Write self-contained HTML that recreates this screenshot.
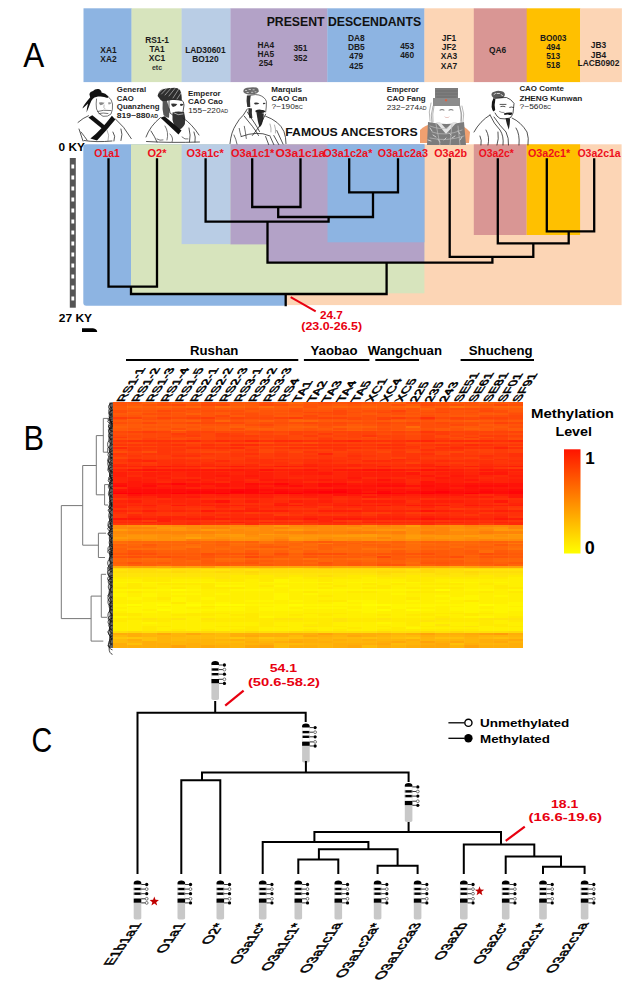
<!DOCTYPE html><html><head><meta charset="utf-8"><style>html,body{margin:0;padding:0;background:#fff;width:630px;height:982px;overflow:hidden}svg{display:block;font-family:"Liberation Sans",Arial,sans-serif}.hm rect{width:14.7px}</style></head><body>
<svg width="630" height="982" viewBox="0 0 630 982">
<text transform="translate(23.2 66.9) scale(0.9 1)" font-size="35">A</text>
<text transform="translate(23.4 449.7) scale(0.88 1)" font-size="35">B</text>
<text transform="translate(31.5 752.1) scale(0.82 1)" font-size="35">C</text>
<rect x="83.5" y="8.3" width="48.3" height="73.8" fill="#8db4e2"/>
<rect x="131.5" y="8.3" width="50.4" height="73.8" fill="#d7e4bd"/>
<rect x="181.6" y="8.3" width="49.2" height="73.8" fill="#b9cde5"/>
<rect x="230.5" y="8.3" width="97.1" height="73.8" fill="#b3a2c7"/>
<rect x="327.3" y="8.3" width="97.4" height="73.8" fill="#8db4e2"/>
<rect x="424.4" y="8.3" width="49.7" height="73.8" fill="#fcd5b5"/>
<rect x="473.8" y="8.3" width="53.2" height="73.8" fill="#d99694"/>
<rect x="526.7" y="8.3" width="53.7" height="73.8" fill="#ffc000"/>
<rect x="580.1" y="8.3" width="41.8" height="73.8" fill="#fcd5b5"/>
<text x="266.7" y="26.2" font-size="12" font-weight="bold" fill="#111" textLength="154.4" lengthAdjust="spacingAndGlyphs">PRESENT DESCENDANTS</text>
<text x="108.5" y="52.9" font-size="8.4" font-weight="bold" fill="#1a1a1a" text-anchor="middle">XA1</text>
<text x="108.5" y="62.1" font-size="8.4" font-weight="bold" fill="#1a1a1a" text-anchor="middle">XA2</text>
<text x="157" y="42.9" font-size="8.4" font-weight="bold" fill="#1a1a1a" text-anchor="middle">RS1-1</text>
<text x="157" y="52.1" font-size="8.4" font-weight="bold" fill="#1a1a1a" text-anchor="middle">TA1</text>
<text x="157" y="61.4" font-size="8.4" font-weight="bold" fill="#1a1a1a" text-anchor="middle">XC1</text>
<text x="205.4" y="52.9" font-size="8.4" font-weight="bold" fill="#1a1a1a" text-anchor="middle">LAD30601</text>
<text x="205.4" y="62.1" font-size="8.4" font-weight="bold" fill="#1a1a1a" text-anchor="middle">BO120</text>
<text x="265.8" y="47.9" font-size="8.4" font-weight="bold" fill="#1a1a1a" text-anchor="middle">HA4</text>
<text x="265.8" y="57.1" font-size="8.4" font-weight="bold" fill="#1a1a1a" text-anchor="middle">HA5</text>
<text x="265.8" y="66.1" font-size="8.4" font-weight="bold" fill="#1a1a1a" text-anchor="middle">254</text>
<text x="300.4" y="51.4" font-size="8.4" font-weight="bold" fill="#1a1a1a" text-anchor="middle">351</text>
<text x="300.4" y="60.7" font-size="8.4" font-weight="bold" fill="#1a1a1a" text-anchor="middle">352</text>
<text x="356.3" y="41.1" font-size="8.4" font-weight="bold" fill="#1a1a1a" text-anchor="middle">DA8</text>
<text x="356.3" y="50.3" font-size="8.4" font-weight="bold" fill="#1a1a1a" text-anchor="middle">DB5</text>
<text x="356.3" y="59.3" font-size="8.4" font-weight="bold" fill="#1a1a1a" text-anchor="middle">479</text>
<text x="356.3" y="68.6" font-size="8.4" font-weight="bold" fill="#1a1a1a" text-anchor="middle">425</text>
<text x="407.2" y="49.3" font-size="8.4" font-weight="bold" fill="#1a1a1a" text-anchor="middle">453</text>
<text x="407.2" y="58.3" font-size="8.4" font-weight="bold" fill="#1a1a1a" text-anchor="middle">460</text>
<text x="449" y="41.4" font-size="8.4" font-weight="bold" fill="#1a1a1a" text-anchor="middle">JF1</text>
<text x="449" y="50" font-size="8.4" font-weight="bold" fill="#1a1a1a" text-anchor="middle">JF2</text>
<text x="449" y="59.3" font-size="8.4" font-weight="bold" fill="#1a1a1a" text-anchor="middle">XA3</text>
<text x="449" y="68.6" font-size="8.4" font-weight="bold" fill="#1a1a1a" text-anchor="middle">XA7</text>
<text x="497.5" y="52.9" font-size="8.4" font-weight="bold" fill="#1a1a1a" text-anchor="middle">QA6</text>
<text x="553.2" y="40.5" font-size="8.4" font-weight="bold" fill="#1a1a1a" text-anchor="middle">BO003</text>
<text x="553.2" y="49.6" font-size="8.4" font-weight="bold" fill="#1a1a1a" text-anchor="middle">494</text>
<text x="553.2" y="58.8" font-size="8.4" font-weight="bold" fill="#1a1a1a" text-anchor="middle">513</text>
<text x="553.2" y="68" font-size="8.4" font-weight="bold" fill="#1a1a1a" text-anchor="middle">518</text>
<text x="598.5" y="48.3" font-size="8.4" font-weight="bold" fill="#1a1a1a" text-anchor="middle">JB3</text>
<text x="598.5" y="57.6" font-size="8.4" font-weight="bold" fill="#1a1a1a" text-anchor="middle">JB4</text>
<text x="598.5" y="66.3" font-size="8.4" font-weight="bold" fill="#1a1a1a" text-anchor="middle">LACB0902</text>
<text x="157" y="70" font-size="7" font-weight="bold" fill="#333" text-anchor="middle">etc</text>
<rect x="83.3" y="144.3" width="203" height="161.5" rx="3" fill="#8db4e2"/>
<rect x="285" y="144.3" width="336.6" height="160.8" fill="#fcd5b5"/>
<rect x="131" y="144.3" width="293.4" height="149" fill="#d7e4bd"/>
<rect x="181.6" y="144.3" width="49" height="99.8" fill="#b9cde5"/>
<rect x="230.5" y="144.3" width="37.5" height="100.1" fill="#b3a2c7"/>
<rect x="267.5" y="144.3" width="156.9" height="118.4" fill="#b3a2c7"/>
<rect x="327.5" y="144.3" width="96.9" height="98" fill="#8db4e2"/>
<rect x="473.8" y="144.3" width="52.9" height="90.7" fill="#d99694"/>
<rect x="526.7" y="144.3" width="53.4" height="90.7" fill="#ffc000"/>
<text x="94.3" y="157" font-size="10" font-weight="bold" fill="#ee0f1c" textLength="25.5" lengthAdjust="spacingAndGlyphs">O1a1</text>
<text x="147.5" y="157" font-size="10" font-weight="bold" fill="#ee0f1c" textLength="19.0" lengthAdjust="spacingAndGlyphs">O2*</text>
<text x="186.5" y="157" font-size="10" font-weight="bold" fill="#ee0f1c" textLength="37.2" lengthAdjust="spacingAndGlyphs">O3a1c*</text>
<text x="231" y="157" font-size="10" font-weight="bold" fill="#ee0f1c" textLength="43.4" lengthAdjust="spacingAndGlyphs">O3a1c1*</text>
<text x="275.4" y="157" font-size="10" font-weight="bold" fill="#ee0f1c" textLength="49.8" lengthAdjust="spacingAndGlyphs">O3a1c1a</text>
<text x="323.2" y="157" font-size="10" font-weight="bold" fill="#ee0f1c" textLength="49.2" lengthAdjust="spacingAndGlyphs">O3a1c2a*</text>
<text x="377.8" y="157" font-size="10" font-weight="bold" fill="#ee0f1c" textLength="50.2" lengthAdjust="spacingAndGlyphs">O3a1c2a3</text>
<text x="434.3" y="157" font-size="10" font-weight="bold" fill="#ee0f1c" textLength="32.7" lengthAdjust="spacingAndGlyphs">O3a2b</text>
<text x="478.7" y="157" font-size="10" font-weight="bold" fill="#ee0f1c" textLength="35.0" lengthAdjust="spacingAndGlyphs">O3a2c*</text>
<text x="527.9" y="157" font-size="10" font-weight="bold" fill="#ee0f1c" textLength="42.3" lengthAdjust="spacingAndGlyphs">O3a2c1*</text>
<text x="577.4" y="157" font-size="10" font-weight="bold" fill="#ee0f1c" textLength="43.3" lengthAdjust="spacingAndGlyphs">O3a2c1a</text>
<path d="M108.5 159.3L108.5 286.7 M157 159.3L157 286.7 M108.5 286.7L157 286.7 M131 286.7L131 294 M131 294L386.6 294 M285.7 294L285.7 305 M205.6 159.3L205.6 221.7 M252.2 159.3L252.2 207 M300.5 159.3L300.5 207 M252.2 207L300.5 207 M278.2 207L278.2 217 M349.2 159.3L349.2 192.4 M398 159.3L398 192.4 M349.2 192.4L398 192.4 M373 192.4L373 217 M278.2 217L373 217 M328.6 217L328.6 221.7 M205.6 221.7L328.6 221.7 M267.5 221.7L267.5 262.7 M267.5 262.7L492.4 262.7 M386.6 262.7L386.6 294 M449.7 159.3L449.7 256.8 M497.8 159.3L497.8 243.3 M546.8 159.3L546.8 231.3 M594.2 159.3L594.2 231.3 M546.8 231.3L594.2 231.3 M568.7 231.3L568.7 243.3 M497.8 243.3L568.7 243.3 M533.3 243.3L533.3 256.8 M449.7 256.8L533.3 256.8 M492.4 256.8L492.4 262.7" stroke="#000" stroke-width="2.3" fill="none" stroke-linecap="square"/>
<rect x="69.8" y="158" width="6" height="149.7" fill="#555"/>
<path d="M71.4 164.4h2.8v4h-2.8z M71.4 175.4h2.8v4h-2.8z M71.4 186.4h2.8v4h-2.8z M71.4 197.4h2.8v4h-2.8z M71.4 208.4h2.8v4h-2.8z M71.4 219.4h2.8v4h-2.8z M71.4 230.4h2.8v4h-2.8z M71.4 241.4h2.8v4h-2.8z M71.4 252.4h2.8v4h-2.8z M71.4 263.4h2.8v4h-2.8z M71.4 274.4h2.8v4h-2.8z M71.4 285.4h2.8v4h-2.8z M71.4 296.4h2.8v4h-2.8z" fill="#fff"/>
<text x="58.6" y="150.7" font-size="10" font-weight="bold" fill="#000" textLength="26.3" lengthAdjust="spacingAndGlyphs">0 KY</text>
<text x="58.8" y="322.3" font-size="11" font-weight="bold" fill="#000" textLength="33.3" lengthAdjust="spacingAndGlyphs">27 KY</text>
<path d="M82 332L82 328.3L93 328.3Q97 329 97.2 332Z" fill="#000"/>
<line x1="290.7" y1="297.1" x2="315.7" y2="311.4" stroke="#e80010" stroke-width="2"/>
<text x="331.4" y="319.3" font-size="10" font-weight="bold" fill="#e80010" text-anchor="middle" textLength="22.9" lengthAdjust="spacingAndGlyphs">24.7</text>
<text x="331.7" y="329.5" font-size="10" font-weight="bold" fill="#e80010" text-anchor="middle" textLength="60.7" lengthAdjust="spacingAndGlyphs">(23.0-26.5)</text>
<text x="285.2" y="135.5" font-size="11" font-weight="bold" fill="#111" textLength="132.4" lengthAdjust="spacingAndGlyphs">FAMOUS ANCESTORS</text>
<text x="214.2" y="355.3" font-size="13.2" font-weight="bold" fill="#000" text-anchor="middle">Rushan</text>
<text x="334" y="355.3" font-size="13.2" font-weight="bold" fill="#000" text-anchor="middle">Yaobao</text>
<text x="404.9" y="355.3" font-size="13.2" font-weight="bold" fill="#000" text-anchor="middle">Wangchuan</text>
<text x="500.7" y="355.3" font-size="13.2" font-weight="bold" fill="#000" text-anchor="middle">Shucheng</text>
<path d="M126 360L298.3 360 M303.9 360L369.4 360 M375.3 360L419 360 M460.6 360L534 360" stroke="#000" stroke-width="2" fill="none" stroke-linecap="butt"/>
<g class="hm" shape-rendering="crispEdges">
<g transform="translate(112.80 0)">
<rect y="402.4" width="14.7" height="3.8" fill="#ff5408"/>
<rect y="406.2" width="14.7" height="3.9" fill="#ff5a08"/>
<rect y="410.0" width="14.7" height="3.2" fill="#ff4e08"/>
<rect y="413.2" width="14.7" height="2.0" fill="#ff5a08"/>
<rect y="415.2" width="14.7" height="1.7" fill="#ff5408"/>
<rect y="416.8" width="14.7" height="1.9" fill="#ff3c08"/>
<rect y="418.6" width="14.7" height="1.7" fill="#ff4e08"/>
<rect y="420.2" width="14.7" height="1.7" fill="#ff5a08"/>
<rect y="421.8" width="14.7" height="2.2" fill="#ff4e08"/>
<rect y="424.0" width="14.7" height="2.2" fill="#ff5a08"/>
<rect y="426.2" width="14.7" height="1.7" fill="#ff6008"/>
<rect y="427.8" width="14.7" height="3.5" fill="#ff5a08"/>
<rect y="431.2" width="14.7" height="2.2" fill="#ff4808"/>
<rect y="433.4" width="14.7" height="1.7" fill="#ff4e08"/>
<rect y="435.0" width="14.7" height="1.7" fill="#ff4808"/>
<rect y="436.6" width="14.7" height="1.9" fill="#ff3c08"/>
<rect y="438.4" width="14.7" height="1.7" fill="#ff4e08"/>
<rect y="440.0" width="14.7" height="2.2" fill="#ff3608"/>
<rect y="442.2" width="14.7" height="1.7" fill="#ff4208"/>
<rect y="443.8" width="14.7" height="1.9" fill="#ff3608"/>
<rect y="445.6" width="14.7" height="1.7" fill="#ff4e08"/>
<rect y="447.2" width="14.7" height="1.9" fill="#ff2a08"/>
<rect y="449.0" width="14.7" height="2.0" fill="#ff4208"/>
<rect y="451.0" width="14.7" height="2.2" fill="#ff4e08"/>
<rect y="453.2" width="14.7" height="1.9" fill="#ff3608"/>
<rect y="455.0" width="14.7" height="1.7" fill="#ff3c08"/>
<rect y="456.6" width="14.7" height="2.0" fill="#ff4808"/>
<rect y="458.6" width="14.7" height="3.5" fill="#ff3608"/>
<rect y="462.0" width="14.7" height="1.9" fill="#ff3c08"/>
<rect y="463.8" width="14.7" height="2.0" fill="#ff2a08"/>
<rect y="465.8" width="14.7" height="1.7" fill="#ff2408"/>
<rect y="467.4" width="14.7" height="1.7" fill="#ff3608"/>
<rect y="469.0" width="14.7" height="1.7" fill="#ff2408"/>
<rect y="470.6" width="14.7" height="1.9" fill="#ff2a08"/>
<rect y="472.4" width="14.7" height="4.5" fill="#ff1e08"/>
<rect y="476.8" width="14.7" height="6.5" fill="#ff2408"/>
<rect y="483.2" width="14.7" height="2.0" fill="#ff1208"/>
<rect y="485.2" width="14.7" height="2.0" fill="#ff0c08"/>
<rect y="487.2" width="14.7" height="1.9" fill="#ff2a08"/>
<rect y="489.0" width="14.7" height="1.9" fill="#ff1208"/>
<rect y="490.8" width="14.7" height="1.9" fill="#ff0c08"/>
<rect y="492.6" width="14.7" height="1.7" fill="#ff0008"/>
<rect y="494.2" width="14.7" height="4.2" fill="#ff2408"/>
<rect y="498.4" width="14.7" height="2.0" fill="#ff3608"/>
<rect y="500.4" width="14.7" height="2.2" fill="#ff2408"/>
<rect y="502.6" width="14.7" height="2.0" fill="#ff2a08"/>
<rect y="504.6" width="14.7" height="3.2" fill="#ff2408"/>
<rect y="507.8" width="14.7" height="2.2" fill="#ff3608"/>
<rect y="510.0" width="14.7" height="1.9" fill="#ff2408"/>
<rect y="511.8" width="14.7" height="2.0" fill="#ff3008"/>
<rect y="513.8" width="14.7" height="4.0" fill="#ff3608"/>
<rect y="517.8" width="14.7" height="2.2" fill="#ff1808"/>
<rect y="520.0" width="14.7" height="1.7" fill="#ff3008"/>
<rect y="521.6" width="14.7" height="1.7" fill="#ff2a08"/>
<rect y="523.2" width="14.7" height="2.0" fill="#ff3608"/>
<rect y="525.2" width="14.7" height="4.0" fill="#ff8a08"/>
<rect y="529.2" width="14.7" height="2.2" fill="#ff9c08"/>
<rect y="531.4" width="14.7" height="2.2" fill="#ff8a08"/>
<rect y="533.6" width="14.7" height="3.2" fill="#ff9008"/>
<rect y="536.8" width="14.7" height="2.0" fill="#ff9c08"/>
<rect y="538.8" width="14.7" height="2.2" fill="#ff9008"/>
<rect y="541.0" width="14.7" height="1.7" fill="#ff6c08"/>
<rect y="542.6" width="14.7" height="1.7" fill="#ff7208"/>
<rect y="544.2" width="14.7" height="2.0" fill="#ff6008"/>
<rect y="546.2" width="14.7" height="2.2" fill="#ff6608"/>
<rect y="548.4" width="14.7" height="4.2" fill="#ff6008"/>
<rect y="552.6" width="14.7" height="2.0" fill="#ff5408"/>
<rect y="554.6" width="14.7" height="1.7" fill="#ff6608"/>
<rect y="556.2" width="14.7" height="2.2" fill="#ff5408"/>
<rect y="558.4" width="14.7" height="3.8" fill="#ff6608"/>
<rect y="562.2" width="14.7" height="1.7" fill="#ff6008"/>
<rect y="563.8" width="14.7" height="2.2" fill="#ff6608"/>
<rect y="566.0" width="14.7" height="1.7" fill="#ffa808"/>
<rect y="567.6" width="14.7" height="1.9" fill="#ffd808"/>
<rect y="569.4" width="14.7" height="2.0" fill="#ffe408"/>
<rect y="571.4" width="14.7" height="1.9" fill="#ffde08"/>
<rect y="573.2" width="14.7" height="4.0" fill="#ffe408"/>
<rect y="577.2" width="14.7" height="2.2" fill="#ffea00"/>
<rect y="579.4" width="14.7" height="2.2" fill="#fff000"/>
<rect y="581.6" width="14.7" height="1.7" fill="#fff600"/>
<rect y="583.2" width="14.7" height="4.0" fill="#fff000"/>
<rect y="587.2" width="14.7" height="2.2" fill="#ffea00"/>
<rect y="589.4" width="14.7" height="2.0" fill="#fff600"/>
<rect y="591.4" width="14.7" height="1.9" fill="#fff000"/>
<rect y="593.2" width="14.7" height="4.2" fill="#fff600"/>
<rect y="597.4" width="14.7" height="6.5" fill="#fff000"/>
<rect y="603.8" width="14.7" height="3.6" fill="#fff600"/>
<rect y="607.4" width="14.7" height="1.7" fill="#fff000"/>
<rect y="609.0" width="14.7" height="1.9" fill="#fff600"/>
<rect y="610.8" width="14.7" height="1.9" fill="#fff000"/>
<rect y="612.6" width="14.7" height="3.6" fill="#ffea00"/>
<rect y="616.2" width="14.7" height="1.7" fill="#fff600"/>
<rect y="617.8" width="14.7" height="4.0" fill="#ffea00"/>
<rect y="621.8" width="14.7" height="9.7" fill="#fff000"/>
<rect y="631.4" width="14.7" height="2.0" fill="#ffde08"/>
<rect y="633.4" width="14.7" height="2.0" fill="#ffae08"/>
<rect y="635.4" width="14.7" height="1.9" fill="#ffba08"/>
<rect y="637.2" width="14.7" height="1.7" fill="#ffc608"/>
<rect y="638.8" width="14.7" height="4.5" fill="#ffba08"/>
<rect y="643.2" width="14.7" height="4.5" fill="#ffae08"/>
<rect y="647.6" width="14.7" height="0.4" fill="#ffba08"/>
</g>
<g transform="translate(127.45 0)">
<rect y="402.4" width="14.7" height="2.0" fill="#ff5408"/>
<rect y="404.4" width="14.7" height="1.9" fill="#ff5a08"/>
<rect y="406.2" width="14.7" height="2.2" fill="#ff6608"/>
<rect y="408.4" width="14.7" height="1.7" fill="#ff5a08"/>
<rect y="410.0" width="14.7" height="1.7" fill="#ff5408"/>
<rect y="411.6" width="14.7" height="1.7" fill="#ff6008"/>
<rect y="413.2" width="14.7" height="2.0" fill="#ff5a08"/>
<rect y="415.2" width="14.7" height="1.7" fill="#ff5408"/>
<rect y="416.8" width="14.7" height="1.9" fill="#ff4208"/>
<rect y="418.6" width="14.7" height="1.7" fill="#ff6008"/>
<rect y="420.2" width="14.7" height="1.7" fill="#ff5a08"/>
<rect y="421.8" width="14.7" height="2.2" fill="#ff5408"/>
<rect y="424.0" width="14.7" height="3.9" fill="#ff5a08"/>
<rect y="427.8" width="14.7" height="1.9" fill="#ff5408"/>
<rect y="429.6" width="14.7" height="1.7" fill="#ff5a08"/>
<rect y="431.2" width="14.7" height="2.2" fill="#ff4208"/>
<rect y="433.4" width="14.7" height="1.7" fill="#ff4e08"/>
<rect y="435.0" width="14.7" height="3.5" fill="#ff4808"/>
<rect y="438.4" width="14.7" height="1.7" fill="#ff4e08"/>
<rect y="440.0" width="14.7" height="2.2" fill="#ff3008"/>
<rect y="442.2" width="14.7" height="1.7" fill="#ff4808"/>
<rect y="443.8" width="14.7" height="1.9" fill="#ff3608"/>
<rect y="445.6" width="14.7" height="1.7" fill="#ff4208"/>
<rect y="447.2" width="14.7" height="3.8" fill="#ff3608"/>
<rect y="451.0" width="14.7" height="2.2" fill="#ff4208"/>
<rect y="453.2" width="14.7" height="1.9" fill="#ff3c08"/>
<rect y="455.0" width="14.7" height="1.7" fill="#ff3608"/>
<rect y="456.6" width="14.7" height="2.0" fill="#ff3c08"/>
<rect y="458.6" width="14.7" height="3.5" fill="#ff2a08"/>
<rect y="462.0" width="14.7" height="1.9" fill="#ff3608"/>
<rect y="463.8" width="14.7" height="2.0" fill="#ff3008"/>
<rect y="465.8" width="14.7" height="1.7" fill="#ff2408"/>
<rect y="467.4" width="14.7" height="1.7" fill="#ff3608"/>
<rect y="469.0" width="14.7" height="1.7" fill="#ff1808"/>
<rect y="470.6" width="14.7" height="1.9" fill="#ff3008"/>
<rect y="472.4" width="14.7" height="2.2" fill="#ff2408"/>
<rect y="474.6" width="14.7" height="2.2" fill="#ff2a08"/>
<rect y="476.8" width="14.7" height="4.2" fill="#ff1e08"/>
<rect y="481.0" width="14.7" height="6.2" fill="#ff1808"/>
<rect y="487.2" width="14.7" height="1.9" fill="#ff1208"/>
<rect y="489.0" width="14.7" height="3.6" fill="#ff0c08"/>
<rect y="492.6" width="14.7" height="1.7" fill="#ff0008"/>
<rect y="494.2" width="14.7" height="2.0" fill="#ff1208"/>
<rect y="496.2" width="14.7" height="2.2" fill="#ff1e08"/>
<rect y="498.4" width="14.7" height="2.0" fill="#ff2a08"/>
<rect y="500.4" width="14.7" height="2.2" fill="#ff1e08"/>
<rect y="502.6" width="14.7" height="2.0" fill="#ff2a08"/>
<rect y="504.6" width="14.7" height="1.7" fill="#ff2408"/>
<rect y="506.2" width="14.7" height="1.7" fill="#ff3008"/>
<rect y="507.8" width="14.7" height="2.2" fill="#ff3608"/>
<rect y="510.0" width="14.7" height="1.9" fill="#ff2a08"/>
<rect y="511.8" width="14.7" height="2.0" fill="#ff3c08"/>
<rect y="513.8" width="14.7" height="1.9" fill="#ff2a08"/>
<rect y="515.6" width="14.7" height="2.2" fill="#ff2408"/>
<rect y="517.8" width="14.7" height="2.2" fill="#ff1808"/>
<rect y="520.0" width="14.7" height="1.7" fill="#ff3008"/>
<rect y="521.6" width="14.7" height="1.7" fill="#ff2a08"/>
<rect y="523.2" width="14.7" height="2.0" fill="#ff3608"/>
<rect y="525.2" width="14.7" height="2.0" fill="#ff9008"/>
<rect y="527.2" width="14.7" height="2.0" fill="#ff8408"/>
<rect y="529.2" width="14.7" height="2.2" fill="#ff9008"/>
<rect y="531.4" width="14.7" height="2.2" fill="#ff8408"/>
<rect y="533.6" width="14.7" height="1.7" fill="#ff9008"/>
<rect y="535.2" width="14.7" height="3.6" fill="#ff9608"/>
<rect y="538.8" width="14.7" height="2.2" fill="#ff8a08"/>
<rect y="541.0" width="14.7" height="1.7" fill="#ff6608"/>
<rect y="542.6" width="14.7" height="1.7" fill="#ff6c08"/>
<rect y="544.2" width="14.7" height="2.0" fill="#ff6608"/>
<rect y="546.2" width="14.7" height="2.2" fill="#ff6008"/>
<rect y="548.4" width="14.7" height="2.0" fill="#ff6c08"/>
<rect y="550.4" width="14.7" height="2.2" fill="#ff5408"/>
<rect y="552.6" width="14.7" height="2.0" fill="#ff4e08"/>
<rect y="554.6" width="14.7" height="1.7" fill="#ff6008"/>
<rect y="556.2" width="14.7" height="2.2" fill="#ff4e08"/>
<rect y="558.4" width="14.7" height="3.8" fill="#ff6608"/>
<rect y="562.2" width="14.7" height="1.7" fill="#ff5408"/>
<rect y="563.8" width="14.7" height="2.2" fill="#ff6008"/>
<rect y="566.0" width="14.7" height="1.7" fill="#ffa208"/>
<rect y="567.6" width="14.7" height="1.9" fill="#ffd808"/>
<rect y="569.4" width="14.7" height="3.8" fill="#ffde08"/>
<rect y="573.2" width="14.7" height="4.0" fill="#ffe408"/>
<rect y="577.2" width="14.7" height="2.2" fill="#ffea00"/>
<rect y="579.4" width="14.7" height="2.2" fill="#fff000"/>
<rect y="581.6" width="14.7" height="1.7" fill="#fff600"/>
<rect y="583.2" width="14.7" height="6.2" fill="#ffea00"/>
<rect y="589.4" width="14.7" height="2.0" fill="#fff600"/>
<rect y="591.4" width="14.7" height="1.9" fill="#ffea00"/>
<rect y="593.2" width="14.7" height="4.2" fill="#fff000"/>
<rect y="597.4" width="14.7" height="2.2" fill="#fff600"/>
<rect y="599.6" width="14.7" height="4.2" fill="#fff000"/>
<rect y="603.8" width="14.7" height="1.9" fill="#fffc00"/>
<rect y="605.6" width="14.7" height="1.9" fill="#fff000"/>
<rect y="607.4" width="14.7" height="5.2" fill="#fff600"/>
<rect y="612.6" width="14.7" height="3.6" fill="#ffea00"/>
<rect y="616.2" width="14.7" height="1.7" fill="#fff000"/>
<rect y="617.8" width="14.7" height="2.2" fill="#ffea00"/>
<rect y="620.0" width="14.7" height="11.5" fill="#fff000"/>
<rect y="631.4" width="14.7" height="2.0" fill="#ffd808"/>
<rect y="633.4" width="14.7" height="3.8" fill="#ffae08"/>
<rect y="637.2" width="14.7" height="1.7" fill="#ffc608"/>
<rect y="638.8" width="14.7" height="2.2" fill="#ffae08"/>
<rect y="641.0" width="14.7" height="2.2" fill="#ffb408"/>
<rect y="643.2" width="14.7" height="2.2" fill="#ffc008"/>
<rect y="645.4" width="14.7" height="2.2" fill="#ffae08"/>
<rect y="647.6" width="14.7" height="0.4" fill="#ffba08"/>
</g>
<g transform="translate(142.10 0)">
<rect y="402.4" width="14.7" height="2.0" fill="#ff6008"/>
<rect y="404.4" width="14.7" height="1.9" fill="#ff5408"/>
<rect y="406.2" width="14.7" height="2.2" fill="#ff6008"/>
<rect y="408.4" width="14.7" height="1.7" fill="#ff5a08"/>
<rect y="410.0" width="14.7" height="1.7" fill="#ff5408"/>
<rect y="411.6" width="14.7" height="1.7" fill="#ff5a08"/>
<rect y="413.2" width="14.7" height="2.0" fill="#ff4e08"/>
<rect y="415.2" width="14.7" height="1.7" fill="#ff5a08"/>
<rect y="416.8" width="14.7" height="3.5" fill="#ff4e08"/>
<rect y="420.2" width="14.7" height="1.7" fill="#ff5a08"/>
<rect y="421.8" width="14.7" height="2.2" fill="#ff4808"/>
<rect y="424.0" width="14.7" height="2.2" fill="#ff5a08"/>
<rect y="426.2" width="14.7" height="1.7" fill="#ff5408"/>
<rect y="427.8" width="14.7" height="1.9" fill="#ff5a08"/>
<rect y="429.6" width="14.7" height="1.7" fill="#ff5408"/>
<rect y="431.2" width="14.7" height="2.2" fill="#ff3c08"/>
<rect y="433.4" width="14.7" height="5.0" fill="#ff4808"/>
<rect y="438.4" width="14.7" height="1.7" fill="#ff4208"/>
<rect y="440.0" width="14.7" height="2.2" fill="#ff3008"/>
<rect y="442.2" width="14.7" height="1.7" fill="#ff4208"/>
<rect y="443.8" width="14.7" height="1.9" fill="#ff3608"/>
<rect y="445.6" width="14.7" height="1.7" fill="#ff4808"/>
<rect y="447.2" width="14.7" height="1.9" fill="#ff3608"/>
<rect y="449.0" width="14.7" height="2.0" fill="#ff3c08"/>
<rect y="451.0" width="14.7" height="2.2" fill="#ff4e08"/>
<rect y="453.2" width="14.7" height="1.9" fill="#ff3608"/>
<rect y="455.0" width="14.7" height="3.6" fill="#ff3c08"/>
<rect y="458.6" width="14.7" height="1.9" fill="#ff3608"/>
<rect y="460.4" width="14.7" height="1.7" fill="#ff2408"/>
<rect y="462.0" width="14.7" height="1.9" fill="#ff3c08"/>
<rect y="463.8" width="14.7" height="2.0" fill="#ff3608"/>
<rect y="465.8" width="14.7" height="1.7" fill="#ff1e08"/>
<rect y="467.4" width="14.7" height="1.7" fill="#ff2a08"/>
<rect y="469.0" width="14.7" height="1.7" fill="#ff1208"/>
<rect y="470.6" width="14.7" height="1.9" fill="#ff3008"/>
<rect y="472.4" width="14.7" height="4.5" fill="#ff1e08"/>
<rect y="476.8" width="14.7" height="2.0" fill="#ff2408"/>
<rect y="478.8" width="14.7" height="4.5" fill="#ff1e08"/>
<rect y="483.2" width="14.7" height="2.0" fill="#ff1208"/>
<rect y="485.2" width="14.7" height="2.0" fill="#ff0c08"/>
<rect y="487.2" width="14.7" height="1.9" fill="#ff1808"/>
<rect y="489.0" width="14.7" height="3.6" fill="#ff0c08"/>
<rect y="492.6" width="14.7" height="1.7" fill="#ff0608"/>
<rect y="494.2" width="14.7" height="2.0" fill="#ff1808"/>
<rect y="496.2" width="14.7" height="2.2" fill="#ff2408"/>
<rect y="498.4" width="14.7" height="6.2" fill="#ff2a08"/>
<rect y="504.6" width="14.7" height="1.7" fill="#ff1e08"/>
<rect y="506.2" width="14.7" height="1.7" fill="#ff2a08"/>
<rect y="507.8" width="14.7" height="2.2" fill="#ff3008"/>
<rect y="510.0" width="14.7" height="1.9" fill="#ff1e08"/>
<rect y="511.8" width="14.7" height="3.8" fill="#ff3008"/>
<rect y="515.6" width="14.7" height="2.2" fill="#ff2a08"/>
<rect y="517.8" width="14.7" height="2.2" fill="#ff1e08"/>
<rect y="520.0" width="14.7" height="1.7" fill="#ff3c08"/>
<rect y="521.6" width="14.7" height="1.7" fill="#ff2408"/>
<rect y="523.2" width="14.7" height="2.0" fill="#ff3608"/>
<rect y="525.2" width="14.7" height="2.0" fill="#ff9608"/>
<rect y="527.2" width="14.7" height="2.0" fill="#ff8408"/>
<rect y="529.2" width="14.7" height="2.2" fill="#ff9008"/>
<rect y="531.4" width="14.7" height="2.2" fill="#ff8408"/>
<rect y="533.6" width="14.7" height="1.7" fill="#ff9008"/>
<rect y="535.2" width="14.7" height="3.6" fill="#ff9608"/>
<rect y="538.8" width="14.7" height="2.2" fill="#ff9008"/>
<rect y="541.0" width="14.7" height="1.7" fill="#ff6608"/>
<rect y="542.6" width="14.7" height="1.7" fill="#ff6c08"/>
<rect y="544.2" width="14.7" height="2.0" fill="#ff5a08"/>
<rect y="546.2" width="14.7" height="2.2" fill="#ff6008"/>
<rect y="548.4" width="14.7" height="2.0" fill="#ff6c08"/>
<rect y="550.4" width="14.7" height="2.2" fill="#ff5a08"/>
<rect y="552.6" width="14.7" height="2.0" fill="#ff4e08"/>
<rect y="554.6" width="14.7" height="1.7" fill="#ff6008"/>
<rect y="556.2" width="14.7" height="2.2" fill="#ff5408"/>
<rect y="558.4" width="14.7" height="2.0" fill="#ff6c08"/>
<rect y="560.4" width="14.7" height="1.9" fill="#ff6608"/>
<rect y="562.2" width="14.7" height="3.9" fill="#ff6008"/>
<rect y="566.0" width="14.7" height="1.7" fill="#ffa208"/>
<rect y="567.6" width="14.7" height="1.9" fill="#ffd808"/>
<rect y="569.4" width="14.7" height="3.8" fill="#ffde08"/>
<rect y="573.2" width="14.7" height="4.0" fill="#ffe408"/>
<rect y="577.2" width="14.7" height="4.5" fill="#ffea00"/>
<rect y="581.6" width="14.7" height="1.7" fill="#fff600"/>
<rect y="583.2" width="14.7" height="4.0" fill="#fff000"/>
<rect y="587.2" width="14.7" height="2.2" fill="#ffea00"/>
<rect y="589.4" width="14.7" height="2.0" fill="#fff600"/>
<rect y="591.4" width="14.7" height="1.9" fill="#fff000"/>
<rect y="593.2" width="14.7" height="4.2" fill="#fff600"/>
<rect y="597.4" width="14.7" height="4.2" fill="#fff000"/>
<rect y="601.6" width="14.7" height="7.5" fill="#fff600"/>
<rect y="609.0" width="14.7" height="1.9" fill="#fff000"/>
<rect y="610.8" width="14.7" height="1.9" fill="#fff600"/>
<rect y="612.6" width="14.7" height="5.2" fill="#fff000"/>
<rect y="617.8" width="14.7" height="2.2" fill="#ffe408"/>
<rect y="620.0" width="14.7" height="1.9" fill="#ffea00"/>
<rect y="621.8" width="14.7" height="2.0" fill="#fff600"/>
<rect y="623.8" width="14.7" height="2.0" fill="#fff000"/>
<rect y="625.8" width="14.7" height="5.7" fill="#ffea00"/>
<rect y="631.4" width="14.7" height="2.0" fill="#ffde08"/>
<rect y="633.4" width="14.7" height="3.8" fill="#ffb408"/>
<rect y="637.2" width="14.7" height="3.9" fill="#ffc008"/>
<rect y="641.0" width="14.7" height="6.7" fill="#ffae08"/>
<rect y="647.6" width="14.7" height="0.4" fill="#ffba08"/>
</g>
<g transform="translate(156.75 0)">
<rect y="402.4" width="14.7" height="2.0" fill="#ff5408"/>
<rect y="404.4" width="14.7" height="1.9" fill="#ff4e08"/>
<rect y="406.2" width="14.7" height="2.2" fill="#ff6608"/>
<rect y="408.4" width="14.7" height="1.7" fill="#ff5a08"/>
<rect y="410.0" width="14.7" height="1.7" fill="#ff4808"/>
<rect y="411.6" width="14.7" height="1.7" fill="#ff5408"/>
<rect y="413.2" width="14.7" height="2.0" fill="#ff4e08"/>
<rect y="415.2" width="14.7" height="1.7" fill="#ff5408"/>
<rect y="416.8" width="14.7" height="1.9" fill="#ff4208"/>
<rect y="418.6" width="14.7" height="1.7" fill="#ff4e08"/>
<rect y="420.2" width="14.7" height="1.7" fill="#ff5a08"/>
<rect y="421.8" width="14.7" height="2.2" fill="#ff5408"/>
<rect y="424.0" width="14.7" height="2.2" fill="#ff5a08"/>
<rect y="426.2" width="14.7" height="1.7" fill="#ff5408"/>
<rect y="427.8" width="14.7" height="1.9" fill="#ff5a08"/>
<rect y="429.6" width="14.7" height="1.7" fill="#ff5408"/>
<rect y="431.2" width="14.7" height="2.2" fill="#ff4208"/>
<rect y="433.4" width="14.7" height="3.2" fill="#ff4808"/>
<rect y="436.6" width="14.7" height="1.9" fill="#ff4208"/>
<rect y="438.4" width="14.7" height="1.7" fill="#ff4808"/>
<rect y="440.0" width="14.7" height="2.2" fill="#ff3008"/>
<rect y="442.2" width="14.7" height="1.7" fill="#ff3c08"/>
<rect y="443.8" width="14.7" height="1.9" fill="#ff3608"/>
<rect y="445.6" width="14.7" height="1.7" fill="#ff3c08"/>
<rect y="447.2" width="14.7" height="7.8" fill="#ff3608"/>
<rect y="455.0" width="14.7" height="3.6" fill="#ff3c08"/>
<rect y="458.6" width="14.7" height="1.9" fill="#ff3608"/>
<rect y="460.4" width="14.7" height="5.5" fill="#ff3008"/>
<rect y="465.8" width="14.7" height="1.7" fill="#ff1808"/>
<rect y="467.4" width="14.7" height="1.7" fill="#ff3008"/>
<rect y="469.0" width="14.7" height="1.7" fill="#ff1808"/>
<rect y="470.6" width="14.7" height="1.9" fill="#ff2a08"/>
<rect y="472.4" width="14.7" height="2.2" fill="#ff1e08"/>
<rect y="474.6" width="14.7" height="2.2" fill="#ff2408"/>
<rect y="476.8" width="14.7" height="2.0" fill="#ff1e08"/>
<rect y="478.8" width="14.7" height="2.2" fill="#ff2408"/>
<rect y="481.0" width="14.7" height="2.2" fill="#ff2a08"/>
<rect y="483.2" width="14.7" height="2.0" fill="#ff1208"/>
<rect y="485.2" width="14.7" height="2.0" fill="#ff1e08"/>
<rect y="487.2" width="14.7" height="1.9" fill="#ff1808"/>
<rect y="489.0" width="14.7" height="5.2" fill="#ff0c08"/>
<rect y="494.2" width="14.7" height="4.2" fill="#ff1808"/>
<rect y="498.4" width="14.7" height="2.0" fill="#ff3008"/>
<rect y="500.4" width="14.7" height="2.2" fill="#ff2408"/>
<rect y="502.6" width="14.7" height="2.0" fill="#ff2a08"/>
<rect y="504.6" width="14.7" height="5.5" fill="#ff3008"/>
<rect y="510.0" width="14.7" height="1.9" fill="#ff2a08"/>
<rect y="511.8" width="14.7" height="3.8" fill="#ff3608"/>
<rect y="515.6" width="14.7" height="2.2" fill="#ff2408"/>
<rect y="517.8" width="14.7" height="3.9" fill="#ff1e08"/>
<rect y="521.6" width="14.7" height="3.6" fill="#ff3008"/>
<rect y="525.2" width="14.7" height="2.0" fill="#ff9008"/>
<rect y="527.2" width="14.7" height="2.0" fill="#ff9608"/>
<rect y="529.2" width="14.7" height="2.2" fill="#ff9008"/>
<rect y="531.4" width="14.7" height="2.2" fill="#ff8408"/>
<rect y="533.6" width="14.7" height="7.5" fill="#ff9008"/>
<rect y="541.0" width="14.7" height="1.7" fill="#ff6608"/>
<rect y="542.6" width="14.7" height="1.7" fill="#ff6c08"/>
<rect y="544.2" width="14.7" height="4.2" fill="#ff6608"/>
<rect y="548.4" width="14.7" height="2.0" fill="#ff6c08"/>
<rect y="550.4" width="14.7" height="2.2" fill="#ff6008"/>
<rect y="552.6" width="14.7" height="2.0" fill="#ff5a08"/>
<rect y="554.6" width="14.7" height="1.7" fill="#ff6008"/>
<rect y="556.2" width="14.7" height="2.2" fill="#ff4e08"/>
<rect y="558.4" width="14.7" height="2.0" fill="#ff6c08"/>
<rect y="560.4" width="14.7" height="1.9" fill="#ff6608"/>
<rect y="562.2" width="14.7" height="1.7" fill="#ff5a08"/>
<rect y="563.8" width="14.7" height="2.2" fill="#ff6608"/>
<rect y="566.0" width="14.7" height="1.7" fill="#ffa808"/>
<rect y="567.6" width="14.7" height="1.9" fill="#ffd208"/>
<rect y="569.4" width="14.7" height="2.0" fill="#ffe408"/>
<rect y="571.4" width="14.7" height="1.9" fill="#ffde08"/>
<rect y="573.2" width="14.7" height="4.0" fill="#ffe408"/>
<rect y="577.2" width="14.7" height="4.5" fill="#ffea00"/>
<rect y="581.6" width="14.7" height="1.7" fill="#fff600"/>
<rect y="583.2" width="14.7" height="1.9" fill="#ffea00"/>
<rect y="585.0" width="14.7" height="4.5" fill="#fff000"/>
<rect y="589.4" width="14.7" height="2.0" fill="#fff600"/>
<rect y="591.4" width="14.7" height="6.0" fill="#fff000"/>
<rect y="597.4" width="14.7" height="2.2" fill="#ffea00"/>
<rect y="599.6" width="14.7" height="2.0" fill="#fff000"/>
<rect y="601.6" width="14.7" height="2.2" fill="#fff600"/>
<rect y="603.8" width="14.7" height="1.9" fill="#fffc00"/>
<rect y="605.6" width="14.7" height="1.9" fill="#fff000"/>
<rect y="607.4" width="14.7" height="1.7" fill="#fff600"/>
<rect y="609.0" width="14.7" height="1.9" fill="#fffc00"/>
<rect y="610.8" width="14.7" height="7.0" fill="#fff000"/>
<rect y="617.8" width="14.7" height="4.0" fill="#ffea00"/>
<rect y="621.8" width="14.7" height="4.0" fill="#fff000"/>
<rect y="625.8" width="14.7" height="1.7" fill="#ffea00"/>
<rect y="627.4" width="14.7" height="4.0" fill="#fff000"/>
<rect y="631.4" width="14.7" height="2.0" fill="#ffd808"/>
<rect y="633.4" width="14.7" height="2.0" fill="#ffa808"/>
<rect y="635.4" width="14.7" height="7.9" fill="#ffb408"/>
<rect y="643.2" width="14.7" height="4.8" fill="#ffae08"/>
</g>
<g transform="translate(171.40 0)">
<rect y="402.4" width="14.7" height="2.0" fill="#ff5a08"/>
<rect y="404.4" width="14.7" height="1.9" fill="#ff4808"/>
<rect y="406.2" width="14.7" height="2.2" fill="#ff6008"/>
<rect y="408.4" width="14.7" height="1.7" fill="#ff5408"/>
<rect y="410.0" width="14.7" height="1.7" fill="#ff4e08"/>
<rect y="411.6" width="14.7" height="1.7" fill="#ff5a08"/>
<rect y="413.2" width="14.7" height="3.6" fill="#ff5408"/>
<rect y="416.8" width="14.7" height="1.9" fill="#ff4808"/>
<rect y="418.6" width="14.7" height="3.2" fill="#ff5a08"/>
<rect y="421.8" width="14.7" height="2.2" fill="#ff4e08"/>
<rect y="424.0" width="14.7" height="3.9" fill="#ff5a08"/>
<rect y="427.8" width="14.7" height="1.9" fill="#ff4e08"/>
<rect y="429.6" width="14.7" height="1.7" fill="#ff6608"/>
<rect y="431.2" width="14.7" height="2.2" fill="#ff4e08"/>
<rect y="433.4" width="14.7" height="1.7" fill="#ff3c08"/>
<rect y="435.0" width="14.7" height="1.7" fill="#ff4208"/>
<rect y="436.6" width="14.7" height="1.9" fill="#ff4808"/>
<rect y="438.4" width="14.7" height="1.7" fill="#ff4e08"/>
<rect y="440.0" width="14.7" height="2.2" fill="#ff3008"/>
<rect y="442.2" width="14.7" height="1.7" fill="#ff4208"/>
<rect y="443.8" width="14.7" height="1.9" fill="#ff3008"/>
<rect y="445.6" width="14.7" height="1.7" fill="#ff4208"/>
<rect y="447.2" width="14.7" height="3.8" fill="#ff3608"/>
<rect y="451.0" width="14.7" height="2.2" fill="#ff3c08"/>
<rect y="453.2" width="14.7" height="1.9" fill="#ff3608"/>
<rect y="455.0" width="14.7" height="1.7" fill="#ff3008"/>
<rect y="456.6" width="14.7" height="2.0" fill="#ff3c08"/>
<rect y="458.6" width="14.7" height="5.2" fill="#ff3008"/>
<rect y="463.8" width="14.7" height="2.0" fill="#ff2a08"/>
<rect y="465.8" width="14.7" height="1.7" fill="#ff1e08"/>
<rect y="467.4" width="14.7" height="1.7" fill="#ff3008"/>
<rect y="469.0" width="14.7" height="1.7" fill="#ff1808"/>
<rect y="470.6" width="14.7" height="6.2" fill="#ff2408"/>
<rect y="476.8" width="14.7" height="2.0" fill="#ff2a08"/>
<rect y="478.8" width="14.7" height="4.5" fill="#ff1e08"/>
<rect y="483.2" width="14.7" height="2.0" fill="#ff0608"/>
<rect y="485.2" width="14.7" height="3.8" fill="#ff1808"/>
<rect y="489.0" width="14.7" height="3.6" fill="#ff0c08"/>
<rect y="492.6" width="14.7" height="1.7" fill="#ff0008"/>
<rect y="494.2" width="14.7" height="4.2" fill="#ff1e08"/>
<rect y="498.4" width="14.7" height="4.2" fill="#ff2408"/>
<rect y="502.6" width="14.7" height="2.0" fill="#ff2a08"/>
<rect y="504.6" width="14.7" height="1.7" fill="#ff1808"/>
<rect y="506.2" width="14.7" height="3.9" fill="#ff3008"/>
<rect y="510.0" width="14.7" height="1.9" fill="#ff2408"/>
<rect y="511.8" width="14.7" height="3.8" fill="#ff3608"/>
<rect y="515.6" width="14.7" height="4.5" fill="#ff2408"/>
<rect y="520.0" width="14.7" height="5.2" fill="#ff3008"/>
<rect y="525.2" width="14.7" height="2.0" fill="#ff8a08"/>
<rect y="527.2" width="14.7" height="4.2" fill="#ff9608"/>
<rect y="531.4" width="14.7" height="2.2" fill="#ff8408"/>
<rect y="533.6" width="14.7" height="1.7" fill="#ff8a08"/>
<rect y="535.2" width="14.7" height="1.7" fill="#ff9008"/>
<rect y="536.8" width="14.7" height="2.0" fill="#ff9608"/>
<rect y="538.8" width="14.7" height="2.2" fill="#ff9008"/>
<rect y="541.0" width="14.7" height="1.7" fill="#ff6608"/>
<rect y="542.6" width="14.7" height="1.7" fill="#ff6c08"/>
<rect y="544.2" width="14.7" height="2.0" fill="#ff6608"/>
<rect y="546.2" width="14.7" height="4.2" fill="#ff6c08"/>
<rect y="550.4" width="14.7" height="2.2" fill="#ff6008"/>
<rect y="552.6" width="14.7" height="2.0" fill="#ff5a08"/>
<rect y="554.6" width="14.7" height="1.7" fill="#ff6008"/>
<rect y="556.2" width="14.7" height="2.2" fill="#ff5408"/>
<rect y="558.4" width="14.7" height="7.7" fill="#ff6008"/>
<rect y="566.0" width="14.7" height="1.7" fill="#ff9c08"/>
<rect y="567.6" width="14.7" height="1.9" fill="#ffd808"/>
<rect y="569.4" width="14.7" height="2.0" fill="#ffde08"/>
<rect y="571.4" width="14.7" height="1.9" fill="#ffd808"/>
<rect y="573.2" width="14.7" height="4.0" fill="#ffe408"/>
<rect y="577.2" width="14.7" height="2.2" fill="#ffea00"/>
<rect y="579.4" width="14.7" height="2.2" fill="#fff000"/>
<rect y="581.6" width="14.7" height="1.7" fill="#fff600"/>
<rect y="583.2" width="14.7" height="1.9" fill="#ffea00"/>
<rect y="585.0" width="14.7" height="2.2" fill="#fff000"/>
<rect y="587.2" width="14.7" height="2.2" fill="#ffea00"/>
<rect y="589.4" width="14.7" height="2.0" fill="#fffc00"/>
<rect y="591.4" width="14.7" height="1.9" fill="#fff000"/>
<rect y="593.2" width="14.7" height="2.2" fill="#fff600"/>
<rect y="595.4" width="14.7" height="2.0" fill="#fff000"/>
<rect y="597.4" width="14.7" height="4.2" fill="#fff600"/>
<rect y="601.6" width="14.7" height="2.2" fill="#ffea00"/>
<rect y="603.8" width="14.7" height="8.9" fill="#fff600"/>
<rect y="612.6" width="14.7" height="1.9" fill="#fff000"/>
<rect y="614.4" width="14.7" height="1.9" fill="#ffea00"/>
<rect y="616.2" width="14.7" height="1.7" fill="#fff000"/>
<rect y="617.8" width="14.7" height="2.2" fill="#ffe408"/>
<rect y="620.0" width="14.7" height="9.3" fill="#fff000"/>
<rect y="629.2" width="14.7" height="2.2" fill="#ffea00"/>
<rect y="631.4" width="14.7" height="2.0" fill="#ffd808"/>
<rect y="633.4" width="14.7" height="3.8" fill="#ffb408"/>
<rect y="637.2" width="14.7" height="3.9" fill="#ffba08"/>
<rect y="641.0" width="14.7" height="4.5" fill="#ffb408"/>
<rect y="645.4" width="14.7" height="2.2" fill="#ffa208"/>
<rect y="647.6" width="14.7" height="0.4" fill="#ffb408"/>
</g>
<g transform="translate(186.05 0)">
<rect y="402.4" width="14.7" height="2.0" fill="#ff5a08"/>
<rect y="404.4" width="14.7" height="1.9" fill="#ff5408"/>
<rect y="406.2" width="14.7" height="2.2" fill="#ff6608"/>
<rect y="408.4" width="14.7" height="1.7" fill="#ff4e08"/>
<rect y="410.0" width="14.7" height="3.2" fill="#ff5408"/>
<rect y="413.2" width="14.7" height="2.0" fill="#ff6008"/>
<rect y="415.2" width="14.7" height="1.7" fill="#ff4e08"/>
<rect y="416.8" width="14.7" height="1.9" fill="#ff4208"/>
<rect y="418.6" width="14.7" height="1.7" fill="#ff5408"/>
<rect y="420.2" width="14.7" height="1.7" fill="#ff6008"/>
<rect y="421.8" width="14.7" height="2.2" fill="#ff4808"/>
<rect y="424.0" width="14.7" height="2.2" fill="#ff5a08"/>
<rect y="426.2" width="14.7" height="1.7" fill="#ff5408"/>
<rect y="427.8" width="14.7" height="1.9" fill="#ff5a08"/>
<rect y="429.6" width="14.7" height="1.7" fill="#ff5408"/>
<rect y="431.2" width="14.7" height="3.9" fill="#ff4208"/>
<rect y="435.0" width="14.7" height="1.7" fill="#ff3c08"/>
<rect y="436.6" width="14.7" height="1.9" fill="#ff4e08"/>
<rect y="438.4" width="14.7" height="1.7" fill="#ff4808"/>
<rect y="440.0" width="14.7" height="2.2" fill="#ff2a08"/>
<rect y="442.2" width="14.7" height="1.7" fill="#ff4808"/>
<rect y="443.8" width="14.7" height="3.5" fill="#ff3c08"/>
<rect y="447.2" width="14.7" height="1.9" fill="#ff3008"/>
<rect y="449.0" width="14.7" height="4.2" fill="#ff4208"/>
<rect y="453.2" width="14.7" height="1.9" fill="#ff3608"/>
<rect y="455.0" width="14.7" height="1.7" fill="#ff3008"/>
<rect y="456.6" width="14.7" height="2.0" fill="#ff4208"/>
<rect y="458.6" width="14.7" height="1.9" fill="#ff3608"/>
<rect y="460.4" width="14.7" height="1.7" fill="#ff3008"/>
<rect y="462.0" width="14.7" height="1.9" fill="#ff3608"/>
<rect y="463.8" width="14.7" height="2.0" fill="#ff3008"/>
<rect y="465.8" width="14.7" height="1.7" fill="#ff1e08"/>
<rect y="467.4" width="14.7" height="1.7" fill="#ff3008"/>
<rect y="469.0" width="14.7" height="1.7" fill="#ff1808"/>
<rect y="470.6" width="14.7" height="1.9" fill="#ff2408"/>
<rect y="472.4" width="14.7" height="4.5" fill="#ff1e08"/>
<rect y="476.8" width="14.7" height="2.0" fill="#ff2a08"/>
<rect y="478.8" width="14.7" height="2.2" fill="#ff1808"/>
<rect y="481.0" width="14.7" height="2.2" fill="#ff2408"/>
<rect y="483.2" width="14.7" height="4.0" fill="#ff1208"/>
<rect y="487.2" width="14.7" height="1.9" fill="#ff2408"/>
<rect y="489.0" width="14.7" height="1.9" fill="#ff0c08"/>
<rect y="490.8" width="14.7" height="3.5" fill="#ff0608"/>
<rect y="494.2" width="14.7" height="2.0" fill="#ff1e08"/>
<rect y="496.2" width="14.7" height="2.2" fill="#ff1808"/>
<rect y="498.4" width="14.7" height="2.0" fill="#ff2a08"/>
<rect y="500.4" width="14.7" height="5.9" fill="#ff2408"/>
<rect y="506.2" width="14.7" height="1.7" fill="#ff3008"/>
<rect y="507.8" width="14.7" height="2.2" fill="#ff3608"/>
<rect y="510.0" width="14.7" height="1.9" fill="#ff2a08"/>
<rect y="511.8" width="14.7" height="2.0" fill="#ff3608"/>
<rect y="513.8" width="14.7" height="1.9" fill="#ff3008"/>
<rect y="515.6" width="14.7" height="2.2" fill="#ff2a08"/>
<rect y="517.8" width="14.7" height="2.2" fill="#ff1e08"/>
<rect y="520.0" width="14.7" height="1.7" fill="#ff3008"/>
<rect y="521.6" width="14.7" height="3.6" fill="#ff2a08"/>
<rect y="525.2" width="14.7" height="4.0" fill="#ff8a08"/>
<rect y="529.2" width="14.7" height="2.2" fill="#ff9008"/>
<rect y="531.4" width="14.7" height="2.2" fill="#ff8408"/>
<rect y="533.6" width="14.7" height="3.2" fill="#ff9608"/>
<rect y="536.8" width="14.7" height="2.0" fill="#ffa208"/>
<rect y="538.8" width="14.7" height="2.2" fill="#ff7e08"/>
<rect y="541.0" width="14.7" height="1.7" fill="#ff6608"/>
<rect y="542.6" width="14.7" height="1.7" fill="#ff6008"/>
<rect y="544.2" width="14.7" height="2.0" fill="#ff6c08"/>
<rect y="546.2" width="14.7" height="2.2" fill="#ff7208"/>
<rect y="548.4" width="14.7" height="4.2" fill="#ff6008"/>
<rect y="552.6" width="14.7" height="2.0" fill="#ff5a08"/>
<rect y="554.6" width="14.7" height="1.7" fill="#ff6008"/>
<rect y="556.2" width="14.7" height="4.2" fill="#ff5a08"/>
<rect y="560.4" width="14.7" height="1.9" fill="#ff6608"/>
<rect y="562.2" width="14.7" height="3.9" fill="#ff6008"/>
<rect y="566.0" width="14.7" height="1.7" fill="#ffa208"/>
<rect y="567.6" width="14.7" height="1.9" fill="#ffd808"/>
<rect y="569.4" width="14.7" height="3.8" fill="#ffde08"/>
<rect y="573.2" width="14.7" height="4.0" fill="#ffe408"/>
<rect y="577.2" width="14.7" height="2.2" fill="#ffea00"/>
<rect y="579.4" width="14.7" height="2.2" fill="#fff000"/>
<rect y="581.6" width="14.7" height="1.7" fill="#fff600"/>
<rect y="583.2" width="14.7" height="1.9" fill="#ffea00"/>
<rect y="585.0" width="14.7" height="4.5" fill="#fff000"/>
<rect y="589.4" width="14.7" height="2.0" fill="#fff600"/>
<rect y="591.4" width="14.7" height="1.9" fill="#fff000"/>
<rect y="593.2" width="14.7" height="2.2" fill="#fff600"/>
<rect y="595.4" width="14.7" height="6.2" fill="#fff000"/>
<rect y="601.6" width="14.7" height="2.2" fill="#fff600"/>
<rect y="603.8" width="14.7" height="1.9" fill="#fffc00"/>
<rect y="605.6" width="14.7" height="1.9" fill="#fff600"/>
<rect y="607.4" width="14.7" height="1.7" fill="#fff000"/>
<rect y="609.0" width="14.7" height="3.6" fill="#fff600"/>
<rect y="612.6" width="14.7" height="3.6" fill="#ffea00"/>
<rect y="616.2" width="14.7" height="15.3" fill="#fff000"/>
<rect y="631.4" width="14.7" height="2.0" fill="#ffd808"/>
<rect y="633.4" width="14.7" height="2.0" fill="#ffa808"/>
<rect y="635.4" width="14.7" height="3.5" fill="#ffba08"/>
<rect y="638.8" width="14.7" height="4.5" fill="#ffb408"/>
<rect y="643.2" width="14.7" height="4.5" fill="#ffae08"/>
<rect y="647.6" width="14.7" height="0.4" fill="#ffb408"/>
</g>
<g transform="translate(200.70 0)">
<rect y="402.4" width="14.7" height="2.0" fill="#ff4e08"/>
<rect y="404.4" width="14.7" height="1.9" fill="#ff4808"/>
<rect y="406.2" width="14.7" height="2.2" fill="#ff5a08"/>
<rect y="408.4" width="14.7" height="1.7" fill="#ff5408"/>
<rect y="410.0" width="14.7" height="1.7" fill="#ff4e08"/>
<rect y="411.6" width="14.7" height="5.2" fill="#ff5408"/>
<rect y="416.8" width="14.7" height="1.9" fill="#ff3c08"/>
<rect y="418.6" width="14.7" height="3.2" fill="#ff4e08"/>
<rect y="421.8" width="14.7" height="2.2" fill="#ff4808"/>
<rect y="424.0" width="14.7" height="2.2" fill="#ff5408"/>
<rect y="426.2" width="14.7" height="1.7" fill="#ff5a08"/>
<rect y="427.8" width="14.7" height="3.5" fill="#ff5408"/>
<rect y="431.2" width="14.7" height="2.2" fill="#ff4208"/>
<rect y="433.4" width="14.7" height="6.6" fill="#ff4808"/>
<rect y="440.0" width="14.7" height="2.2" fill="#ff3608"/>
<rect y="442.2" width="14.7" height="1.7" fill="#ff4208"/>
<rect y="443.8" width="14.7" height="1.9" fill="#ff3008"/>
<rect y="445.6" width="14.7" height="1.7" fill="#ff3c08"/>
<rect y="447.2" width="14.7" height="1.9" fill="#ff3008"/>
<rect y="449.0" width="14.7" height="2.0" fill="#ff4208"/>
<rect y="451.0" width="14.7" height="2.2" fill="#ff4808"/>
<rect y="453.2" width="14.7" height="1.9" fill="#ff3608"/>
<rect y="455.0" width="14.7" height="1.7" fill="#ff3c08"/>
<rect y="456.6" width="14.7" height="2.0" fill="#ff4208"/>
<rect y="458.6" width="14.7" height="3.5" fill="#ff3608"/>
<rect y="462.0" width="14.7" height="1.9" fill="#ff3008"/>
<rect y="463.8" width="14.7" height="2.0" fill="#ff2a08"/>
<rect y="465.8" width="14.7" height="1.7" fill="#ff2408"/>
<rect y="467.4" width="14.7" height="1.7" fill="#ff3c08"/>
<rect y="469.0" width="14.7" height="1.7" fill="#ff1808"/>
<rect y="470.6" width="14.7" height="1.9" fill="#ff2408"/>
<rect y="472.4" width="14.7" height="6.5" fill="#ff1e08"/>
<rect y="478.8" width="14.7" height="2.2" fill="#ff2408"/>
<rect y="481.0" width="14.7" height="2.2" fill="#ff1e08"/>
<rect y="483.2" width="14.7" height="2.0" fill="#ff1208"/>
<rect y="485.2" width="14.7" height="3.8" fill="#ff1e08"/>
<rect y="489.0" width="14.7" height="1.9" fill="#ff0c08"/>
<rect y="490.8" width="14.7" height="3.5" fill="#ff0608"/>
<rect y="494.2" width="14.7" height="4.2" fill="#ff2408"/>
<rect y="498.4" width="14.7" height="2.0" fill="#ff3008"/>
<rect y="500.4" width="14.7" height="2.2" fill="#ff1e08"/>
<rect y="502.6" width="14.7" height="2.0" fill="#ff2a08"/>
<rect y="504.6" width="14.7" height="1.7" fill="#ff1e08"/>
<rect y="506.2" width="14.7" height="1.7" fill="#ff3008"/>
<rect y="507.8" width="14.7" height="2.2" fill="#ff3608"/>
<rect y="510.0" width="14.7" height="1.9" fill="#ff1808"/>
<rect y="511.8" width="14.7" height="3.8" fill="#ff3008"/>
<rect y="515.6" width="14.7" height="2.2" fill="#ff2408"/>
<rect y="517.8" width="14.7" height="2.2" fill="#ff1e08"/>
<rect y="520.0" width="14.7" height="1.7" fill="#ff3608"/>
<rect y="521.6" width="14.7" height="1.7" fill="#ff3008"/>
<rect y="523.2" width="14.7" height="2.0" fill="#ff3608"/>
<rect y="525.2" width="14.7" height="2.0" fill="#ff8a08"/>
<rect y="527.2" width="14.7" height="2.0" fill="#ff8408"/>
<rect y="529.2" width="14.7" height="2.2" fill="#ff9c08"/>
<rect y="531.4" width="14.7" height="2.2" fill="#ff8408"/>
<rect y="533.6" width="14.7" height="3.2" fill="#ff9008"/>
<rect y="536.8" width="14.7" height="2.0" fill="#ff9608"/>
<rect y="538.8" width="14.7" height="2.2" fill="#ff8408"/>
<rect y="541.0" width="14.7" height="1.7" fill="#ff6608"/>
<rect y="542.6" width="14.7" height="1.7" fill="#ff6c08"/>
<rect y="544.2" width="14.7" height="8.5" fill="#ff6608"/>
<rect y="552.6" width="14.7" height="2.0" fill="#ff4e08"/>
<rect y="554.6" width="14.7" height="3.9" fill="#ff5408"/>
<rect y="558.4" width="14.7" height="2.0" fill="#ff6008"/>
<rect y="560.4" width="14.7" height="3.5" fill="#ff5a08"/>
<rect y="563.8" width="14.7" height="2.2" fill="#ff6008"/>
<rect y="566.0" width="14.7" height="1.7" fill="#ff9c08"/>
<rect y="567.6" width="14.7" height="1.9" fill="#ffd808"/>
<rect y="569.4" width="14.7" height="2.0" fill="#ffe408"/>
<rect y="571.4" width="14.7" height="1.9" fill="#ffde08"/>
<rect y="573.2" width="14.7" height="4.0" fill="#ffe408"/>
<rect y="577.2" width="14.7" height="2.2" fill="#ffea00"/>
<rect y="579.4" width="14.7" height="2.2" fill="#fff000"/>
<rect y="581.6" width="14.7" height="1.7" fill="#fff600"/>
<rect y="583.2" width="14.7" height="6.2" fill="#ffea00"/>
<rect y="589.4" width="14.7" height="8.1" fill="#fff000"/>
<rect y="597.4" width="14.7" height="2.2" fill="#fff600"/>
<rect y="599.6" width="14.7" height="4.2" fill="#fff000"/>
<rect y="603.8" width="14.7" height="1.9" fill="#fff600"/>
<rect y="605.6" width="14.7" height="1.9" fill="#ffea00"/>
<rect y="607.4" width="14.7" height="1.7" fill="#fff000"/>
<rect y="609.0" width="14.7" height="1.9" fill="#fff600"/>
<rect y="610.8" width="14.7" height="1.9" fill="#fff000"/>
<rect y="612.6" width="14.7" height="3.6" fill="#ffea00"/>
<rect y="616.2" width="14.7" height="1.7" fill="#fff000"/>
<rect y="617.8" width="14.7" height="2.2" fill="#ffe408"/>
<rect y="620.0" width="14.7" height="1.9" fill="#ffea00"/>
<rect y="621.8" width="14.7" height="7.4" fill="#fff000"/>
<rect y="629.2" width="14.7" height="2.2" fill="#ffea00"/>
<rect y="631.4" width="14.7" height="2.0" fill="#ffd808"/>
<rect y="633.4" width="14.7" height="2.0" fill="#ffb408"/>
<rect y="635.4" width="14.7" height="3.5" fill="#ffba08"/>
<rect y="638.8" width="14.7" height="6.7" fill="#ffb408"/>
<rect y="645.4" width="14.7" height="2.2" fill="#ffa808"/>
<rect y="647.6" width="14.7" height="0.4" fill="#ffae08"/>
</g>
<g transform="translate(215.35 0)">
<rect y="402.4" width="14.7" height="2.0" fill="#ff5408"/>
<rect y="404.4" width="14.7" height="1.9" fill="#ff4808"/>
<rect y="406.2" width="14.7" height="2.2" fill="#ff6c08"/>
<rect y="408.4" width="14.7" height="1.7" fill="#ff5a08"/>
<rect y="410.0" width="14.7" height="1.7" fill="#ff4e08"/>
<rect y="411.6" width="14.7" height="3.6" fill="#ff5a08"/>
<rect y="415.2" width="14.7" height="1.7" fill="#ff4808"/>
<rect y="416.8" width="14.7" height="1.9" fill="#ff4e08"/>
<rect y="418.6" width="14.7" height="1.7" fill="#ff5408"/>
<rect y="420.2" width="14.7" height="1.7" fill="#ff6608"/>
<rect y="421.8" width="14.7" height="2.2" fill="#ff4808"/>
<rect y="424.0" width="14.7" height="2.2" fill="#ff5408"/>
<rect y="426.2" width="14.7" height="5.0" fill="#ff5a08"/>
<rect y="431.2" width="14.7" height="2.2" fill="#ff4808"/>
<rect y="433.4" width="14.7" height="3.2" fill="#ff3c08"/>
<rect y="436.6" width="14.7" height="3.5" fill="#ff4208"/>
<rect y="440.0" width="14.7" height="2.2" fill="#ff2a08"/>
<rect y="442.2" width="14.7" height="1.7" fill="#ff4808"/>
<rect y="443.8" width="14.7" height="1.9" fill="#ff3608"/>
<rect y="445.6" width="14.7" height="1.7" fill="#ff4208"/>
<rect y="447.2" width="14.7" height="1.9" fill="#ff3008"/>
<rect y="449.0" width="14.7" height="2.0" fill="#ff3c08"/>
<rect y="451.0" width="14.7" height="2.2" fill="#ff4808"/>
<rect y="453.2" width="14.7" height="7.2" fill="#ff3c08"/>
<rect y="460.4" width="14.7" height="1.7" fill="#ff2a08"/>
<rect y="462.0" width="14.7" height="1.9" fill="#ff3608"/>
<rect y="463.8" width="14.7" height="2.0" fill="#ff3008"/>
<rect y="465.8" width="14.7" height="1.7" fill="#ff1e08"/>
<rect y="467.4" width="14.7" height="1.7" fill="#ff3608"/>
<rect y="469.0" width="14.7" height="1.7" fill="#ff1808"/>
<rect y="470.6" width="14.7" height="1.9" fill="#ff2a08"/>
<rect y="472.4" width="14.7" height="2.2" fill="#ff1e08"/>
<rect y="474.6" width="14.7" height="2.2" fill="#ff1808"/>
<rect y="476.8" width="14.7" height="2.0" fill="#ff2408"/>
<rect y="478.8" width="14.7" height="2.2" fill="#ff1e08"/>
<rect y="481.0" width="14.7" height="2.2" fill="#ff2a08"/>
<rect y="483.2" width="14.7" height="4.0" fill="#ff1208"/>
<rect y="487.2" width="14.7" height="1.9" fill="#ff1e08"/>
<rect y="489.0" width="14.7" height="3.6" fill="#ff0c08"/>
<rect y="492.6" width="14.7" height="1.7" fill="#ff0008"/>
<rect y="494.2" width="14.7" height="2.0" fill="#ff1e08"/>
<rect y="496.2" width="14.7" height="2.2" fill="#ff2408"/>
<rect y="498.4" width="14.7" height="2.0" fill="#ff3008"/>
<rect y="500.4" width="14.7" height="2.2" fill="#ff1208"/>
<rect y="502.6" width="14.7" height="2.0" fill="#ff2a08"/>
<rect y="504.6" width="14.7" height="1.7" fill="#ff1e08"/>
<rect y="506.2" width="14.7" height="1.7" fill="#ff2408"/>
<rect y="507.8" width="14.7" height="2.2" fill="#ff3008"/>
<rect y="510.0" width="14.7" height="1.9" fill="#ff2408"/>
<rect y="511.8" width="14.7" height="2.0" fill="#ff3608"/>
<rect y="513.8" width="14.7" height="1.9" fill="#ff2a08"/>
<rect y="515.6" width="14.7" height="2.2" fill="#ff3008"/>
<rect y="517.8" width="14.7" height="2.2" fill="#ff1e08"/>
<rect y="520.0" width="14.7" height="1.7" fill="#ff3c08"/>
<rect y="521.6" width="14.7" height="1.7" fill="#ff2a08"/>
<rect y="523.2" width="14.7" height="2.0" fill="#ff3608"/>
<rect y="525.2" width="14.7" height="2.0" fill="#ff8a08"/>
<rect y="527.2" width="14.7" height="2.0" fill="#ff8408"/>
<rect y="529.2" width="14.7" height="2.2" fill="#ff9608"/>
<rect y="531.4" width="14.7" height="2.2" fill="#ff8a08"/>
<rect y="533.6" width="14.7" height="1.7" fill="#ff9c08"/>
<rect y="535.2" width="14.7" height="1.7" fill="#ff9608"/>
<rect y="536.8" width="14.7" height="2.0" fill="#ff9008"/>
<rect y="538.8" width="14.7" height="2.2" fill="#ff8408"/>
<rect y="541.0" width="14.7" height="1.7" fill="#ff6008"/>
<rect y="542.6" width="14.7" height="1.7" fill="#ff6608"/>
<rect y="544.2" width="14.7" height="2.0" fill="#ff6008"/>
<rect y="546.2" width="14.7" height="2.2" fill="#ff6608"/>
<rect y="548.4" width="14.7" height="2.0" fill="#ff6c08"/>
<rect y="550.4" width="14.7" height="2.2" fill="#ff6008"/>
<rect y="552.6" width="14.7" height="2.0" fill="#ff5408"/>
<rect y="554.6" width="14.7" height="1.7" fill="#ff6008"/>
<rect y="556.2" width="14.7" height="2.2" fill="#ff5a08"/>
<rect y="558.4" width="14.7" height="2.0" fill="#ff6c08"/>
<rect y="560.4" width="14.7" height="1.9" fill="#ff6608"/>
<rect y="562.2" width="14.7" height="3.9" fill="#ff5a08"/>
<rect y="566.0" width="14.7" height="1.7" fill="#ffae08"/>
<rect y="567.6" width="14.7" height="1.9" fill="#ffd808"/>
<rect y="569.4" width="14.7" height="2.0" fill="#ffe408"/>
<rect y="571.4" width="14.7" height="1.9" fill="#ffd808"/>
<rect y="573.2" width="14.7" height="6.2" fill="#ffe408"/>
<rect y="579.4" width="14.7" height="2.2" fill="#ffea00"/>
<rect y="581.6" width="14.7" height="1.7" fill="#fff600"/>
<rect y="583.2" width="14.7" height="1.9" fill="#fff000"/>
<rect y="585.0" width="14.7" height="2.2" fill="#fff600"/>
<rect y="587.2" width="14.7" height="2.2" fill="#ffea00"/>
<rect y="589.4" width="14.7" height="3.8" fill="#fff000"/>
<rect y="593.2" width="14.7" height="2.2" fill="#fff600"/>
<rect y="595.4" width="14.7" height="6.2" fill="#fff000"/>
<rect y="601.6" width="14.7" height="2.2" fill="#fff600"/>
<rect y="603.8" width="14.7" height="1.9" fill="#fffc00"/>
<rect y="605.6" width="14.7" height="1.9" fill="#fff000"/>
<rect y="607.4" width="14.7" height="3.5" fill="#fff600"/>
<rect y="610.8" width="14.7" height="1.9" fill="#fff000"/>
<rect y="612.6" width="14.7" height="1.9" fill="#ffea00"/>
<rect y="614.4" width="14.7" height="3.5" fill="#fff000"/>
<rect y="617.8" width="14.7" height="4.0" fill="#ffea00"/>
<rect y="621.8" width="14.7" height="4.0" fill="#fff000"/>
<rect y="625.8" width="14.7" height="1.7" fill="#ffea00"/>
<rect y="627.4" width="14.7" height="4.0" fill="#fff000"/>
<rect y="631.4" width="14.7" height="2.0" fill="#ffd808"/>
<rect y="633.4" width="14.7" height="3.8" fill="#ffba08"/>
<rect y="637.2" width="14.7" height="1.7" fill="#ffc008"/>
<rect y="638.8" width="14.7" height="2.2" fill="#ffb408"/>
<rect y="641.0" width="14.7" height="2.2" fill="#ffba08"/>
<rect y="643.2" width="14.7" height="2.2" fill="#ffb408"/>
<rect y="645.4" width="14.7" height="2.6" fill="#ffae08"/>
</g>
<g transform="translate(230.00 0)">
<rect y="402.4" width="14.7" height="3.8" fill="#ff5a08"/>
<rect y="406.2" width="14.7" height="2.2" fill="#ff6608"/>
<rect y="408.4" width="14.7" height="1.7" fill="#ff5a08"/>
<rect y="410.0" width="14.7" height="1.7" fill="#ff4e08"/>
<rect y="411.6" width="14.7" height="1.7" fill="#ff5408"/>
<rect y="413.2" width="14.7" height="2.0" fill="#ff4e08"/>
<rect y="415.2" width="14.7" height="1.7" fill="#ff5a08"/>
<rect y="416.8" width="14.7" height="1.9" fill="#ff4208"/>
<rect y="418.6" width="14.7" height="1.7" fill="#ff4e08"/>
<rect y="420.2" width="14.7" height="1.7" fill="#ff5408"/>
<rect y="421.8" width="14.7" height="2.2" fill="#ff4808"/>
<rect y="424.0" width="14.7" height="2.2" fill="#ff5a08"/>
<rect y="426.2" width="14.7" height="1.7" fill="#ff6008"/>
<rect y="427.8" width="14.7" height="1.9" fill="#ff4e08"/>
<rect y="429.6" width="14.7" height="1.7" fill="#ff5a08"/>
<rect y="431.2" width="14.7" height="2.2" fill="#ff4808"/>
<rect y="433.4" width="14.7" height="1.7" fill="#ff4208"/>
<rect y="435.0" width="14.7" height="1.7" fill="#ff3c08"/>
<rect y="436.6" width="14.7" height="3.5" fill="#ff4208"/>
<rect y="440.0" width="14.7" height="2.2" fill="#ff3008"/>
<rect y="442.2" width="14.7" height="1.7" fill="#ff4208"/>
<rect y="443.8" width="14.7" height="1.9" fill="#ff2a08"/>
<rect y="445.6" width="14.7" height="1.7" fill="#ff4208"/>
<rect y="447.2" width="14.7" height="1.9" fill="#ff2a08"/>
<rect y="449.0" width="14.7" height="2.0" fill="#ff4208"/>
<rect y="451.0" width="14.7" height="2.2" fill="#ff3c08"/>
<rect y="453.2" width="14.7" height="3.5" fill="#ff3608"/>
<rect y="456.6" width="14.7" height="3.8" fill="#ff3c08"/>
<rect y="460.4" width="14.7" height="3.5" fill="#ff3608"/>
<rect y="463.8" width="14.7" height="2.0" fill="#ff3008"/>
<rect y="465.8" width="14.7" height="1.7" fill="#ff1808"/>
<rect y="467.4" width="14.7" height="1.7" fill="#ff3008"/>
<rect y="469.0" width="14.7" height="1.7" fill="#ff1808"/>
<rect y="470.6" width="14.7" height="4.0" fill="#ff2408"/>
<rect y="474.6" width="14.7" height="6.5" fill="#ff1e08"/>
<rect y="481.0" width="14.7" height="6.2" fill="#ff1808"/>
<rect y="487.2" width="14.7" height="1.9" fill="#ff1e08"/>
<rect y="489.0" width="14.7" height="1.9" fill="#ff0608"/>
<rect y="490.8" width="14.7" height="1.9" fill="#ff0008"/>
<rect y="492.6" width="14.7" height="1.7" fill="#ff0608"/>
<rect y="494.2" width="14.7" height="4.2" fill="#ff2408"/>
<rect y="498.4" width="14.7" height="2.0" fill="#ff3008"/>
<rect y="500.4" width="14.7" height="2.2" fill="#ff2a08"/>
<rect y="502.6" width="14.7" height="2.0" fill="#ff3008"/>
<rect y="504.6" width="14.7" height="1.7" fill="#ff1e08"/>
<rect y="506.2" width="14.7" height="1.7" fill="#ff3008"/>
<rect y="507.8" width="14.7" height="2.2" fill="#ff3608"/>
<rect y="510.0" width="14.7" height="1.9" fill="#ff1e08"/>
<rect y="511.8" width="14.7" height="2.0" fill="#ff3008"/>
<rect y="513.8" width="14.7" height="4.0" fill="#ff2a08"/>
<rect y="517.8" width="14.7" height="2.2" fill="#ff2408"/>
<rect y="520.0" width="14.7" height="1.7" fill="#ff3008"/>
<rect y="521.6" width="14.7" height="1.7" fill="#ff1e08"/>
<rect y="523.2" width="14.7" height="2.0" fill="#ff3c08"/>
<rect y="525.2" width="14.7" height="2.0" fill="#ff8a08"/>
<rect y="527.2" width="14.7" height="2.0" fill="#ff9008"/>
<rect y="529.2" width="14.7" height="4.5" fill="#ff8a08"/>
<rect y="533.6" width="14.7" height="3.2" fill="#ff9c08"/>
<rect y="536.8" width="14.7" height="2.0" fill="#ff9608"/>
<rect y="538.8" width="14.7" height="2.2" fill="#ff9008"/>
<rect y="541.0" width="14.7" height="1.7" fill="#ff6608"/>
<rect y="542.6" width="14.7" height="1.7" fill="#ff7208"/>
<rect y="544.2" width="14.7" height="2.0" fill="#ff6c08"/>
<rect y="546.2" width="14.7" height="6.5" fill="#ff6608"/>
<rect y="552.6" width="14.7" height="2.0" fill="#ff5408"/>
<rect y="554.6" width="14.7" height="1.7" fill="#ff6608"/>
<rect y="556.2" width="14.7" height="2.2" fill="#ff5a08"/>
<rect y="558.4" width="14.7" height="2.0" fill="#ff6c08"/>
<rect y="560.4" width="14.7" height="1.9" fill="#ff6608"/>
<rect y="562.2" width="14.7" height="1.7" fill="#ff5a08"/>
<rect y="563.8" width="14.7" height="2.2" fill="#ff6008"/>
<rect y="566.0" width="14.7" height="1.7" fill="#ffae08"/>
<rect y="567.6" width="14.7" height="1.9" fill="#ffd808"/>
<rect y="569.4" width="14.7" height="3.8" fill="#ffde08"/>
<rect y="573.2" width="14.7" height="1.9" fill="#ffe408"/>
<rect y="575.0" width="14.7" height="6.7" fill="#ffea00"/>
<rect y="581.6" width="14.7" height="1.7" fill="#fff600"/>
<rect y="583.2" width="14.7" height="1.9" fill="#fff000"/>
<rect y="585.0" width="14.7" height="2.2" fill="#fff600"/>
<rect y="587.2" width="14.7" height="2.2" fill="#ffea00"/>
<rect y="589.4" width="14.7" height="2.0" fill="#fff600"/>
<rect y="591.4" width="14.7" height="12.4" fill="#fff000"/>
<rect y="603.8" width="14.7" height="1.9" fill="#fffc00"/>
<rect y="605.6" width="14.7" height="1.9" fill="#fff000"/>
<rect y="607.4" width="14.7" height="3.5" fill="#fff600"/>
<rect y="610.8" width="14.7" height="3.6" fill="#fff000"/>
<rect y="614.4" width="14.7" height="1.9" fill="#ffea00"/>
<rect y="616.2" width="14.7" height="1.7" fill="#fff000"/>
<rect y="617.8" width="14.7" height="4.0" fill="#ffea00"/>
<rect y="621.8" width="14.7" height="4.0" fill="#fff000"/>
<rect y="625.8" width="14.7" height="1.7" fill="#ffea00"/>
<rect y="627.4" width="14.7" height="1.9" fill="#fff000"/>
<rect y="629.2" width="14.7" height="2.2" fill="#ffea00"/>
<rect y="631.4" width="14.7" height="2.0" fill="#ffde08"/>
<rect y="633.4" width="14.7" height="3.8" fill="#ffae08"/>
<rect y="637.2" width="14.7" height="1.7" fill="#ffc608"/>
<rect y="638.8" width="14.7" height="2.2" fill="#ffae08"/>
<rect y="641.0" width="14.7" height="2.2" fill="#ffba08"/>
<rect y="643.2" width="14.7" height="4.8" fill="#ffb408"/>
</g>
<g transform="translate(244.65 0)">
<rect y="402.4" width="14.7" height="3.8" fill="#ff5a08"/>
<rect y="406.2" width="14.7" height="2.2" fill="#ff6008"/>
<rect y="408.4" width="14.7" height="1.7" fill="#ff5408"/>
<rect y="410.0" width="14.7" height="1.7" fill="#ff5a08"/>
<rect y="411.6" width="14.7" height="1.7" fill="#ff5408"/>
<rect y="413.2" width="14.7" height="3.6" fill="#ff4e08"/>
<rect y="416.8" width="14.7" height="1.9" fill="#ff4808"/>
<rect y="418.6" width="14.7" height="1.7" fill="#ff5408"/>
<rect y="420.2" width="14.7" height="1.7" fill="#ff5a08"/>
<rect y="421.8" width="14.7" height="2.2" fill="#ff5408"/>
<rect y="424.0" width="14.7" height="2.2" fill="#ff4e08"/>
<rect y="426.2" width="14.7" height="1.7" fill="#ff5a08"/>
<rect y="427.8" width="14.7" height="1.9" fill="#ff6008"/>
<rect y="429.6" width="14.7" height="1.7" fill="#ff5408"/>
<rect y="431.2" width="14.7" height="2.2" fill="#ff4808"/>
<rect y="433.4" width="14.7" height="1.7" fill="#ff4e08"/>
<rect y="435.0" width="14.7" height="1.7" fill="#ff3c08"/>
<rect y="436.6" width="14.7" height="3.5" fill="#ff4208"/>
<rect y="440.0" width="14.7" height="2.2" fill="#ff2408"/>
<rect y="442.2" width="14.7" height="1.7" fill="#ff4808"/>
<rect y="443.8" width="14.7" height="1.9" fill="#ff2a08"/>
<rect y="445.6" width="14.7" height="1.7" fill="#ff4208"/>
<rect y="447.2" width="14.7" height="1.9" fill="#ff3c08"/>
<rect y="449.0" width="14.7" height="2.0" fill="#ff3608"/>
<rect y="451.0" width="14.7" height="2.2" fill="#ff3c08"/>
<rect y="453.2" width="14.7" height="1.9" fill="#ff3008"/>
<rect y="455.0" width="14.7" height="1.7" fill="#ff3c08"/>
<rect y="456.6" width="14.7" height="2.0" fill="#ff3608"/>
<rect y="458.6" width="14.7" height="3.5" fill="#ff3008"/>
<rect y="462.0" width="14.7" height="1.9" fill="#ff3608"/>
<rect y="463.8" width="14.7" height="2.0" fill="#ff2a08"/>
<rect y="465.8" width="14.7" height="1.7" fill="#ff2408"/>
<rect y="467.4" width="14.7" height="1.7" fill="#ff3008"/>
<rect y="469.0" width="14.7" height="5.7" fill="#ff1e08"/>
<rect y="474.6" width="14.7" height="2.2" fill="#ff1808"/>
<rect y="476.8" width="14.7" height="2.0" fill="#ff1e08"/>
<rect y="478.8" width="14.7" height="2.2" fill="#ff2a08"/>
<rect y="481.0" width="14.7" height="2.2" fill="#ff2408"/>
<rect y="483.2" width="14.7" height="2.0" fill="#ff0c08"/>
<rect y="485.2" width="14.7" height="3.8" fill="#ff1208"/>
<rect y="489.0" width="14.7" height="5.2" fill="#ff0608"/>
<rect y="494.2" width="14.7" height="4.2" fill="#ff1e08"/>
<rect y="498.4" width="14.7" height="2.0" fill="#ff2a08"/>
<rect y="500.4" width="14.7" height="2.2" fill="#ff1e08"/>
<rect y="502.6" width="14.7" height="2.0" fill="#ff3008"/>
<rect y="504.6" width="14.7" height="1.7" fill="#ff2408"/>
<rect y="506.2" width="14.7" height="1.7" fill="#ff2a08"/>
<rect y="507.8" width="14.7" height="2.2" fill="#ff2408"/>
<rect y="510.0" width="14.7" height="1.9" fill="#ff1e08"/>
<rect y="511.8" width="14.7" height="2.0" fill="#ff3c08"/>
<rect y="513.8" width="14.7" height="4.0" fill="#ff2a08"/>
<rect y="517.8" width="14.7" height="2.2" fill="#ff1e08"/>
<rect y="520.0" width="14.7" height="1.7" fill="#ff3008"/>
<rect y="521.6" width="14.7" height="3.6" fill="#ff2a08"/>
<rect y="525.2" width="14.7" height="2.0" fill="#ff8408"/>
<rect y="527.2" width="14.7" height="4.2" fill="#ff9008"/>
<rect y="531.4" width="14.7" height="3.9" fill="#ff8a08"/>
<rect y="535.2" width="14.7" height="1.7" fill="#ff9008"/>
<rect y="536.8" width="14.7" height="2.0" fill="#ff9608"/>
<rect y="538.8" width="14.7" height="2.2" fill="#ff9008"/>
<rect y="541.0" width="14.7" height="1.7" fill="#ff6008"/>
<rect y="542.6" width="14.7" height="1.7" fill="#ff6c08"/>
<rect y="544.2" width="14.7" height="2.0" fill="#ff6608"/>
<rect y="546.2" width="14.7" height="2.2" fill="#ff6008"/>
<rect y="548.4" width="14.7" height="2.0" fill="#ff6c08"/>
<rect y="550.4" width="14.7" height="2.2" fill="#ff5a08"/>
<rect y="552.6" width="14.7" height="2.0" fill="#ff4e08"/>
<rect y="554.6" width="14.7" height="1.7" fill="#ff6008"/>
<rect y="556.2" width="14.7" height="2.2" fill="#ff4808"/>
<rect y="558.4" width="14.7" height="2.0" fill="#ff6608"/>
<rect y="560.4" width="14.7" height="1.9" fill="#ff5a08"/>
<rect y="562.2" width="14.7" height="1.7" fill="#ff5408"/>
<rect y="563.8" width="14.7" height="2.2" fill="#ff6008"/>
<rect y="566.0" width="14.7" height="1.7" fill="#ffa808"/>
<rect y="567.6" width="14.7" height="1.9" fill="#ffd808"/>
<rect y="569.4" width="14.7" height="2.0" fill="#ffe408"/>
<rect y="571.4" width="14.7" height="1.9" fill="#ffd808"/>
<rect y="573.2" width="14.7" height="1.9" fill="#ffde08"/>
<rect y="575.0" width="14.7" height="4.5" fill="#ffea00"/>
<rect y="579.4" width="14.7" height="10.1" fill="#fff000"/>
<rect y="589.4" width="14.7" height="2.0" fill="#fff600"/>
<rect y="591.4" width="14.7" height="8.2" fill="#fff000"/>
<rect y="599.6" width="14.7" height="2.0" fill="#fff600"/>
<rect y="601.6" width="14.7" height="2.2" fill="#fff000"/>
<rect y="603.8" width="14.7" height="1.9" fill="#fff600"/>
<rect y="605.6" width="14.7" height="7.0" fill="#fff000"/>
<rect y="612.6" width="14.7" height="9.3" fill="#ffea00"/>
<rect y="621.8" width="14.7" height="4.0" fill="#fff000"/>
<rect y="625.8" width="14.7" height="5.7" fill="#ffea00"/>
<rect y="631.4" width="14.7" height="2.0" fill="#ffd808"/>
<rect y="633.4" width="14.7" height="2.0" fill="#ffae08"/>
<rect y="635.4" width="14.7" height="1.9" fill="#ffa808"/>
<rect y="637.2" width="14.7" height="1.7" fill="#ffba08"/>
<rect y="638.8" width="14.7" height="2.2" fill="#ffb408"/>
<rect y="641.0" width="14.7" height="2.2" fill="#ffae08"/>
<rect y="643.2" width="14.7" height="2.2" fill="#ffb408"/>
<rect y="645.4" width="14.7" height="2.2" fill="#ffa808"/>
<rect y="647.6" width="14.7" height="0.4" fill="#ffba08"/>
</g>
<g transform="translate(259.30 0)">
<rect y="402.4" width="14.7" height="2.0" fill="#ff4e08"/>
<rect y="404.4" width="14.7" height="1.9" fill="#ff4808"/>
<rect y="406.2" width="14.7" height="2.2" fill="#ff6c08"/>
<rect y="408.4" width="14.7" height="1.7" fill="#ff5a08"/>
<rect y="410.0" width="14.7" height="5.2" fill="#ff5408"/>
<rect y="415.2" width="14.7" height="1.7" fill="#ff4e08"/>
<rect y="416.8" width="14.7" height="1.9" fill="#ff4808"/>
<rect y="418.6" width="14.7" height="1.7" fill="#ff4e08"/>
<rect y="420.2" width="14.7" height="1.7" fill="#ff6008"/>
<rect y="421.8" width="14.7" height="2.2" fill="#ff4e08"/>
<rect y="424.0" width="14.7" height="2.2" fill="#ff4808"/>
<rect y="426.2" width="14.7" height="1.7" fill="#ff5408"/>
<rect y="427.8" width="14.7" height="1.9" fill="#ff6008"/>
<rect y="429.6" width="14.7" height="1.7" fill="#ff5a08"/>
<rect y="431.2" width="14.7" height="2.2" fill="#ff4208"/>
<rect y="433.4" width="14.7" height="1.7" fill="#ff4808"/>
<rect y="435.0" width="14.7" height="3.5" fill="#ff4208"/>
<rect y="438.4" width="14.7" height="1.7" fill="#ff4808"/>
<rect y="440.0" width="14.7" height="2.2" fill="#ff3008"/>
<rect y="442.2" width="14.7" height="1.7" fill="#ff4e08"/>
<rect y="443.8" width="14.7" height="1.9" fill="#ff3608"/>
<rect y="445.6" width="14.7" height="1.7" fill="#ff4808"/>
<rect y="447.2" width="14.7" height="1.9" fill="#ff3c08"/>
<rect y="449.0" width="14.7" height="4.2" fill="#ff4808"/>
<rect y="453.2" width="14.7" height="5.5" fill="#ff3c08"/>
<rect y="458.6" width="14.7" height="5.2" fill="#ff3008"/>
<rect y="463.8" width="14.7" height="2.0" fill="#ff3608"/>
<rect y="465.8" width="14.7" height="1.7" fill="#ff2408"/>
<rect y="467.4" width="14.7" height="1.7" fill="#ff3008"/>
<rect y="469.0" width="14.7" height="1.7" fill="#ff1208"/>
<rect y="470.6" width="14.7" height="1.9" fill="#ff2a08"/>
<rect y="472.4" width="14.7" height="6.5" fill="#ff1e08"/>
<rect y="478.8" width="14.7" height="2.2" fill="#ff1808"/>
<rect y="481.0" width="14.7" height="2.2" fill="#ff2408"/>
<rect y="483.2" width="14.7" height="2.0" fill="#ff1208"/>
<rect y="485.2" width="14.7" height="2.0" fill="#ff1e08"/>
<rect y="487.2" width="14.7" height="1.9" fill="#ff1808"/>
<rect y="489.0" width="14.7" height="1.9" fill="#ff0c08"/>
<rect y="490.8" width="14.7" height="1.9" fill="#ff1208"/>
<rect y="492.6" width="14.7" height="1.7" fill="#ff0608"/>
<rect y="494.2" width="14.7" height="4.2" fill="#ff1e08"/>
<rect y="498.4" width="14.7" height="4.2" fill="#ff2a08"/>
<rect y="502.6" width="14.7" height="2.0" fill="#ff3008"/>
<rect y="504.6" width="14.7" height="3.2" fill="#ff2a08"/>
<rect y="507.8" width="14.7" height="2.2" fill="#ff3008"/>
<rect y="510.0" width="14.7" height="1.9" fill="#ff1e08"/>
<rect y="511.8" width="14.7" height="2.0" fill="#ff3608"/>
<rect y="513.8" width="14.7" height="4.0" fill="#ff2a08"/>
<rect y="517.8" width="14.7" height="2.2" fill="#ff2408"/>
<rect y="520.0" width="14.7" height="1.7" fill="#ff3c08"/>
<rect y="521.6" width="14.7" height="1.7" fill="#ff2408"/>
<rect y="523.2" width="14.7" height="2.0" fill="#ff3c08"/>
<rect y="525.2" width="14.7" height="8.5" fill="#ff8a08"/>
<rect y="533.6" width="14.7" height="1.7" fill="#ff9c08"/>
<rect y="535.2" width="14.7" height="3.6" fill="#ff9008"/>
<rect y="538.8" width="14.7" height="2.2" fill="#ff8a08"/>
<rect y="541.0" width="14.7" height="3.2" fill="#ff7208"/>
<rect y="544.2" width="14.7" height="2.0" fill="#ff6008"/>
<rect y="546.2" width="14.7" height="2.2" fill="#ff5a08"/>
<rect y="548.4" width="14.7" height="2.0" fill="#ff6c08"/>
<rect y="550.4" width="14.7" height="2.2" fill="#ff6608"/>
<rect y="552.6" width="14.7" height="3.6" fill="#ff6008"/>
<rect y="556.2" width="14.7" height="2.2" fill="#ff5408"/>
<rect y="558.4" width="14.7" height="2.0" fill="#ff6608"/>
<rect y="560.4" width="14.7" height="1.9" fill="#ff5a08"/>
<rect y="562.2" width="14.7" height="1.7" fill="#ff6008"/>
<rect y="563.8" width="14.7" height="2.2" fill="#ff5a08"/>
<rect y="566.0" width="14.7" height="1.7" fill="#ffa808"/>
<rect y="567.6" width="14.7" height="1.9" fill="#ffd208"/>
<rect y="569.4" width="14.7" height="3.8" fill="#ffde08"/>
<rect y="573.2" width="14.7" height="1.9" fill="#ffe408"/>
<rect y="575.0" width="14.7" height="6.7" fill="#ffea00"/>
<rect y="581.6" width="14.7" height="1.7" fill="#fff600"/>
<rect y="583.2" width="14.7" height="1.9" fill="#fff000"/>
<rect y="585.0" width="14.7" height="2.2" fill="#ffea00"/>
<rect y="587.2" width="14.7" height="2.2" fill="#fff000"/>
<rect y="589.4" width="14.7" height="2.0" fill="#fff600"/>
<rect y="591.4" width="14.7" height="8.2" fill="#fff000"/>
<rect y="599.6" width="14.7" height="2.0" fill="#fff600"/>
<rect y="601.6" width="14.7" height="2.2" fill="#fff000"/>
<rect y="603.8" width="14.7" height="1.9" fill="#fff600"/>
<rect y="605.6" width="14.7" height="1.9" fill="#fff000"/>
<rect y="607.4" width="14.7" height="3.5" fill="#fff600"/>
<rect y="610.8" width="14.7" height="5.5" fill="#fff000"/>
<rect y="616.2" width="14.7" height="1.7" fill="#fff600"/>
<rect y="617.8" width="14.7" height="9.7" fill="#ffea00"/>
<rect y="627.4" width="14.7" height="4.0" fill="#fff000"/>
<rect y="631.4" width="14.7" height="2.0" fill="#ffde08"/>
<rect y="633.4" width="14.7" height="3.8" fill="#ffae08"/>
<rect y="637.2" width="14.7" height="1.7" fill="#ffc608"/>
<rect y="638.8" width="14.7" height="2.2" fill="#ffba08"/>
<rect y="641.0" width="14.7" height="2.2" fill="#ffb408"/>
<rect y="643.2" width="14.7" height="2.2" fill="#ffae08"/>
<rect y="645.4" width="14.7" height="2.2" fill="#ffa208"/>
<rect y="647.6" width="14.7" height="0.4" fill="#ffb408"/>
</g>
<g transform="translate(273.95 0)">
<rect y="402.4" width="14.7" height="2.0" fill="#ff5a08"/>
<rect y="404.4" width="14.7" height="1.9" fill="#ff4e08"/>
<rect y="406.2" width="14.7" height="2.2" fill="#ff6008"/>
<rect y="408.4" width="14.7" height="1.7" fill="#ff5a08"/>
<rect y="410.0" width="14.7" height="1.7" fill="#ff5408"/>
<rect y="411.6" width="14.7" height="1.7" fill="#ff5a08"/>
<rect y="413.2" width="14.7" height="2.0" fill="#ff5408"/>
<rect y="415.2" width="14.7" height="1.7" fill="#ff5a08"/>
<rect y="416.8" width="14.7" height="1.9" fill="#ff4208"/>
<rect y="418.6" width="14.7" height="3.2" fill="#ff5408"/>
<rect y="421.8" width="14.7" height="2.2" fill="#ff4e08"/>
<rect y="424.0" width="14.7" height="2.2" fill="#ff5408"/>
<rect y="426.2" width="14.7" height="5.0" fill="#ff5a08"/>
<rect y="431.2" width="14.7" height="2.2" fill="#ff4808"/>
<rect y="433.4" width="14.7" height="1.7" fill="#ff4e08"/>
<rect y="435.0" width="14.7" height="5.0" fill="#ff4208"/>
<rect y="440.0" width="14.7" height="2.2" fill="#ff2a08"/>
<rect y="442.2" width="14.7" height="1.7" fill="#ff4208"/>
<rect y="443.8" width="14.7" height="1.9" fill="#ff3608"/>
<rect y="445.6" width="14.7" height="1.7" fill="#ff4e08"/>
<rect y="447.2" width="14.7" height="1.9" fill="#ff3608"/>
<rect y="449.0" width="14.7" height="2.0" fill="#ff4208"/>
<rect y="451.0" width="14.7" height="2.2" fill="#ff3c08"/>
<rect y="453.2" width="14.7" height="3.5" fill="#ff3608"/>
<rect y="456.6" width="14.7" height="2.0" fill="#ff3c08"/>
<rect y="458.6" width="14.7" height="1.9" fill="#ff3008"/>
<rect y="460.4" width="14.7" height="1.7" fill="#ff3608"/>
<rect y="462.0" width="14.7" height="3.8" fill="#ff3008"/>
<rect y="465.8" width="14.7" height="1.7" fill="#ff1808"/>
<rect y="467.4" width="14.7" height="1.7" fill="#ff3608"/>
<rect y="469.0" width="14.7" height="1.7" fill="#ff1e08"/>
<rect y="470.6" width="14.7" height="1.9" fill="#ff2a08"/>
<rect y="472.4" width="14.7" height="6.5" fill="#ff2408"/>
<rect y="478.8" width="14.7" height="2.2" fill="#ff1808"/>
<rect y="481.0" width="14.7" height="2.2" fill="#ff1e08"/>
<rect y="483.2" width="14.7" height="2.0" fill="#ff0608"/>
<rect y="485.2" width="14.7" height="2.0" fill="#ff1208"/>
<rect y="487.2" width="14.7" height="1.9" fill="#ff1e08"/>
<rect y="489.0" width="14.7" height="1.9" fill="#ff0c08"/>
<rect y="490.8" width="14.7" height="1.9" fill="#ff0608"/>
<rect y="492.6" width="14.7" height="1.7" fill="#ff0008"/>
<rect y="494.2" width="14.7" height="2.0" fill="#ff2408"/>
<rect y="496.2" width="14.7" height="2.2" fill="#ff2a08"/>
<rect y="498.4" width="14.7" height="2.0" fill="#ff3008"/>
<rect y="500.4" width="14.7" height="2.2" fill="#ff2a08"/>
<rect y="502.6" width="14.7" height="2.0" fill="#ff1e08"/>
<rect y="504.6" width="14.7" height="1.7" fill="#ff1808"/>
<rect y="506.2" width="14.7" height="1.7" fill="#ff2a08"/>
<rect y="507.8" width="14.7" height="2.2" fill="#ff3008"/>
<rect y="510.0" width="14.7" height="1.9" fill="#ff1e08"/>
<rect y="511.8" width="14.7" height="2.0" fill="#ff3608"/>
<rect y="513.8" width="14.7" height="1.9" fill="#ff3c08"/>
<rect y="515.6" width="14.7" height="2.2" fill="#ff2408"/>
<rect y="517.8" width="14.7" height="2.2" fill="#ff1e08"/>
<rect y="520.0" width="14.7" height="1.7" fill="#ff3608"/>
<rect y="521.6" width="14.7" height="1.7" fill="#ff2a08"/>
<rect y="523.2" width="14.7" height="2.0" fill="#ff3608"/>
<rect y="525.2" width="14.7" height="2.0" fill="#ff9608"/>
<rect y="527.2" width="14.7" height="2.0" fill="#ff8408"/>
<rect y="529.2" width="14.7" height="2.2" fill="#ff9608"/>
<rect y="531.4" width="14.7" height="2.2" fill="#ff8408"/>
<rect y="533.6" width="14.7" height="1.7" fill="#ff9608"/>
<rect y="535.2" width="14.7" height="1.7" fill="#ff9008"/>
<rect y="536.8" width="14.7" height="2.0" fill="#ff8a08"/>
<rect y="538.8" width="14.7" height="2.2" fill="#ff7e08"/>
<rect y="541.0" width="14.7" height="1.7" fill="#ff6608"/>
<rect y="542.6" width="14.7" height="1.7" fill="#ff6c08"/>
<rect y="544.2" width="14.7" height="2.0" fill="#ff6608"/>
<rect y="546.2" width="14.7" height="2.2" fill="#ff5a08"/>
<rect y="548.4" width="14.7" height="2.0" fill="#ff6c08"/>
<rect y="550.4" width="14.7" height="2.2" fill="#ff6008"/>
<rect y="552.6" width="14.7" height="2.0" fill="#ff4e08"/>
<rect y="554.6" width="14.7" height="3.9" fill="#ff5a08"/>
<rect y="558.4" width="14.7" height="2.0" fill="#ff6c08"/>
<rect y="560.4" width="14.7" height="5.7" fill="#ff6008"/>
<rect y="566.0" width="14.7" height="1.7" fill="#ffa808"/>
<rect y="567.6" width="14.7" height="1.9" fill="#ffd808"/>
<rect y="569.4" width="14.7" height="3.8" fill="#ffde08"/>
<rect y="573.2" width="14.7" height="4.0" fill="#ffe408"/>
<rect y="577.2" width="14.7" height="2.2" fill="#ffea00"/>
<rect y="579.4" width="14.7" height="3.9" fill="#fff600"/>
<rect y="583.2" width="14.7" height="1.9" fill="#fff000"/>
<rect y="585.0" width="14.7" height="2.2" fill="#fff600"/>
<rect y="587.2" width="14.7" height="6.0" fill="#fff000"/>
<rect y="593.2" width="14.7" height="6.5" fill="#fff600"/>
<rect y="599.6" width="14.7" height="4.2" fill="#fff000"/>
<rect y="603.8" width="14.7" height="7.0" fill="#fff600"/>
<rect y="610.8" width="14.7" height="7.0" fill="#fff000"/>
<rect y="617.8" width="14.7" height="2.2" fill="#ffe408"/>
<rect y="620.0" width="14.7" height="1.9" fill="#ffea00"/>
<rect y="621.8" width="14.7" height="4.0" fill="#fff000"/>
<rect y="625.8" width="14.7" height="1.7" fill="#ffea00"/>
<rect y="627.4" width="14.7" height="4.0" fill="#fff000"/>
<rect y="631.4" width="14.7" height="2.0" fill="#ffde08"/>
<rect y="633.4" width="14.7" height="3.8" fill="#ffae08"/>
<rect y="637.2" width="14.7" height="1.7" fill="#ffc008"/>
<rect y="638.8" width="14.7" height="2.2" fill="#ffba08"/>
<rect y="641.0" width="14.7" height="2.2" fill="#ffae08"/>
<rect y="643.2" width="14.7" height="4.5" fill="#ffba08"/>
<rect y="647.6" width="14.7" height="0.4" fill="#ffc008"/>
</g>
<g transform="translate(288.60 0)">
<rect y="402.4" width="14.7" height="2.0" fill="#ff6608"/>
<rect y="404.4" width="14.7" height="1.9" fill="#ff5a08"/>
<rect y="406.2" width="14.7" height="2.2" fill="#ff6608"/>
<rect y="408.4" width="14.7" height="1.7" fill="#ff5408"/>
<rect y="410.0" width="14.7" height="1.7" fill="#ff4e08"/>
<rect y="411.6" width="14.7" height="3.6" fill="#ff5408"/>
<rect y="415.2" width="14.7" height="1.7" fill="#ff5a08"/>
<rect y="416.8" width="14.7" height="1.9" fill="#ff3c08"/>
<rect y="418.6" width="14.7" height="1.7" fill="#ff6008"/>
<rect y="420.2" width="14.7" height="1.7" fill="#ff6608"/>
<rect y="421.8" width="14.7" height="2.2" fill="#ff4e08"/>
<rect y="424.0" width="14.7" height="2.2" fill="#ff5a08"/>
<rect y="426.2" width="14.7" height="1.7" fill="#ff6008"/>
<rect y="427.8" width="14.7" height="3.5" fill="#ff5a08"/>
<rect y="431.2" width="14.7" height="3.9" fill="#ff4208"/>
<rect y="435.0" width="14.7" height="5.0" fill="#ff4808"/>
<rect y="440.0" width="14.7" height="2.2" fill="#ff2a08"/>
<rect y="442.2" width="14.7" height="1.7" fill="#ff4808"/>
<rect y="443.8" width="14.7" height="1.9" fill="#ff3608"/>
<rect y="445.6" width="14.7" height="1.7" fill="#ff4808"/>
<rect y="447.2" width="14.7" height="1.9" fill="#ff3008"/>
<rect y="449.0" width="14.7" height="2.0" fill="#ff4208"/>
<rect y="451.0" width="14.7" height="2.2" fill="#ff4808"/>
<rect y="453.2" width="14.7" height="5.5" fill="#ff3c08"/>
<rect y="458.6" width="14.7" height="3.5" fill="#ff3608"/>
<rect y="462.0" width="14.7" height="1.9" fill="#ff3c08"/>
<rect y="463.8" width="14.7" height="2.0" fill="#ff3008"/>
<rect y="465.8" width="14.7" height="1.7" fill="#ff1e08"/>
<rect y="467.4" width="14.7" height="1.7" fill="#ff3608"/>
<rect y="469.0" width="14.7" height="1.7" fill="#ff1e08"/>
<rect y="470.6" width="14.7" height="1.9" fill="#ff2408"/>
<rect y="472.4" width="14.7" height="2.2" fill="#ff1e08"/>
<rect y="474.6" width="14.7" height="2.2" fill="#ff2408"/>
<rect y="476.8" width="14.7" height="2.0" fill="#ff2a08"/>
<rect y="478.8" width="14.7" height="4.5" fill="#ff1e08"/>
<rect y="483.2" width="14.7" height="2.0" fill="#ff1808"/>
<rect y="485.2" width="14.7" height="2.0" fill="#ff0c08"/>
<rect y="487.2" width="14.7" height="1.9" fill="#ff1e08"/>
<rect y="489.0" width="14.7" height="1.9" fill="#ff1208"/>
<rect y="490.8" width="14.7" height="1.9" fill="#ff0c08"/>
<rect y="492.6" width="14.7" height="1.7" fill="#ff0008"/>
<rect y="494.2" width="14.7" height="2.0" fill="#ff1e08"/>
<rect y="496.2" width="14.7" height="2.2" fill="#ff2408"/>
<rect y="498.4" width="14.7" height="2.0" fill="#ff3008"/>
<rect y="500.4" width="14.7" height="2.2" fill="#ff1e08"/>
<rect y="502.6" width="14.7" height="2.0" fill="#ff3008"/>
<rect y="504.6" width="14.7" height="1.7" fill="#ff1808"/>
<rect y="506.2" width="14.7" height="1.7" fill="#ff3008"/>
<rect y="507.8" width="14.7" height="2.2" fill="#ff3608"/>
<rect y="510.0" width="14.7" height="1.9" fill="#ff2a08"/>
<rect y="511.8" width="14.7" height="2.0" fill="#ff3008"/>
<rect y="513.8" width="14.7" height="1.9" fill="#ff3608"/>
<rect y="515.6" width="14.7" height="2.2" fill="#ff2a08"/>
<rect y="517.8" width="14.7" height="2.2" fill="#ff2408"/>
<rect y="520.0" width="14.7" height="1.7" fill="#ff3c08"/>
<rect y="521.6" width="14.7" height="1.7" fill="#ff2a08"/>
<rect y="523.2" width="14.7" height="2.0" fill="#ff3608"/>
<rect y="525.2" width="14.7" height="2.0" fill="#ff8a08"/>
<rect y="527.2" width="14.7" height="2.0" fill="#ff9008"/>
<rect y="529.2" width="14.7" height="2.2" fill="#ff9c08"/>
<rect y="531.4" width="14.7" height="2.2" fill="#ff8408"/>
<rect y="533.6" width="14.7" height="1.7" fill="#ff9008"/>
<rect y="535.2" width="14.7" height="1.7" fill="#ff9608"/>
<rect y="536.8" width="14.7" height="2.0" fill="#ff9c08"/>
<rect y="538.8" width="14.7" height="2.2" fill="#ff9608"/>
<rect y="541.0" width="14.7" height="1.7" fill="#ff6c08"/>
<rect y="542.6" width="14.7" height="3.6" fill="#ff6608"/>
<rect y="546.2" width="14.7" height="2.2" fill="#ff6c08"/>
<rect y="548.4" width="14.7" height="2.0" fill="#ff6608"/>
<rect y="550.4" width="14.7" height="2.2" fill="#ff6c08"/>
<rect y="552.6" width="14.7" height="2.0" fill="#ff6008"/>
<rect y="554.6" width="14.7" height="1.7" fill="#ff6608"/>
<rect y="556.2" width="14.7" height="2.2" fill="#ff6008"/>
<rect y="558.4" width="14.7" height="2.0" fill="#ff6608"/>
<rect y="560.4" width="14.7" height="5.7" fill="#ff6008"/>
<rect y="566.0" width="14.7" height="1.7" fill="#ffa808"/>
<rect y="567.6" width="14.7" height="5.6" fill="#ffde08"/>
<rect y="573.2" width="14.7" height="1.9" fill="#ffe408"/>
<rect y="575.0" width="14.7" height="2.2" fill="#ffea00"/>
<rect y="577.2" width="14.7" height="4.5" fill="#fff000"/>
<rect y="581.6" width="14.7" height="1.7" fill="#fff600"/>
<rect y="583.2" width="14.7" height="6.2" fill="#fff000"/>
<rect y="589.4" width="14.7" height="2.0" fill="#fff600"/>
<rect y="591.4" width="14.7" height="8.2" fill="#fff000"/>
<rect y="599.6" width="14.7" height="2.0" fill="#fff600"/>
<rect y="601.6" width="14.7" height="2.2" fill="#fff000"/>
<rect y="603.8" width="14.7" height="1.9" fill="#fffc00"/>
<rect y="605.6" width="14.7" height="1.9" fill="#fff600"/>
<rect y="607.4" width="14.7" height="1.7" fill="#fff000"/>
<rect y="609.0" width="14.7" height="1.9" fill="#fff600"/>
<rect y="610.8" width="14.7" height="3.6" fill="#fff000"/>
<rect y="614.4" width="14.7" height="1.9" fill="#ffea00"/>
<rect y="616.2" width="14.7" height="1.7" fill="#fff000"/>
<rect y="617.8" width="14.7" height="2.2" fill="#ffe408"/>
<rect y="620.0" width="14.7" height="1.9" fill="#ffea00"/>
<rect y="621.8" width="14.7" height="9.7" fill="#fff000"/>
<rect y="631.4" width="14.7" height="2.0" fill="#ffd808"/>
<rect y="633.4" width="14.7" height="2.0" fill="#ffae08"/>
<rect y="635.4" width="14.7" height="1.9" fill="#ffba08"/>
<rect y="637.2" width="14.7" height="1.7" fill="#ffc008"/>
<rect y="638.8" width="14.7" height="2.2" fill="#ffae08"/>
<rect y="641.0" width="14.7" height="2.2" fill="#ffa808"/>
<rect y="643.2" width="14.7" height="2.2" fill="#ffba08"/>
<rect y="645.4" width="14.7" height="2.2" fill="#ffae08"/>
<rect y="647.6" width="14.7" height="0.4" fill="#ffb408"/>
</g>
<g transform="translate(303.25 0)">
<rect y="402.4" width="14.7" height="2.0" fill="#ff5a08"/>
<rect y="404.4" width="14.7" height="4.0" fill="#ff5408"/>
<rect y="408.4" width="14.7" height="1.7" fill="#ff5a08"/>
<rect y="410.0" width="14.7" height="1.7" fill="#ff5408"/>
<rect y="411.6" width="14.7" height="1.7" fill="#ff4808"/>
<rect y="413.2" width="14.7" height="2.0" fill="#ff5408"/>
<rect y="415.2" width="14.7" height="3.5" fill="#ff4808"/>
<rect y="418.6" width="14.7" height="1.7" fill="#ff5408"/>
<rect y="420.2" width="14.7" height="1.7" fill="#ff6608"/>
<rect y="421.8" width="14.7" height="2.2" fill="#ff4808"/>
<rect y="424.0" width="14.7" height="2.2" fill="#ff5408"/>
<rect y="426.2" width="14.7" height="1.7" fill="#ff6008"/>
<rect y="427.8" width="14.7" height="3.5" fill="#ff5408"/>
<rect y="431.2" width="14.7" height="2.2" fill="#ff4208"/>
<rect y="433.4" width="14.7" height="1.7" fill="#ff4808"/>
<rect y="435.0" width="14.7" height="1.7" fill="#ff3c08"/>
<rect y="436.6" width="14.7" height="3.5" fill="#ff4808"/>
<rect y="440.0" width="14.7" height="2.2" fill="#ff3008"/>
<rect y="442.2" width="14.7" height="1.7" fill="#ff4e08"/>
<rect y="443.8" width="14.7" height="1.9" fill="#ff3008"/>
<rect y="445.6" width="14.7" height="1.7" fill="#ff4808"/>
<rect y="447.2" width="14.7" height="1.9" fill="#ff3008"/>
<rect y="449.0" width="14.7" height="2.0" fill="#ff4208"/>
<rect y="451.0" width="14.7" height="2.2" fill="#ff3608"/>
<rect y="453.2" width="14.7" height="1.9" fill="#ff3c08"/>
<rect y="455.0" width="14.7" height="1.7" fill="#ff3608"/>
<rect y="456.6" width="14.7" height="2.0" fill="#ff3c08"/>
<rect y="458.6" width="14.7" height="5.2" fill="#ff3008"/>
<rect y="463.8" width="14.7" height="2.0" fill="#ff2408"/>
<rect y="465.8" width="14.7" height="1.7" fill="#ff1e08"/>
<rect y="467.4" width="14.7" height="1.7" fill="#ff3008"/>
<rect y="469.0" width="14.7" height="1.7" fill="#ff1808"/>
<rect y="470.6" width="14.7" height="1.9" fill="#ff2408"/>
<rect y="472.4" width="14.7" height="2.2" fill="#ff1e08"/>
<rect y="474.6" width="14.7" height="4.2" fill="#ff2408"/>
<rect y="478.8" width="14.7" height="2.2" fill="#ff1e08"/>
<rect y="481.0" width="14.7" height="2.2" fill="#ff2a08"/>
<rect y="483.2" width="14.7" height="4.0" fill="#ff1808"/>
<rect y="487.2" width="14.7" height="1.9" fill="#ff1e08"/>
<rect y="489.0" width="14.7" height="1.9" fill="#ff0c08"/>
<rect y="490.8" width="14.7" height="1.9" fill="#ff0608"/>
<rect y="492.6" width="14.7" height="1.7" fill="#ff0c08"/>
<rect y="494.2" width="14.7" height="2.0" fill="#ff1808"/>
<rect y="496.2" width="14.7" height="2.2" fill="#ff1e08"/>
<rect y="498.4" width="14.7" height="2.0" fill="#ff3008"/>
<rect y="500.4" width="14.7" height="5.9" fill="#ff2408"/>
<rect y="506.2" width="14.7" height="1.7" fill="#ff2a08"/>
<rect y="507.8" width="14.7" height="2.2" fill="#ff3608"/>
<rect y="510.0" width="14.7" height="1.9" fill="#ff2a08"/>
<rect y="511.8" width="14.7" height="2.0" fill="#ff3608"/>
<rect y="513.8" width="14.7" height="1.9" fill="#ff3008"/>
<rect y="515.6" width="14.7" height="2.2" fill="#ff2408"/>
<rect y="517.8" width="14.7" height="2.2" fill="#ff1808"/>
<rect y="520.0" width="14.7" height="1.7" fill="#ff3008"/>
<rect y="521.6" width="14.7" height="1.7" fill="#ff2a08"/>
<rect y="523.2" width="14.7" height="2.0" fill="#ff3c08"/>
<rect y="525.2" width="14.7" height="2.0" fill="#ff8408"/>
<rect y="527.2" width="14.7" height="2.0" fill="#ff8a08"/>
<rect y="529.2" width="14.7" height="2.2" fill="#ff9008"/>
<rect y="531.4" width="14.7" height="2.2" fill="#ff7e08"/>
<rect y="533.6" width="14.7" height="1.7" fill="#ff9008"/>
<rect y="535.2" width="14.7" height="3.6" fill="#ff9608"/>
<rect y="538.8" width="14.7" height="2.2" fill="#ff9008"/>
<rect y="541.0" width="14.7" height="1.7" fill="#ff6008"/>
<rect y="542.6" width="14.7" height="3.6" fill="#ff6c08"/>
<rect y="546.2" width="14.7" height="2.2" fill="#ff6608"/>
<rect y="548.4" width="14.7" height="2.0" fill="#ff6c08"/>
<rect y="550.4" width="14.7" height="2.2" fill="#ff6008"/>
<rect y="552.6" width="14.7" height="2.0" fill="#ff4e08"/>
<rect y="554.6" width="14.7" height="1.7" fill="#ff6008"/>
<rect y="556.2" width="14.7" height="2.2" fill="#ff5408"/>
<rect y="558.4" width="14.7" height="2.0" fill="#ff7208"/>
<rect y="560.4" width="14.7" height="1.9" fill="#ff6008"/>
<rect y="562.2" width="14.7" height="1.7" fill="#ff6608"/>
<rect y="563.8" width="14.7" height="2.2" fill="#ff6008"/>
<rect y="566.0" width="14.7" height="1.7" fill="#ffa808"/>
<rect y="567.6" width="14.7" height="1.9" fill="#ffd808"/>
<rect y="569.4" width="14.7" height="3.8" fill="#ffde08"/>
<rect y="573.2" width="14.7" height="4.0" fill="#ffe408"/>
<rect y="577.2" width="14.7" height="2.2" fill="#ffea00"/>
<rect y="579.4" width="14.7" height="2.2" fill="#fff000"/>
<rect y="581.6" width="14.7" height="1.7" fill="#fff600"/>
<rect y="583.2" width="14.7" height="6.2" fill="#fff000"/>
<rect y="589.4" width="14.7" height="2.0" fill="#fff600"/>
<rect y="591.4" width="14.7" height="1.9" fill="#ffea00"/>
<rect y="593.2" width="14.7" height="2.2" fill="#fff600"/>
<rect y="595.4" width="14.7" height="8.5" fill="#fff000"/>
<rect y="603.8" width="14.7" height="1.9" fill="#fff600"/>
<rect y="605.6" width="14.7" height="1.9" fill="#fff000"/>
<rect y="607.4" width="14.7" height="1.7" fill="#fff600"/>
<rect y="609.0" width="14.7" height="3.6" fill="#fff000"/>
<rect y="612.6" width="14.7" height="1.9" fill="#ffea00"/>
<rect y="614.4" width="14.7" height="3.5" fill="#fff000"/>
<rect y="617.8" width="14.7" height="4.0" fill="#ffea00"/>
<rect y="621.8" width="14.7" height="2.0" fill="#fff000"/>
<rect y="623.8" width="14.7" height="2.0" fill="#ffea00"/>
<rect y="625.8" width="14.7" height="1.7" fill="#ffe408"/>
<rect y="627.4" width="14.7" height="1.9" fill="#fff000"/>
<rect y="629.2" width="14.7" height="2.2" fill="#ffea00"/>
<rect y="631.4" width="14.7" height="2.0" fill="#ffd808"/>
<rect y="633.4" width="14.7" height="2.0" fill="#ffae08"/>
<rect y="635.4" width="14.7" height="1.9" fill="#ffa808"/>
<rect y="637.2" width="14.7" height="1.7" fill="#ffba08"/>
<rect y="638.8" width="14.7" height="4.5" fill="#ffae08"/>
<rect y="643.2" width="14.7" height="2.2" fill="#ffb408"/>
<rect y="645.4" width="14.7" height="2.2" fill="#ffae08"/>
<rect y="647.6" width="14.7" height="0.4" fill="#ffb408"/>
</g>
<g transform="translate(317.90 0)">
<rect y="402.4" width="14.7" height="2.0" fill="#ff4e08"/>
<rect y="404.4" width="14.7" height="1.9" fill="#ff5408"/>
<rect y="406.2" width="14.7" height="2.2" fill="#ff6008"/>
<rect y="408.4" width="14.7" height="1.7" fill="#ff5a08"/>
<rect y="410.0" width="14.7" height="1.7" fill="#ff5408"/>
<rect y="411.6" width="14.7" height="1.7" fill="#ff4808"/>
<rect y="413.2" width="14.7" height="2.0" fill="#ff4e08"/>
<rect y="415.2" width="14.7" height="1.7" fill="#ff5408"/>
<rect y="416.8" width="14.7" height="1.9" fill="#ff4208"/>
<rect y="418.6" width="14.7" height="1.7" fill="#ff5408"/>
<rect y="420.2" width="14.7" height="1.7" fill="#ff5a08"/>
<rect y="421.8" width="14.7" height="4.5" fill="#ff4e08"/>
<rect y="426.2" width="14.7" height="1.7" fill="#ff5408"/>
<rect y="427.8" width="14.7" height="1.9" fill="#ff5a08"/>
<rect y="429.6" width="14.7" height="1.7" fill="#ff5408"/>
<rect y="431.2" width="14.7" height="2.2" fill="#ff4808"/>
<rect y="433.4" width="14.7" height="1.7" fill="#ff3c08"/>
<rect y="435.0" width="14.7" height="1.7" fill="#ff4808"/>
<rect y="436.6" width="14.7" height="1.9" fill="#ff4208"/>
<rect y="438.4" width="14.7" height="1.7" fill="#ff3c08"/>
<rect y="440.0" width="14.7" height="2.2" fill="#ff3008"/>
<rect y="442.2" width="14.7" height="1.7" fill="#ff4208"/>
<rect y="443.8" width="14.7" height="1.9" fill="#ff3008"/>
<rect y="445.6" width="14.7" height="1.7" fill="#ff3c08"/>
<rect y="447.2" width="14.7" height="1.9" fill="#ff3008"/>
<rect y="449.0" width="14.7" height="2.0" fill="#ff4208"/>
<rect y="451.0" width="14.7" height="2.2" fill="#ff3c08"/>
<rect y="453.2" width="14.7" height="1.9" fill="#ff2408"/>
<rect y="455.0" width="14.7" height="3.6" fill="#ff3608"/>
<rect y="458.6" width="14.7" height="1.9" fill="#ff3008"/>
<rect y="460.4" width="14.7" height="1.7" fill="#ff2a08"/>
<rect y="462.0" width="14.7" height="1.9" fill="#ff3008"/>
<rect y="463.8" width="14.7" height="2.0" fill="#ff2a08"/>
<rect y="465.8" width="14.7" height="1.7" fill="#ff2408"/>
<rect y="467.4" width="14.7" height="1.7" fill="#ff2a08"/>
<rect y="469.0" width="14.7" height="3.5" fill="#ff2408"/>
<rect y="472.4" width="14.7" height="2.2" fill="#ff1808"/>
<rect y="474.6" width="14.7" height="4.2" fill="#ff2408"/>
<rect y="478.8" width="14.7" height="2.2" fill="#ff1808"/>
<rect y="481.0" width="14.7" height="2.2" fill="#ff2408"/>
<rect y="483.2" width="14.7" height="4.0" fill="#ff0c08"/>
<rect y="487.2" width="14.7" height="1.9" fill="#ff1e08"/>
<rect y="489.0" width="14.7" height="1.9" fill="#ff0c08"/>
<rect y="490.8" width="14.7" height="1.9" fill="#ff0008"/>
<rect y="492.6" width="14.7" height="1.7" fill="#ff0608"/>
<rect y="494.2" width="14.7" height="4.2" fill="#ff1e08"/>
<rect y="498.4" width="14.7" height="2.0" fill="#ff2408"/>
<rect y="500.4" width="14.7" height="2.2" fill="#ff1e08"/>
<rect y="502.6" width="14.7" height="2.0" fill="#ff2a08"/>
<rect y="504.6" width="14.7" height="1.7" fill="#ff2408"/>
<rect y="506.2" width="14.7" height="1.7" fill="#ff3608"/>
<rect y="507.8" width="14.7" height="2.2" fill="#ff3008"/>
<rect y="510.0" width="14.7" height="1.9" fill="#ff1e08"/>
<rect y="511.8" width="14.7" height="2.0" fill="#ff3008"/>
<rect y="513.8" width="14.7" height="1.9" fill="#ff3608"/>
<rect y="515.6" width="14.7" height="6.0" fill="#ff2408"/>
<rect y="521.6" width="14.7" height="1.7" fill="#ff2a08"/>
<rect y="523.2" width="14.7" height="2.0" fill="#ff3008"/>
<rect y="525.2" width="14.7" height="6.2" fill="#ff8a08"/>
<rect y="531.4" width="14.7" height="2.2" fill="#ff8408"/>
<rect y="533.6" width="14.7" height="1.7" fill="#ff9008"/>
<rect y="535.2" width="14.7" height="1.7" fill="#ff9608"/>
<rect y="536.8" width="14.7" height="2.0" fill="#ff9008"/>
<rect y="538.8" width="14.7" height="2.2" fill="#ff8408"/>
<rect y="541.0" width="14.7" height="1.7" fill="#ff5a08"/>
<rect y="542.6" width="14.7" height="1.7" fill="#ff7808"/>
<rect y="544.2" width="14.7" height="6.2" fill="#ff6008"/>
<rect y="550.4" width="14.7" height="2.2" fill="#ff6608"/>
<rect y="552.6" width="14.7" height="2.0" fill="#ff4e08"/>
<rect y="554.6" width="14.7" height="1.7" fill="#ff6608"/>
<rect y="556.2" width="14.7" height="2.2" fill="#ff5a08"/>
<rect y="558.4" width="14.7" height="3.8" fill="#ff6608"/>
<rect y="562.2" width="14.7" height="1.7" fill="#ff5408"/>
<rect y="563.8" width="14.7" height="2.2" fill="#ff5a08"/>
<rect y="566.0" width="14.7" height="1.7" fill="#ffa208"/>
<rect y="567.6" width="14.7" height="1.9" fill="#ffd208"/>
<rect y="569.4" width="14.7" height="3.8" fill="#ffde08"/>
<rect y="573.2" width="14.7" height="1.9" fill="#ffe408"/>
<rect y="575.0" width="14.7" height="2.2" fill="#ffde08"/>
<rect y="577.2" width="14.7" height="4.5" fill="#ffea00"/>
<rect y="581.6" width="14.7" height="1.7" fill="#fff600"/>
<rect y="583.2" width="14.7" height="1.9" fill="#ffea00"/>
<rect y="585.0" width="14.7" height="2.2" fill="#fff000"/>
<rect y="587.2" width="14.7" height="2.2" fill="#ffea00"/>
<rect y="589.4" width="14.7" height="2.0" fill="#fff600"/>
<rect y="591.4" width="14.7" height="4.0" fill="#fff000"/>
<rect y="595.4" width="14.7" height="2.0" fill="#ffea00"/>
<rect y="597.4" width="14.7" height="2.2" fill="#fff000"/>
<rect y="599.6" width="14.7" height="2.0" fill="#ffea00"/>
<rect y="601.6" width="14.7" height="2.2" fill="#fff000"/>
<rect y="603.8" width="14.7" height="1.9" fill="#fff600"/>
<rect y="605.6" width="14.7" height="1.9" fill="#fff000"/>
<rect y="607.4" width="14.7" height="1.7" fill="#fff600"/>
<rect y="609.0" width="14.7" height="3.6" fill="#fff000"/>
<rect y="612.6" width="14.7" height="3.6" fill="#ffea00"/>
<rect y="616.2" width="14.7" height="1.7" fill="#fff000"/>
<rect y="617.8" width="14.7" height="9.7" fill="#ffea00"/>
<rect y="627.4" width="14.7" height="4.0" fill="#fff000"/>
<rect y="631.4" width="14.7" height="2.0" fill="#ffde08"/>
<rect y="633.4" width="14.7" height="2.0" fill="#ffa208"/>
<rect y="635.4" width="14.7" height="1.9" fill="#ffae08"/>
<rect y="637.2" width="14.7" height="3.9" fill="#ffb408"/>
<rect y="641.0" width="14.7" height="2.2" fill="#ffae08"/>
<rect y="643.2" width="14.7" height="4.5" fill="#ffb408"/>
<rect y="647.6" width="14.7" height="0.4" fill="#ffae08"/>
</g>
<g transform="translate(332.55 0)">
<rect y="402.4" width="14.7" height="2.0" fill="#ff5408"/>
<rect y="404.4" width="14.7" height="1.9" fill="#ff5a08"/>
<rect y="406.2" width="14.7" height="2.2" fill="#ff6608"/>
<rect y="408.4" width="14.7" height="1.7" fill="#ff5408"/>
<rect y="410.0" width="14.7" height="5.2" fill="#ff4808"/>
<rect y="415.2" width="14.7" height="1.7" fill="#ff5408"/>
<rect y="416.8" width="14.7" height="1.9" fill="#ff4208"/>
<rect y="418.6" width="14.7" height="1.7" fill="#ff5408"/>
<rect y="420.2" width="14.7" height="1.7" fill="#ff5a08"/>
<rect y="421.8" width="14.7" height="2.2" fill="#ff4808"/>
<rect y="424.0" width="14.7" height="2.2" fill="#ff4e08"/>
<rect y="426.2" width="14.7" height="1.7" fill="#ff6008"/>
<rect y="427.8" width="14.7" height="1.9" fill="#ff4e08"/>
<rect y="429.6" width="14.7" height="1.7" fill="#ff5a08"/>
<rect y="431.2" width="14.7" height="2.2" fill="#ff4208"/>
<rect y="433.4" width="14.7" height="1.7" fill="#ff4808"/>
<rect y="435.0" width="14.7" height="1.7" fill="#ff4208"/>
<rect y="436.6" width="14.7" height="3.5" fill="#ff4808"/>
<rect y="440.0" width="14.7" height="2.2" fill="#ff2a08"/>
<rect y="442.2" width="14.7" height="1.7" fill="#ff4208"/>
<rect y="443.8" width="14.7" height="1.9" fill="#ff3008"/>
<rect y="445.6" width="14.7" height="1.7" fill="#ff3c08"/>
<rect y="447.2" width="14.7" height="1.9" fill="#ff3008"/>
<rect y="449.0" width="14.7" height="2.0" fill="#ff3608"/>
<rect y="451.0" width="14.7" height="2.2" fill="#ff4208"/>
<rect y="453.2" width="14.7" height="3.5" fill="#ff3c08"/>
<rect y="456.6" width="14.7" height="3.8" fill="#ff3608"/>
<rect y="460.4" width="14.7" height="1.7" fill="#ff3008"/>
<rect y="462.0" width="14.7" height="1.9" fill="#ff3608"/>
<rect y="463.8" width="14.7" height="2.0" fill="#ff2a08"/>
<rect y="465.8" width="14.7" height="1.7" fill="#ff2408"/>
<rect y="467.4" width="14.7" height="1.7" fill="#ff3008"/>
<rect y="469.0" width="14.7" height="1.7" fill="#ff1808"/>
<rect y="470.6" width="14.7" height="1.9" fill="#ff2a08"/>
<rect y="472.4" width="14.7" height="6.5" fill="#ff2408"/>
<rect y="478.8" width="14.7" height="4.5" fill="#ff1e08"/>
<rect y="483.2" width="14.7" height="2.0" fill="#ff0c08"/>
<rect y="485.2" width="14.7" height="2.0" fill="#ff1208"/>
<rect y="487.2" width="14.7" height="1.9" fill="#ff1808"/>
<rect y="489.0" width="14.7" height="1.9" fill="#ff0608"/>
<rect y="490.8" width="14.7" height="1.9" fill="#ff0008"/>
<rect y="492.6" width="14.7" height="1.7" fill="#ff0c08"/>
<rect y="494.2" width="14.7" height="2.0" fill="#ff1208"/>
<rect y="496.2" width="14.7" height="2.2" fill="#ff2a08"/>
<rect y="498.4" width="14.7" height="2.0" fill="#ff3008"/>
<rect y="500.4" width="14.7" height="2.2" fill="#ff2a08"/>
<rect y="502.6" width="14.7" height="2.0" fill="#ff2408"/>
<rect y="504.6" width="14.7" height="1.7" fill="#ff1e08"/>
<rect y="506.2" width="14.7" height="1.7" fill="#ff2a08"/>
<rect y="507.8" width="14.7" height="2.2" fill="#ff3008"/>
<rect y="510.0" width="14.7" height="1.9" fill="#ff1e08"/>
<rect y="511.8" width="14.7" height="2.0" fill="#ff3008"/>
<rect y="513.8" width="14.7" height="1.9" fill="#ff3608"/>
<rect y="515.6" width="14.7" height="2.2" fill="#ff2408"/>
<rect y="517.8" width="14.7" height="2.2" fill="#ff1808"/>
<rect y="520.0" width="14.7" height="1.7" fill="#ff3608"/>
<rect y="521.6" width="14.7" height="1.7" fill="#ff2408"/>
<rect y="523.2" width="14.7" height="2.0" fill="#ff3008"/>
<rect y="525.2" width="14.7" height="6.2" fill="#ff8a08"/>
<rect y="531.4" width="14.7" height="2.2" fill="#ff8408"/>
<rect y="533.6" width="14.7" height="1.7" fill="#ff9008"/>
<rect y="535.2" width="14.7" height="1.7" fill="#ff9c08"/>
<rect y="536.8" width="14.7" height="4.2" fill="#ff9008"/>
<rect y="541.0" width="14.7" height="1.7" fill="#ff6008"/>
<rect y="542.6" width="14.7" height="1.7" fill="#ff6608"/>
<rect y="544.2" width="14.7" height="2.0" fill="#ff6008"/>
<rect y="546.2" width="14.7" height="2.2" fill="#ff6608"/>
<rect y="548.4" width="14.7" height="2.0" fill="#ff6c08"/>
<rect y="550.4" width="14.7" height="2.2" fill="#ff6608"/>
<rect y="552.6" width="14.7" height="2.0" fill="#ff4e08"/>
<rect y="554.6" width="14.7" height="1.7" fill="#ff6608"/>
<rect y="556.2" width="14.7" height="2.2" fill="#ff5a08"/>
<rect y="558.4" width="14.7" height="2.0" fill="#ff6608"/>
<rect y="560.4" width="14.7" height="5.7" fill="#ff6008"/>
<rect y="566.0" width="14.7" height="1.7" fill="#ffa808"/>
<rect y="567.6" width="14.7" height="1.9" fill="#ffd808"/>
<rect y="569.4" width="14.7" height="3.8" fill="#ffde08"/>
<rect y="573.2" width="14.7" height="4.0" fill="#ffe408"/>
<rect y="577.2" width="14.7" height="2.2" fill="#ffea00"/>
<rect y="579.4" width="14.7" height="5.7" fill="#fff000"/>
<rect y="585.0" width="14.7" height="2.2" fill="#ffea00"/>
<rect y="587.2" width="14.7" height="2.2" fill="#fff000"/>
<rect y="589.4" width="14.7" height="2.0" fill="#fff600"/>
<rect y="591.4" width="14.7" height="8.2" fill="#fff000"/>
<rect y="599.6" width="14.7" height="2.0" fill="#ffea00"/>
<rect y="601.6" width="14.7" height="4.0" fill="#fff600"/>
<rect y="605.6" width="14.7" height="1.9" fill="#fff000"/>
<rect y="607.4" width="14.7" height="1.7" fill="#fff600"/>
<rect y="609.0" width="14.7" height="3.6" fill="#fff000"/>
<rect y="612.6" width="14.7" height="1.9" fill="#ffea00"/>
<rect y="614.4" width="14.7" height="3.5" fill="#fff000"/>
<rect y="617.8" width="14.7" height="4.0" fill="#ffe408"/>
<rect y="621.8" width="14.7" height="4.0" fill="#fff000"/>
<rect y="625.8" width="14.7" height="1.7" fill="#ffea00"/>
<rect y="627.4" width="14.7" height="1.9" fill="#fff000"/>
<rect y="629.2" width="14.7" height="2.2" fill="#ffea00"/>
<rect y="631.4" width="14.7" height="2.0" fill="#ffde08"/>
<rect y="633.4" width="14.7" height="2.0" fill="#ffae08"/>
<rect y="635.4" width="14.7" height="1.9" fill="#ffb408"/>
<rect y="637.2" width="14.7" height="1.7" fill="#ffba08"/>
<rect y="638.8" width="14.7" height="2.2" fill="#ffae08"/>
<rect y="641.0" width="14.7" height="2.2" fill="#ffb408"/>
<rect y="643.2" width="14.7" height="4.8" fill="#ffae08"/>
</g>
<g transform="translate(347.20 0)">
<rect y="402.4" width="14.7" height="2.0" fill="#ff4e08"/>
<rect y="404.4" width="14.7" height="1.9" fill="#ff5408"/>
<rect y="406.2" width="14.7" height="2.2" fill="#ff6008"/>
<rect y="408.4" width="14.7" height="3.2" fill="#ff5408"/>
<rect y="411.6" width="14.7" height="1.7" fill="#ff4e08"/>
<rect y="413.2" width="14.7" height="3.6" fill="#ff5408"/>
<rect y="416.8" width="14.7" height="3.5" fill="#ff4808"/>
<rect y="420.2" width="14.7" height="1.7" fill="#ff5a08"/>
<rect y="421.8" width="14.7" height="2.2" fill="#ff4e08"/>
<rect y="424.0" width="14.7" height="2.2" fill="#ff5a08"/>
<rect y="426.2" width="14.7" height="1.7" fill="#ff6008"/>
<rect y="427.8" width="14.7" height="1.9" fill="#ff5a08"/>
<rect y="429.6" width="14.7" height="1.7" fill="#ff6008"/>
<rect y="431.2" width="14.7" height="7.2" fill="#ff4208"/>
<rect y="438.4" width="14.7" height="1.7" fill="#ff4808"/>
<rect y="440.0" width="14.7" height="2.2" fill="#ff2408"/>
<rect y="442.2" width="14.7" height="1.7" fill="#ff4208"/>
<rect y="443.8" width="14.7" height="1.9" fill="#ff3608"/>
<rect y="445.6" width="14.7" height="1.7" fill="#ff4208"/>
<rect y="447.2" width="14.7" height="1.9" fill="#ff3008"/>
<rect y="449.0" width="14.7" height="2.0" fill="#ff4208"/>
<rect y="451.0" width="14.7" height="2.2" fill="#ff3c08"/>
<rect y="453.2" width="14.7" height="1.9" fill="#ff3608"/>
<rect y="455.0" width="14.7" height="1.7" fill="#ff3008"/>
<rect y="456.6" width="14.7" height="2.0" fill="#ff3608"/>
<rect y="458.6" width="14.7" height="1.9" fill="#ff3008"/>
<rect y="460.4" width="14.7" height="3.5" fill="#ff3608"/>
<rect y="463.8" width="14.7" height="3.6" fill="#ff2408"/>
<rect y="467.4" width="14.7" height="1.7" fill="#ff3608"/>
<rect y="469.0" width="14.7" height="1.7" fill="#ff1808"/>
<rect y="470.6" width="14.7" height="1.9" fill="#ff2408"/>
<rect y="472.4" width="14.7" height="4.5" fill="#ff1e08"/>
<rect y="476.8" width="14.7" height="2.0" fill="#ff1808"/>
<rect y="478.8" width="14.7" height="2.2" fill="#ff1e08"/>
<rect y="481.0" width="14.7" height="2.2" fill="#ff2a08"/>
<rect y="483.2" width="14.7" height="2.0" fill="#ff1808"/>
<rect y="485.2" width="14.7" height="2.0" fill="#ff1208"/>
<rect y="487.2" width="14.7" height="1.9" fill="#ff1808"/>
<rect y="489.0" width="14.7" height="3.6" fill="#ff0c08"/>
<rect y="492.6" width="14.7" height="1.7" fill="#ff0608"/>
<rect y="494.2" width="14.7" height="2.0" fill="#ff1808"/>
<rect y="496.2" width="14.7" height="2.2" fill="#ff2408"/>
<rect y="498.4" width="14.7" height="2.0" fill="#ff2a08"/>
<rect y="500.4" width="14.7" height="4.2" fill="#ff2408"/>
<rect y="504.6" width="14.7" height="1.7" fill="#ff1808"/>
<rect y="506.2" width="14.7" height="1.7" fill="#ff2a08"/>
<rect y="507.8" width="14.7" height="2.2" fill="#ff3608"/>
<rect y="510.0" width="14.7" height="1.9" fill="#ff1e08"/>
<rect y="511.8" width="14.7" height="3.8" fill="#ff3008"/>
<rect y="515.6" width="14.7" height="2.2" fill="#ff2408"/>
<rect y="517.8" width="14.7" height="2.2" fill="#ff1808"/>
<rect y="520.0" width="14.7" height="1.7" fill="#ff3c08"/>
<rect y="521.6" width="14.7" height="1.7" fill="#ff3008"/>
<rect y="523.2" width="14.7" height="2.0" fill="#ff3608"/>
<rect y="525.2" width="14.7" height="2.0" fill="#ff8408"/>
<rect y="527.2" width="14.7" height="2.0" fill="#ff9008"/>
<rect y="529.2" width="14.7" height="2.2" fill="#ff8a08"/>
<rect y="531.4" width="14.7" height="2.2" fill="#ff7e08"/>
<rect y="533.6" width="14.7" height="1.7" fill="#ff9608"/>
<rect y="535.2" width="14.7" height="1.7" fill="#ff9c08"/>
<rect y="536.8" width="14.7" height="2.0" fill="#ff9008"/>
<rect y="538.8" width="14.7" height="2.2" fill="#ff8a08"/>
<rect y="541.0" width="14.7" height="1.7" fill="#ff6608"/>
<rect y="542.6" width="14.7" height="1.7" fill="#ff6008"/>
<rect y="544.2" width="14.7" height="8.5" fill="#ff6608"/>
<rect y="552.6" width="14.7" height="2.0" fill="#ff5a08"/>
<rect y="554.6" width="14.7" height="1.7" fill="#ff6008"/>
<rect y="556.2" width="14.7" height="2.2" fill="#ff5a08"/>
<rect y="558.4" width="14.7" height="2.0" fill="#ff6c08"/>
<rect y="560.4" width="14.7" height="1.9" fill="#ff6008"/>
<rect y="562.2" width="14.7" height="3.9" fill="#ff5a08"/>
<rect y="566.0" width="14.7" height="1.7" fill="#ffa808"/>
<rect y="567.6" width="14.7" height="1.9" fill="#ffd808"/>
<rect y="569.4" width="14.7" height="3.8" fill="#ffde08"/>
<rect y="573.2" width="14.7" height="1.9" fill="#ffe408"/>
<rect y="575.0" width="14.7" height="4.5" fill="#ffea00"/>
<rect y="579.4" width="14.7" height="2.2" fill="#fff000"/>
<rect y="581.6" width="14.7" height="1.7" fill="#fff600"/>
<rect y="583.2" width="14.7" height="6.2" fill="#fff000"/>
<rect y="589.4" width="14.7" height="2.0" fill="#fff600"/>
<rect y="591.4" width="14.7" height="1.9" fill="#ffea00"/>
<rect y="593.2" width="14.7" height="6.5" fill="#fff000"/>
<rect y="599.6" width="14.7" height="2.0" fill="#fff600"/>
<rect y="601.6" width="14.7" height="2.2" fill="#fff000"/>
<rect y="603.8" width="14.7" height="1.9" fill="#fff600"/>
<rect y="605.6" width="14.7" height="3.5" fill="#fff000"/>
<rect y="609.0" width="14.7" height="1.9" fill="#fff600"/>
<rect y="610.8" width="14.7" height="7.0" fill="#fff000"/>
<rect y="617.8" width="14.7" height="4.0" fill="#ffea00"/>
<rect y="621.8" width="14.7" height="5.6" fill="#fff000"/>
<rect y="627.4" width="14.7" height="1.9" fill="#ffea00"/>
<rect y="629.2" width="14.7" height="2.2" fill="#fff000"/>
<rect y="631.4" width="14.7" height="2.0" fill="#ffde08"/>
<rect y="633.4" width="14.7" height="2.0" fill="#ffae08"/>
<rect y="635.4" width="14.7" height="1.9" fill="#ffa808"/>
<rect y="637.2" width="14.7" height="1.7" fill="#ffba08"/>
<rect y="638.8" width="14.7" height="4.5" fill="#ffb408"/>
<rect y="643.2" width="14.7" height="2.2" fill="#ffae08"/>
<rect y="645.4" width="14.7" height="2.2" fill="#ffa808"/>
<rect y="647.6" width="14.7" height="0.4" fill="#ffba08"/>
</g>
<g transform="translate(361.85 0)">
<rect y="402.4" width="14.7" height="2.0" fill="#ff5408"/>
<rect y="404.4" width="14.7" height="1.9" fill="#ff5a08"/>
<rect y="406.2" width="14.7" height="2.2" fill="#ff6608"/>
<rect y="408.4" width="14.7" height="1.7" fill="#ff5a08"/>
<rect y="410.0" width="14.7" height="1.7" fill="#ff4e08"/>
<rect y="411.6" width="14.7" height="1.7" fill="#ff5408"/>
<rect y="413.2" width="14.7" height="2.0" fill="#ff5a08"/>
<rect y="415.2" width="14.7" height="5.0" fill="#ff4e08"/>
<rect y="420.2" width="14.7" height="1.7" fill="#ff5408"/>
<rect y="421.8" width="14.7" height="2.2" fill="#ff4e08"/>
<rect y="424.0" width="14.7" height="2.2" fill="#ff5408"/>
<rect y="426.2" width="14.7" height="1.7" fill="#ff6008"/>
<rect y="427.8" width="14.7" height="1.9" fill="#ff5408"/>
<rect y="429.6" width="14.7" height="1.7" fill="#ff5a08"/>
<rect y="431.2" width="14.7" height="3.9" fill="#ff4208"/>
<rect y="435.0" width="14.7" height="1.7" fill="#ff3608"/>
<rect y="436.6" width="14.7" height="1.9" fill="#ff4e08"/>
<rect y="438.4" width="14.7" height="1.7" fill="#ff4808"/>
<rect y="440.0" width="14.7" height="2.2" fill="#ff3008"/>
<rect y="442.2" width="14.7" height="1.7" fill="#ff4208"/>
<rect y="443.8" width="14.7" height="1.9" fill="#ff3608"/>
<rect y="445.6" width="14.7" height="1.7" fill="#ff4208"/>
<rect y="447.2" width="14.7" height="1.9" fill="#ff3608"/>
<rect y="449.0" width="14.7" height="2.0" fill="#ff4208"/>
<rect y="451.0" width="14.7" height="4.0" fill="#ff3c08"/>
<rect y="455.0" width="14.7" height="1.7" fill="#ff3608"/>
<rect y="456.6" width="14.7" height="3.8" fill="#ff3c08"/>
<rect y="460.4" width="14.7" height="1.7" fill="#ff2a08"/>
<rect y="462.0" width="14.7" height="1.9" fill="#ff3608"/>
<rect y="463.8" width="14.7" height="3.6" fill="#ff2a08"/>
<rect y="467.4" width="14.7" height="1.7" fill="#ff3008"/>
<rect y="469.0" width="14.7" height="1.7" fill="#ff1208"/>
<rect y="470.6" width="14.7" height="1.9" fill="#ff2a08"/>
<rect y="472.4" width="14.7" height="4.5" fill="#ff1e08"/>
<rect y="476.8" width="14.7" height="2.0" fill="#ff2a08"/>
<rect y="478.8" width="14.7" height="4.5" fill="#ff1e08"/>
<rect y="483.2" width="14.7" height="2.0" fill="#ff1808"/>
<rect y="485.2" width="14.7" height="2.0" fill="#ff1208"/>
<rect y="487.2" width="14.7" height="1.9" fill="#ff1808"/>
<rect y="489.0" width="14.7" height="1.9" fill="#ff1208"/>
<rect y="490.8" width="14.7" height="1.9" fill="#ff1808"/>
<rect y="492.6" width="14.7" height="1.7" fill="#ff0608"/>
<rect y="494.2" width="14.7" height="2.0" fill="#ff2408"/>
<rect y="496.2" width="14.7" height="2.2" fill="#ff1808"/>
<rect y="498.4" width="14.7" height="2.0" fill="#ff3608"/>
<rect y="500.4" width="14.7" height="2.2" fill="#ff1e08"/>
<rect y="502.6" width="14.7" height="2.0" fill="#ff2a08"/>
<rect y="504.6" width="14.7" height="1.7" fill="#ff1e08"/>
<rect y="506.2" width="14.7" height="3.9" fill="#ff2a08"/>
<rect y="510.0" width="14.7" height="1.9" fill="#ff2408"/>
<rect y="511.8" width="14.7" height="2.0" fill="#ff3c08"/>
<rect y="513.8" width="14.7" height="1.9" fill="#ff3608"/>
<rect y="515.6" width="14.7" height="2.2" fill="#ff2a08"/>
<rect y="517.8" width="14.7" height="2.2" fill="#ff1e08"/>
<rect y="520.0" width="14.7" height="1.7" fill="#ff3008"/>
<rect y="521.6" width="14.7" height="1.7" fill="#ff2408"/>
<rect y="523.2" width="14.7" height="2.0" fill="#ff3c08"/>
<rect y="525.2" width="14.7" height="2.0" fill="#ff9008"/>
<rect y="527.2" width="14.7" height="2.0" fill="#ff8a08"/>
<rect y="529.2" width="14.7" height="2.2" fill="#ff9008"/>
<rect y="531.4" width="14.7" height="2.2" fill="#ff7e08"/>
<rect y="533.6" width="14.7" height="3.2" fill="#ff9c08"/>
<rect y="536.8" width="14.7" height="4.2" fill="#ff9008"/>
<rect y="541.0" width="14.7" height="1.7" fill="#ff6008"/>
<rect y="542.6" width="14.7" height="1.7" fill="#ff6c08"/>
<rect y="544.2" width="14.7" height="2.0" fill="#ff6008"/>
<rect y="546.2" width="14.7" height="2.2" fill="#ff6608"/>
<rect y="548.4" width="14.7" height="2.0" fill="#ff7208"/>
<rect y="550.4" width="14.7" height="2.2" fill="#ff6608"/>
<rect y="552.6" width="14.7" height="3.6" fill="#ff5a08"/>
<rect y="556.2" width="14.7" height="2.2" fill="#ff6008"/>
<rect y="558.4" width="14.7" height="2.0" fill="#ff6c08"/>
<rect y="560.4" width="14.7" height="1.9" fill="#ff6608"/>
<rect y="562.2" width="14.7" height="3.9" fill="#ff6008"/>
<rect y="566.0" width="14.7" height="1.7" fill="#ffa808"/>
<rect y="567.6" width="14.7" height="1.9" fill="#ffd808"/>
<rect y="569.4" width="14.7" height="3.8" fill="#ffde08"/>
<rect y="573.2" width="14.7" height="1.9" fill="#ffe408"/>
<rect y="575.0" width="14.7" height="2.2" fill="#ffea00"/>
<rect y="577.2" width="14.7" height="4.5" fill="#fff000"/>
<rect y="581.6" width="14.7" height="1.7" fill="#fff600"/>
<rect y="583.2" width="14.7" height="1.9" fill="#ffea00"/>
<rect y="585.0" width="14.7" height="2.2" fill="#fff000"/>
<rect y="587.2" width="14.7" height="2.2" fill="#ffea00"/>
<rect y="589.4" width="14.7" height="2.0" fill="#fff600"/>
<rect y="591.4" width="14.7" height="1.9" fill="#ffea00"/>
<rect y="593.2" width="14.7" height="6.5" fill="#fff000"/>
<rect y="599.6" width="14.7" height="4.2" fill="#fff600"/>
<rect y="603.8" width="14.7" height="1.9" fill="#fffc00"/>
<rect y="605.6" width="14.7" height="7.0" fill="#fff600"/>
<rect y="612.6" width="14.7" height="5.2" fill="#fff000"/>
<rect y="617.8" width="14.7" height="4.0" fill="#ffea00"/>
<rect y="621.8" width="14.7" height="9.7" fill="#fff000"/>
<rect y="631.4" width="14.7" height="2.0" fill="#ffde08"/>
<rect y="633.4" width="14.7" height="3.8" fill="#ffae08"/>
<rect y="637.2" width="14.7" height="1.7" fill="#ffc008"/>
<rect y="638.8" width="14.7" height="2.2" fill="#ffae08"/>
<rect y="641.0" width="14.7" height="2.2" fill="#ffb408"/>
<rect y="643.2" width="14.7" height="2.2" fill="#ffae08"/>
<rect y="645.4" width="14.7" height="2.2" fill="#ffba08"/>
<rect y="647.6" width="14.7" height="0.4" fill="#ffb408"/>
</g>
<g transform="translate(376.50 0)">
<rect y="402.4" width="14.7" height="3.8" fill="#ff5a08"/>
<rect y="406.2" width="14.7" height="2.2" fill="#ff6008"/>
<rect y="408.4" width="14.7" height="1.7" fill="#ff5a08"/>
<rect y="410.0" width="14.7" height="1.7" fill="#ff4e08"/>
<rect y="411.6" width="14.7" height="1.7" fill="#ff4808"/>
<rect y="413.2" width="14.7" height="3.6" fill="#ff5408"/>
<rect y="416.8" width="14.7" height="3.5" fill="#ff4208"/>
<rect y="420.2" width="14.7" height="1.7" fill="#ff5a08"/>
<rect y="421.8" width="14.7" height="2.2" fill="#ff4808"/>
<rect y="424.0" width="14.7" height="2.2" fill="#ff4e08"/>
<rect y="426.2" width="14.7" height="1.7" fill="#ff5408"/>
<rect y="427.8" width="14.7" height="1.9" fill="#ff4e08"/>
<rect y="429.6" width="14.7" height="1.7" fill="#ff5408"/>
<rect y="431.2" width="14.7" height="2.2" fill="#ff4808"/>
<rect y="433.4" width="14.7" height="1.7" fill="#ff4e08"/>
<rect y="435.0" width="14.7" height="3.5" fill="#ff4208"/>
<rect y="438.4" width="14.7" height="1.7" fill="#ff4808"/>
<rect y="440.0" width="14.7" height="2.2" fill="#ff3008"/>
<rect y="442.2" width="14.7" height="1.7" fill="#ff4808"/>
<rect y="443.8" width="14.7" height="1.9" fill="#ff3008"/>
<rect y="445.6" width="14.7" height="1.7" fill="#ff4208"/>
<rect y="447.2" width="14.7" height="1.9" fill="#ff3008"/>
<rect y="449.0" width="14.7" height="2.0" fill="#ff4208"/>
<rect y="451.0" width="14.7" height="2.2" fill="#ff4808"/>
<rect y="453.2" width="14.7" height="7.2" fill="#ff3c08"/>
<rect y="460.4" width="14.7" height="1.7" fill="#ff2a08"/>
<rect y="462.0" width="14.7" height="1.9" fill="#ff3608"/>
<rect y="463.8" width="14.7" height="2.0" fill="#ff3008"/>
<rect y="465.8" width="14.7" height="1.7" fill="#ff1e08"/>
<rect y="467.4" width="14.7" height="1.7" fill="#ff3008"/>
<rect y="469.0" width="14.7" height="1.7" fill="#ff1208"/>
<rect y="470.6" width="14.7" height="1.9" fill="#ff2408"/>
<rect y="472.4" width="14.7" height="4.5" fill="#ff1e08"/>
<rect y="476.8" width="14.7" height="2.0" fill="#ff2408"/>
<rect y="478.8" width="14.7" height="2.2" fill="#ff1208"/>
<rect y="481.0" width="14.7" height="2.2" fill="#ff1e08"/>
<rect y="483.2" width="14.7" height="2.0" fill="#ff1208"/>
<rect y="485.2" width="14.7" height="2.0" fill="#ff0c08"/>
<rect y="487.2" width="14.7" height="1.9" fill="#ff1e08"/>
<rect y="489.0" width="14.7" height="1.9" fill="#ff1208"/>
<rect y="490.8" width="14.7" height="1.9" fill="#ff0608"/>
<rect y="492.6" width="14.7" height="1.7" fill="#ff0008"/>
<rect y="494.2" width="14.7" height="2.0" fill="#ff1808"/>
<rect y="496.2" width="14.7" height="2.2" fill="#ff1e08"/>
<rect y="498.4" width="14.7" height="2.0" fill="#ff3008"/>
<rect y="500.4" width="14.7" height="2.2" fill="#ff1e08"/>
<rect y="502.6" width="14.7" height="2.0" fill="#ff2a08"/>
<rect y="504.6" width="14.7" height="1.7" fill="#ff1808"/>
<rect y="506.2" width="14.7" height="3.9" fill="#ff3008"/>
<rect y="510.0" width="14.7" height="1.9" fill="#ff2408"/>
<rect y="511.8" width="14.7" height="2.0" fill="#ff3c08"/>
<rect y="513.8" width="14.7" height="1.9" fill="#ff2a08"/>
<rect y="515.6" width="14.7" height="2.2" fill="#ff2408"/>
<rect y="517.8" width="14.7" height="2.2" fill="#ff1e08"/>
<rect y="520.0" width="14.7" height="1.7" fill="#ff3608"/>
<rect y="521.6" width="14.7" height="1.7" fill="#ff2408"/>
<rect y="523.2" width="14.7" height="2.0" fill="#ff3608"/>
<rect y="525.2" width="14.7" height="2.0" fill="#ff8408"/>
<rect y="527.2" width="14.7" height="2.0" fill="#ff8a08"/>
<rect y="529.2" width="14.7" height="2.2" fill="#ff9608"/>
<rect y="531.4" width="14.7" height="2.2" fill="#ff8408"/>
<rect y="533.6" width="14.7" height="1.7" fill="#ff9008"/>
<rect y="535.2" width="14.7" height="1.7" fill="#ff9608"/>
<rect y="536.8" width="14.7" height="2.0" fill="#ff8408"/>
<rect y="538.8" width="14.7" height="2.2" fill="#ff9008"/>
<rect y="541.0" width="14.7" height="1.7" fill="#ff6608"/>
<rect y="542.6" width="14.7" height="1.7" fill="#ff6c08"/>
<rect y="544.2" width="14.7" height="4.2" fill="#ff6008"/>
<rect y="548.4" width="14.7" height="2.0" fill="#ff6c08"/>
<rect y="550.4" width="14.7" height="2.2" fill="#ff6608"/>
<rect y="552.6" width="14.7" height="2.0" fill="#ff5408"/>
<rect y="554.6" width="14.7" height="1.7" fill="#ff6608"/>
<rect y="556.2" width="14.7" height="2.2" fill="#ff4808"/>
<rect y="558.4" width="14.7" height="3.8" fill="#ff6008"/>
<rect y="562.2" width="14.7" height="1.7" fill="#ff5a08"/>
<rect y="563.8" width="14.7" height="2.2" fill="#ff5408"/>
<rect y="566.0" width="14.7" height="1.7" fill="#ffa208"/>
<rect y="567.6" width="14.7" height="3.8" fill="#ffde08"/>
<rect y="571.4" width="14.7" height="1.9" fill="#ffd808"/>
<rect y="573.2" width="14.7" height="1.9" fill="#ffde08"/>
<rect y="575.0" width="14.7" height="2.2" fill="#ffe408"/>
<rect y="577.2" width="14.7" height="2.2" fill="#ffea00"/>
<rect y="579.4" width="14.7" height="5.7" fill="#fff000"/>
<rect y="585.0" width="14.7" height="4.5" fill="#ffea00"/>
<rect y="589.4" width="14.7" height="2.0" fill="#fff600"/>
<rect y="591.4" width="14.7" height="12.4" fill="#fff000"/>
<rect y="603.8" width="14.7" height="1.9" fill="#fffc00"/>
<rect y="605.6" width="14.7" height="3.5" fill="#fff000"/>
<rect y="609.0" width="14.7" height="1.9" fill="#fffc00"/>
<rect y="610.8" width="14.7" height="3.6" fill="#fff000"/>
<rect y="614.4" width="14.7" height="1.9" fill="#ffea00"/>
<rect y="616.2" width="14.7" height="1.7" fill="#fff000"/>
<rect y="617.8" width="14.7" height="2.2" fill="#ffe408"/>
<rect y="620.0" width="14.7" height="1.9" fill="#ffea00"/>
<rect y="621.8" width="14.7" height="2.0" fill="#fff600"/>
<rect y="623.8" width="14.7" height="2.0" fill="#fff000"/>
<rect y="625.8" width="14.7" height="1.7" fill="#ffea00"/>
<rect y="627.4" width="14.7" height="1.9" fill="#fff000"/>
<rect y="629.2" width="14.7" height="2.2" fill="#ffea00"/>
<rect y="631.4" width="14.7" height="2.0" fill="#ffd808"/>
<rect y="633.4" width="14.7" height="2.0" fill="#ffae08"/>
<rect y="635.4" width="14.7" height="1.9" fill="#ffb408"/>
<rect y="637.2" width="14.7" height="1.7" fill="#ffba08"/>
<rect y="638.8" width="14.7" height="2.2" fill="#ffb408"/>
<rect y="641.0" width="14.7" height="2.2" fill="#ffae08"/>
<rect y="643.2" width="14.7" height="2.2" fill="#ffa808"/>
<rect y="645.4" width="14.7" height="2.2" fill="#ffae08"/>
<rect y="647.6" width="14.7" height="0.4" fill="#ffb408"/>
</g>
<g transform="translate(391.15 0)">
<rect y="402.4" width="14.7" height="2.0" fill="#ff6008"/>
<rect y="404.4" width="14.7" height="1.9" fill="#ff4e08"/>
<rect y="406.2" width="14.7" height="2.2" fill="#ff6608"/>
<rect y="408.4" width="14.7" height="1.7" fill="#ff5a08"/>
<rect y="410.0" width="14.7" height="1.7" fill="#ff4208"/>
<rect y="411.6" width="14.7" height="3.6" fill="#ff4e08"/>
<rect y="415.2" width="14.7" height="1.7" fill="#ff5a08"/>
<rect y="416.8" width="14.7" height="1.9" fill="#ff3c08"/>
<rect y="418.6" width="14.7" height="1.7" fill="#ff5408"/>
<rect y="420.2" width="14.7" height="1.7" fill="#ff6008"/>
<rect y="421.8" width="14.7" height="2.2" fill="#ff4e08"/>
<rect y="424.0" width="14.7" height="5.7" fill="#ff5408"/>
<rect y="429.6" width="14.7" height="1.7" fill="#ff5a08"/>
<rect y="431.2" width="14.7" height="2.2" fill="#ff4208"/>
<rect y="433.4" width="14.7" height="1.7" fill="#ff4808"/>
<rect y="435.0" width="14.7" height="5.0" fill="#ff4208"/>
<rect y="440.0" width="14.7" height="2.2" fill="#ff3008"/>
<rect y="442.2" width="14.7" height="1.7" fill="#ff3c08"/>
<rect y="443.8" width="14.7" height="1.9" fill="#ff3008"/>
<rect y="445.6" width="14.7" height="1.7" fill="#ff3c08"/>
<rect y="447.2" width="14.7" height="1.9" fill="#ff3008"/>
<rect y="449.0" width="14.7" height="2.0" fill="#ff3c08"/>
<rect y="451.0" width="14.7" height="5.6" fill="#ff3608"/>
<rect y="456.6" width="14.7" height="2.0" fill="#ff4208"/>
<rect y="458.6" width="14.7" height="1.9" fill="#ff2a08"/>
<rect y="460.4" width="14.7" height="1.7" fill="#ff3008"/>
<rect y="462.0" width="14.7" height="1.9" fill="#ff3608"/>
<rect y="463.8" width="14.7" height="2.0" fill="#ff3008"/>
<rect y="465.8" width="14.7" height="1.7" fill="#ff2a08"/>
<rect y="467.4" width="14.7" height="1.7" fill="#ff3608"/>
<rect y="469.0" width="14.7" height="1.7" fill="#ff1808"/>
<rect y="470.6" width="14.7" height="1.9" fill="#ff2a08"/>
<rect y="472.4" width="14.7" height="4.5" fill="#ff1e08"/>
<rect y="476.8" width="14.7" height="2.0" fill="#ff2a08"/>
<rect y="478.8" width="14.7" height="4.5" fill="#ff1e08"/>
<rect y="483.2" width="14.7" height="2.0" fill="#ff1208"/>
<rect y="485.2" width="14.7" height="2.0" fill="#ff0c08"/>
<rect y="487.2" width="14.7" height="1.9" fill="#ff1e08"/>
<rect y="489.0" width="14.7" height="3.6" fill="#ff1208"/>
<rect y="492.6" width="14.7" height="1.7" fill="#ff0608"/>
<rect y="494.2" width="14.7" height="2.0" fill="#ff1808"/>
<rect y="496.2" width="14.7" height="2.2" fill="#ff2408"/>
<rect y="498.4" width="14.7" height="2.0" fill="#ff2a08"/>
<rect y="500.4" width="14.7" height="2.2" fill="#ff1e08"/>
<rect y="502.6" width="14.7" height="3.6" fill="#ff2408"/>
<rect y="506.2" width="14.7" height="3.9" fill="#ff3008"/>
<rect y="510.0" width="14.7" height="1.9" fill="#ff2408"/>
<rect y="511.8" width="14.7" height="2.0" fill="#ff3008"/>
<rect y="513.8" width="14.7" height="1.9" fill="#ff2a08"/>
<rect y="515.6" width="14.7" height="2.2" fill="#ff2408"/>
<rect y="517.8" width="14.7" height="2.2" fill="#ff1e08"/>
<rect y="520.0" width="14.7" height="1.7" fill="#ff3608"/>
<rect y="521.6" width="14.7" height="1.7" fill="#ff2a08"/>
<rect y="523.2" width="14.7" height="2.0" fill="#ff3608"/>
<rect y="525.2" width="14.7" height="4.0" fill="#ff8a08"/>
<rect y="529.2" width="14.7" height="2.2" fill="#ff9608"/>
<rect y="531.4" width="14.7" height="2.2" fill="#ff7e08"/>
<rect y="533.6" width="14.7" height="1.7" fill="#ff8a08"/>
<rect y="535.2" width="14.7" height="3.6" fill="#ff9008"/>
<rect y="538.8" width="14.7" height="2.2" fill="#ff8a08"/>
<rect y="541.0" width="14.7" height="1.7" fill="#ff6008"/>
<rect y="542.6" width="14.7" height="3.6" fill="#ff6608"/>
<rect y="546.2" width="14.7" height="2.2" fill="#ff6008"/>
<rect y="548.4" width="14.7" height="2.0" fill="#ff6c08"/>
<rect y="550.4" width="14.7" height="2.2" fill="#ff5a08"/>
<rect y="552.6" width="14.7" height="2.0" fill="#ff5408"/>
<rect y="554.6" width="14.7" height="5.9" fill="#ff5a08"/>
<rect y="560.4" width="14.7" height="3.5" fill="#ff6008"/>
<rect y="563.8" width="14.7" height="2.2" fill="#ff5408"/>
<rect y="566.0" width="14.7" height="1.7" fill="#ffa208"/>
<rect y="567.6" width="14.7" height="1.9" fill="#ffd808"/>
<rect y="569.4" width="14.7" height="2.0" fill="#ffde08"/>
<rect y="571.4" width="14.7" height="1.9" fill="#ffd808"/>
<rect y="573.2" width="14.7" height="4.0" fill="#ffe408"/>
<rect y="577.2" width="14.7" height="2.2" fill="#ffea00"/>
<rect y="579.4" width="14.7" height="2.2" fill="#fff000"/>
<rect y="581.6" width="14.7" height="1.7" fill="#fff600"/>
<rect y="583.2" width="14.7" height="1.9" fill="#ffea00"/>
<rect y="585.0" width="14.7" height="4.5" fill="#fff000"/>
<rect y="589.4" width="14.7" height="2.0" fill="#fff600"/>
<rect y="591.4" width="14.7" height="1.9" fill="#fff000"/>
<rect y="593.2" width="14.7" height="2.2" fill="#fff600"/>
<rect y="595.4" width="14.7" height="8.5" fill="#fff000"/>
<rect y="603.8" width="14.7" height="5.2" fill="#fff600"/>
<rect y="609.0" width="14.7" height="8.9" fill="#fff000"/>
<rect y="617.8" width="14.7" height="4.0" fill="#ffea00"/>
<rect y="621.8" width="14.7" height="5.6" fill="#fff000"/>
<rect y="627.4" width="14.7" height="4.0" fill="#ffea00"/>
<rect y="631.4" width="14.7" height="2.0" fill="#ffde08"/>
<rect y="633.4" width="14.7" height="2.0" fill="#ffb408"/>
<rect y="635.4" width="14.7" height="1.9" fill="#ffba08"/>
<rect y="637.2" width="14.7" height="1.7" fill="#ffc008"/>
<rect y="638.8" width="14.7" height="2.2" fill="#ffb408"/>
<rect y="641.0" width="14.7" height="2.2" fill="#ffa808"/>
<rect y="643.2" width="14.7" height="2.2" fill="#ffba08"/>
<rect y="645.4" width="14.7" height="2.2" fill="#ffb408"/>
<rect y="647.6" width="14.7" height="0.4" fill="#ffba08"/>
</g>
<g transform="translate(405.80 0)">
<rect y="402.4" width="14.7" height="2.0" fill="#ff4e08"/>
<rect y="404.4" width="14.7" height="1.9" fill="#ff5a08"/>
<rect y="406.2" width="14.7" height="2.2" fill="#ff6c08"/>
<rect y="408.4" width="14.7" height="3.2" fill="#ff5408"/>
<rect y="411.6" width="14.7" height="1.7" fill="#ff5a08"/>
<rect y="413.2" width="14.7" height="2.0" fill="#ff5408"/>
<rect y="415.2" width="14.7" height="1.7" fill="#ff5a08"/>
<rect y="416.8" width="14.7" height="1.9" fill="#ff4808"/>
<rect y="418.6" width="14.7" height="1.7" fill="#ff5408"/>
<rect y="420.2" width="14.7" height="1.7" fill="#ff5a08"/>
<rect y="421.8" width="14.7" height="2.2" fill="#ff4808"/>
<rect y="424.0" width="14.7" height="2.2" fill="#ff4e08"/>
<rect y="426.2" width="14.7" height="1.7" fill="#ff6c08"/>
<rect y="427.8" width="14.7" height="1.9" fill="#ff5a08"/>
<rect y="429.6" width="14.7" height="1.7" fill="#ff6008"/>
<rect y="431.2" width="14.7" height="2.2" fill="#ff4808"/>
<rect y="433.4" width="14.7" height="1.7" fill="#ff4e08"/>
<rect y="435.0" width="14.7" height="5.0" fill="#ff4808"/>
<rect y="440.0" width="14.7" height="2.2" fill="#ff2a08"/>
<rect y="442.2" width="14.7" height="1.7" fill="#ff4808"/>
<rect y="443.8" width="14.7" height="1.9" fill="#ff3c08"/>
<rect y="445.6" width="14.7" height="3.5" fill="#ff3608"/>
<rect y="449.0" width="14.7" height="2.0" fill="#ff4208"/>
<rect y="451.0" width="14.7" height="2.2" fill="#ff4808"/>
<rect y="453.2" width="14.7" height="5.5" fill="#ff3608"/>
<rect y="458.6" width="14.7" height="1.9" fill="#ff3008"/>
<rect y="460.4" width="14.7" height="1.7" fill="#ff3608"/>
<rect y="462.0" width="14.7" height="1.9" fill="#ff4208"/>
<rect y="463.8" width="14.7" height="3.6" fill="#ff2a08"/>
<rect y="467.4" width="14.7" height="1.7" fill="#ff3608"/>
<rect y="469.0" width="14.7" height="1.7" fill="#ff1e08"/>
<rect y="470.6" width="14.7" height="1.9" fill="#ff3608"/>
<rect y="472.4" width="14.7" height="2.2" fill="#ff1808"/>
<rect y="474.6" width="14.7" height="4.2" fill="#ff2408"/>
<rect y="478.8" width="14.7" height="4.5" fill="#ff2a08"/>
<rect y="483.2" width="14.7" height="2.0" fill="#ff2408"/>
<rect y="485.2" width="14.7" height="2.0" fill="#ff1208"/>
<rect y="487.2" width="14.7" height="1.9" fill="#ff2408"/>
<rect y="489.0" width="14.7" height="1.9" fill="#ff1808"/>
<rect y="490.8" width="14.7" height="3.5" fill="#ff0c08"/>
<rect y="494.2" width="14.7" height="2.0" fill="#ff1e08"/>
<rect y="496.2" width="14.7" height="2.2" fill="#ff2408"/>
<rect y="498.4" width="14.7" height="2.0" fill="#ff2a08"/>
<rect y="500.4" width="14.7" height="2.2" fill="#ff3008"/>
<rect y="502.6" width="14.7" height="2.0" fill="#ff2a08"/>
<rect y="504.6" width="14.7" height="1.7" fill="#ff1808"/>
<rect y="506.2" width="14.7" height="1.7" fill="#ff3008"/>
<rect y="507.8" width="14.7" height="2.2" fill="#ff3608"/>
<rect y="510.0" width="14.7" height="1.9" fill="#ff2408"/>
<rect y="511.8" width="14.7" height="2.0" fill="#ff3c08"/>
<rect y="513.8" width="14.7" height="1.9" fill="#ff3008"/>
<rect y="515.6" width="14.7" height="2.2" fill="#ff2a08"/>
<rect y="517.8" width="14.7" height="2.2" fill="#ff1e08"/>
<rect y="520.0" width="14.7" height="1.7" fill="#ff3608"/>
<rect y="521.6" width="14.7" height="1.7" fill="#ff2a08"/>
<rect y="523.2" width="14.7" height="2.0" fill="#ff3608"/>
<rect y="525.2" width="14.7" height="2.0" fill="#ff9c08"/>
<rect y="527.2" width="14.7" height="6.5" fill="#ff9008"/>
<rect y="533.6" width="14.7" height="1.7" fill="#ff9608"/>
<rect y="535.2" width="14.7" height="3.6" fill="#ff9c08"/>
<rect y="538.8" width="14.7" height="2.2" fill="#ff9008"/>
<rect y="541.0" width="14.7" height="1.7" fill="#ff6c08"/>
<rect y="542.6" width="14.7" height="1.7" fill="#ff7208"/>
<rect y="544.2" width="14.7" height="6.2" fill="#ff6c08"/>
<rect y="550.4" width="14.7" height="2.2" fill="#ff6608"/>
<rect y="552.6" width="14.7" height="2.0" fill="#ff5408"/>
<rect y="554.6" width="14.7" height="1.7" fill="#ff6608"/>
<rect y="556.2" width="14.7" height="2.2" fill="#ff5a08"/>
<rect y="558.4" width="14.7" height="3.8" fill="#ff6608"/>
<rect y="562.2" width="14.7" height="1.7" fill="#ff6c08"/>
<rect y="563.8" width="14.7" height="2.2" fill="#ff6608"/>
<rect y="566.0" width="14.7" height="1.7" fill="#ffa208"/>
<rect y="567.6" width="14.7" height="1.9" fill="#ffd808"/>
<rect y="569.4" width="14.7" height="2.0" fill="#ffe408"/>
<rect y="571.4" width="14.7" height="1.9" fill="#ffde08"/>
<rect y="573.2" width="14.7" height="1.9" fill="#ffe408"/>
<rect y="575.0" width="14.7" height="6.7" fill="#ffea00"/>
<rect y="581.6" width="14.7" height="1.7" fill="#fff600"/>
<rect y="583.2" width="14.7" height="4.0" fill="#fff000"/>
<rect y="587.2" width="14.7" height="2.2" fill="#ffea00"/>
<rect y="589.4" width="14.7" height="2.0" fill="#fff600"/>
<rect y="591.4" width="14.7" height="1.9" fill="#ffea00"/>
<rect y="593.2" width="14.7" height="4.2" fill="#fff000"/>
<rect y="597.4" width="14.7" height="2.2" fill="#ffea00"/>
<rect y="599.6" width="14.7" height="2.0" fill="#fff600"/>
<rect y="601.6" width="14.7" height="2.2" fill="#fff000"/>
<rect y="603.8" width="14.7" height="3.6" fill="#fff600"/>
<rect y="607.4" width="14.7" height="1.7" fill="#fff000"/>
<rect y="609.0" width="14.7" height="1.9" fill="#fffc00"/>
<rect y="610.8" width="14.7" height="3.6" fill="#fff000"/>
<rect y="614.4" width="14.7" height="1.9" fill="#ffea00"/>
<rect y="616.2" width="14.7" height="1.7" fill="#fff000"/>
<rect y="617.8" width="14.7" height="8.1" fill="#ffea00"/>
<rect y="625.8" width="14.7" height="1.7" fill="#fff000"/>
<rect y="627.4" width="14.7" height="1.9" fill="#fff600"/>
<rect y="629.2" width="14.7" height="2.2" fill="#ffea00"/>
<rect y="631.4" width="14.7" height="2.0" fill="#ffde08"/>
<rect y="633.4" width="14.7" height="2.0" fill="#ffae08"/>
<rect y="635.4" width="14.7" height="1.9" fill="#ffba08"/>
<rect y="637.2" width="14.7" height="1.7" fill="#ffc608"/>
<rect y="638.8" width="14.7" height="2.2" fill="#ffae08"/>
<rect y="641.0" width="14.7" height="4.5" fill="#ffb408"/>
<rect y="645.4" width="14.7" height="2.2" fill="#ffae08"/>
<rect y="647.6" width="14.7" height="0.4" fill="#ffb408"/>
</g>
<g transform="translate(420.45 0)">
<rect y="402.4" width="14.7" height="2.0" fill="#ff4e08"/>
<rect y="404.4" width="14.7" height="1.9" fill="#ff4808"/>
<rect y="406.2" width="14.7" height="2.2" fill="#ff5a08"/>
<rect y="408.4" width="14.7" height="1.7" fill="#ff6008"/>
<rect y="410.0" width="14.7" height="1.7" fill="#ff5408"/>
<rect y="411.6" width="14.7" height="1.7" fill="#ff4e08"/>
<rect y="413.2" width="14.7" height="2.0" fill="#ff5408"/>
<rect y="415.2" width="14.7" height="1.7" fill="#ff4e08"/>
<rect y="416.8" width="14.7" height="1.9" fill="#ff3008"/>
<rect y="418.6" width="14.7" height="1.7" fill="#ff4208"/>
<rect y="420.2" width="14.7" height="1.7" fill="#ff5408"/>
<rect y="421.8" width="14.7" height="6.0" fill="#ff4e08"/>
<rect y="427.8" width="14.7" height="1.9" fill="#ff5408"/>
<rect y="429.6" width="14.7" height="1.7" fill="#ff4e08"/>
<rect y="431.2" width="14.7" height="2.2" fill="#ff3608"/>
<rect y="433.4" width="14.7" height="1.7" fill="#ff4208"/>
<rect y="435.0" width="14.7" height="5.0" fill="#ff3c08"/>
<rect y="440.0" width="14.7" height="2.2" fill="#ff2408"/>
<rect y="442.2" width="14.7" height="1.7" fill="#ff4208"/>
<rect y="443.8" width="14.7" height="1.9" fill="#ff3608"/>
<rect y="445.6" width="14.7" height="3.5" fill="#ff3c08"/>
<rect y="449.0" width="14.7" height="2.0" fill="#ff3008"/>
<rect y="451.0" width="14.7" height="2.2" fill="#ff3c08"/>
<rect y="453.2" width="14.7" height="1.9" fill="#ff3008"/>
<rect y="455.0" width="14.7" height="1.7" fill="#ff3608"/>
<rect y="456.6" width="14.7" height="2.0" fill="#ff3c08"/>
<rect y="458.6" width="14.7" height="1.9" fill="#ff3608"/>
<rect y="460.4" width="14.7" height="3.5" fill="#ff3008"/>
<rect y="463.8" width="14.7" height="2.0" fill="#ff2408"/>
<rect y="465.8" width="14.7" height="1.7" fill="#ff1e08"/>
<rect y="467.4" width="14.7" height="1.7" fill="#ff3008"/>
<rect y="469.0" width="14.7" height="1.7" fill="#ff1208"/>
<rect y="470.6" width="14.7" height="1.9" fill="#ff2a08"/>
<rect y="472.4" width="14.7" height="2.2" fill="#ff2408"/>
<rect y="474.6" width="14.7" height="2.2" fill="#ff1808"/>
<rect y="476.8" width="14.7" height="4.2" fill="#ff2408"/>
<rect y="481.0" width="14.7" height="4.2" fill="#ff1208"/>
<rect y="485.2" width="14.7" height="2.0" fill="#ff0c08"/>
<rect y="487.2" width="14.7" height="3.6" fill="#ff1208"/>
<rect y="490.8" width="14.7" height="1.9" fill="#ff0608"/>
<rect y="492.6" width="14.7" height="1.7" fill="#ff0008"/>
<rect y="494.2" width="14.7" height="2.0" fill="#ff1808"/>
<rect y="496.2" width="14.7" height="2.2" fill="#ff1e08"/>
<rect y="498.4" width="14.7" height="2.0" fill="#ff3008"/>
<rect y="500.4" width="14.7" height="2.2" fill="#ff1e08"/>
<rect y="502.6" width="14.7" height="2.0" fill="#ff2408"/>
<rect y="504.6" width="14.7" height="1.7" fill="#ff1808"/>
<rect y="506.2" width="14.7" height="1.7" fill="#ff2408"/>
<rect y="507.8" width="14.7" height="2.2" fill="#ff3008"/>
<rect y="510.0" width="14.7" height="1.9" fill="#ff1208"/>
<rect y="511.8" width="14.7" height="2.0" fill="#ff3608"/>
<rect y="513.8" width="14.7" height="1.9" fill="#ff2a08"/>
<rect y="515.6" width="14.7" height="2.2" fill="#ff1e08"/>
<rect y="517.8" width="14.7" height="2.2" fill="#ff1208"/>
<rect y="520.0" width="14.7" height="1.7" fill="#ff3008"/>
<rect y="521.6" width="14.7" height="1.7" fill="#ff2408"/>
<rect y="523.2" width="14.7" height="2.0" fill="#ff2a08"/>
<rect y="525.2" width="14.7" height="4.0" fill="#ff8408"/>
<rect y="529.2" width="14.7" height="2.2" fill="#ff8a08"/>
<rect y="531.4" width="14.7" height="2.2" fill="#ff7e08"/>
<rect y="533.6" width="14.7" height="1.7" fill="#ff8a08"/>
<rect y="535.2" width="14.7" height="1.7" fill="#ff9608"/>
<rect y="536.8" width="14.7" height="2.0" fill="#ff9008"/>
<rect y="538.8" width="14.7" height="2.2" fill="#ff8a08"/>
<rect y="541.0" width="14.7" height="1.7" fill="#ff6008"/>
<rect y="542.6" width="14.7" height="1.7" fill="#ff6c08"/>
<rect y="544.2" width="14.7" height="2.0" fill="#ff6608"/>
<rect y="546.2" width="14.7" height="2.2" fill="#ff6008"/>
<rect y="548.4" width="14.7" height="2.0" fill="#ff6608"/>
<rect y="550.4" width="14.7" height="2.2" fill="#ff5a08"/>
<rect y="552.6" width="14.7" height="2.0" fill="#ff4e08"/>
<rect y="554.6" width="14.7" height="1.7" fill="#ff6008"/>
<rect y="556.2" width="14.7" height="2.2" fill="#ff5408"/>
<rect y="558.4" width="14.7" height="2.0" fill="#ff6008"/>
<rect y="560.4" width="14.7" height="1.9" fill="#ff5a08"/>
<rect y="562.2" width="14.7" height="1.7" fill="#ff5408"/>
<rect y="563.8" width="14.7" height="2.2" fill="#ff6008"/>
<rect y="566.0" width="14.7" height="1.7" fill="#ffa808"/>
<rect y="567.6" width="14.7" height="5.6" fill="#ffd808"/>
<rect y="573.2" width="14.7" height="4.0" fill="#ffe408"/>
<rect y="577.2" width="14.7" height="4.5" fill="#ffea00"/>
<rect y="581.6" width="14.7" height="1.7" fill="#fff000"/>
<rect y="583.2" width="14.7" height="1.9" fill="#ffea00"/>
<rect y="585.0" width="14.7" height="2.2" fill="#fff000"/>
<rect y="587.2" width="14.7" height="2.2" fill="#ffea00"/>
<rect y="589.4" width="14.7" height="2.0" fill="#fff000"/>
<rect y="591.4" width="14.7" height="1.9" fill="#ffea00"/>
<rect y="593.2" width="14.7" height="10.7" fill="#fff000"/>
<rect y="603.8" width="14.7" height="3.6" fill="#fff600"/>
<rect y="607.4" width="14.7" height="1.7" fill="#fff000"/>
<rect y="609.0" width="14.7" height="1.9" fill="#fff600"/>
<rect y="610.8" width="14.7" height="1.9" fill="#fff000"/>
<rect y="612.6" width="14.7" height="3.6" fill="#ffea00"/>
<rect y="616.2" width="14.7" height="1.7" fill="#fff000"/>
<rect y="617.8" width="14.7" height="2.2" fill="#ffea00"/>
<rect y="620.0" width="14.7" height="1.9" fill="#ffe408"/>
<rect y="621.8" width="14.7" height="4.0" fill="#fff000"/>
<rect y="625.8" width="14.7" height="1.7" fill="#ffea00"/>
<rect y="627.4" width="14.7" height="1.9" fill="#fff000"/>
<rect y="629.2" width="14.7" height="2.2" fill="#ffea00"/>
<rect y="631.4" width="14.7" height="2.0" fill="#ffd808"/>
<rect y="633.4" width="14.7" height="2.0" fill="#ffa208"/>
<rect y="635.4" width="14.7" height="1.9" fill="#ffae08"/>
<rect y="637.2" width="14.7" height="3.9" fill="#ffb408"/>
<rect y="641.0" width="14.7" height="2.2" fill="#ffa208"/>
<rect y="643.2" width="14.7" height="2.2" fill="#ffae08"/>
<rect y="645.4" width="14.7" height="2.2" fill="#ffa808"/>
<rect y="647.6" width="14.7" height="0.4" fill="#ffae08"/>
</g>
<g transform="translate(435.10 0)">
<rect y="402.4" width="14.7" height="2.0" fill="#ff5408"/>
<rect y="404.4" width="14.7" height="1.9" fill="#ff4e08"/>
<rect y="406.2" width="14.7" height="2.2" fill="#ff6008"/>
<rect y="408.4" width="14.7" height="3.2" fill="#ff4e08"/>
<rect y="411.6" width="14.7" height="1.7" fill="#ff4808"/>
<rect y="413.2" width="14.7" height="3.6" fill="#ff5408"/>
<rect y="416.8" width="14.7" height="1.9" fill="#ff4808"/>
<rect y="418.6" width="14.7" height="1.7" fill="#ff5408"/>
<rect y="420.2" width="14.7" height="1.7" fill="#ff5a08"/>
<rect y="421.8" width="14.7" height="2.2" fill="#ff4808"/>
<rect y="424.0" width="14.7" height="3.9" fill="#ff4e08"/>
<rect y="427.8" width="14.7" height="3.5" fill="#ff5a08"/>
<rect y="431.2" width="14.7" height="3.9" fill="#ff3c08"/>
<rect y="435.0" width="14.7" height="3.5" fill="#ff4808"/>
<rect y="438.4" width="14.7" height="1.7" fill="#ff3c08"/>
<rect y="440.0" width="14.7" height="2.2" fill="#ff3008"/>
<rect y="442.2" width="14.7" height="1.7" fill="#ff4808"/>
<rect y="443.8" width="14.7" height="1.9" fill="#ff3008"/>
<rect y="445.6" width="14.7" height="1.7" fill="#ff4208"/>
<rect y="447.2" width="14.7" height="1.9" fill="#ff3008"/>
<rect y="449.0" width="14.7" height="2.0" fill="#ff3608"/>
<rect y="451.0" width="14.7" height="4.0" fill="#ff4208"/>
<rect y="455.0" width="14.7" height="1.7" fill="#ff3608"/>
<rect y="456.6" width="14.7" height="2.0" fill="#ff3c08"/>
<rect y="458.6" width="14.7" height="1.9" fill="#ff3608"/>
<rect y="460.4" width="14.7" height="1.7" fill="#ff2a08"/>
<rect y="462.0" width="14.7" height="1.9" fill="#ff3608"/>
<rect y="463.8" width="14.7" height="2.0" fill="#ff3008"/>
<rect y="465.8" width="14.7" height="1.7" fill="#ff1808"/>
<rect y="467.4" width="14.7" height="1.7" fill="#ff2a08"/>
<rect y="469.0" width="14.7" height="1.7" fill="#ff1808"/>
<rect y="470.6" width="14.7" height="1.9" fill="#ff2a08"/>
<rect y="472.4" width="14.7" height="2.2" fill="#ff1e08"/>
<rect y="474.6" width="14.7" height="2.2" fill="#ff2408"/>
<rect y="476.8" width="14.7" height="2.0" fill="#ff1808"/>
<rect y="478.8" width="14.7" height="4.5" fill="#ff1e08"/>
<rect y="483.2" width="14.7" height="5.8" fill="#ff1208"/>
<rect y="489.0" width="14.7" height="1.9" fill="#ff0c08"/>
<rect y="490.8" width="14.7" height="1.9" fill="#ff0008"/>
<rect y="492.6" width="14.7" height="1.7" fill="#ff0608"/>
<rect y="494.2" width="14.7" height="2.0" fill="#ff1808"/>
<rect y="496.2" width="14.7" height="2.2" fill="#ff1e08"/>
<rect y="498.4" width="14.7" height="2.0" fill="#ff2a08"/>
<rect y="500.4" width="14.7" height="2.2" fill="#ff1e08"/>
<rect y="502.6" width="14.7" height="2.0" fill="#ff2a08"/>
<rect y="504.6" width="14.7" height="1.7" fill="#ff1808"/>
<rect y="506.2" width="14.7" height="3.9" fill="#ff3008"/>
<rect y="510.0" width="14.7" height="1.9" fill="#ff1e08"/>
<rect y="511.8" width="14.7" height="2.0" fill="#ff3008"/>
<rect y="513.8" width="14.7" height="1.9" fill="#ff2a08"/>
<rect y="515.6" width="14.7" height="2.2" fill="#ff2408"/>
<rect y="517.8" width="14.7" height="2.2" fill="#ff1808"/>
<rect y="520.0" width="14.7" height="1.7" fill="#ff3608"/>
<rect y="521.6" width="14.7" height="1.7" fill="#ff2408"/>
<rect y="523.2" width="14.7" height="2.0" fill="#ff3608"/>
<rect y="525.2" width="14.7" height="2.0" fill="#ff8a08"/>
<rect y="527.2" width="14.7" height="8.1" fill="#ff8408"/>
<rect y="535.2" width="14.7" height="3.6" fill="#ff9608"/>
<rect y="538.8" width="14.7" height="2.2" fill="#ff8a08"/>
<rect y="541.0" width="14.7" height="1.7" fill="#ff6008"/>
<rect y="542.6" width="14.7" height="3.6" fill="#ff6608"/>
<rect y="546.2" width="14.7" height="2.2" fill="#ff6008"/>
<rect y="548.4" width="14.7" height="2.0" fill="#ff6608"/>
<rect y="550.4" width="14.7" height="5.9" fill="#ff5a08"/>
<rect y="556.2" width="14.7" height="2.2" fill="#ff5408"/>
<rect y="558.4" width="14.7" height="2.0" fill="#ff6008"/>
<rect y="560.4" width="14.7" height="1.9" fill="#ff5a08"/>
<rect y="562.2" width="14.7" height="1.7" fill="#ff5408"/>
<rect y="563.8" width="14.7" height="2.2" fill="#ff5a08"/>
<rect y="566.0" width="14.7" height="1.7" fill="#ffa808"/>
<rect y="567.6" width="14.7" height="1.9" fill="#ffd808"/>
<rect y="569.4" width="14.7" height="5.6" fill="#ffde08"/>
<rect y="575.0" width="14.7" height="2.2" fill="#ffe408"/>
<rect y="577.2" width="14.7" height="2.2" fill="#ffea00"/>
<rect y="579.4" width="14.7" height="3.9" fill="#fff000"/>
<rect y="583.2" width="14.7" height="1.9" fill="#ffea00"/>
<rect y="585.0" width="14.7" height="2.2" fill="#fff000"/>
<rect y="587.2" width="14.7" height="2.2" fill="#ffea00"/>
<rect y="589.4" width="14.7" height="2.0" fill="#fffc00"/>
<rect y="591.4" width="14.7" height="1.9" fill="#ffea00"/>
<rect y="593.2" width="14.7" height="2.2" fill="#fff000"/>
<rect y="595.4" width="14.7" height="2.0" fill="#fff600"/>
<rect y="597.4" width="14.7" height="2.2" fill="#fff000"/>
<rect y="599.6" width="14.7" height="2.0" fill="#fff600"/>
<rect y="601.6" width="14.7" height="2.2" fill="#fff000"/>
<rect y="603.8" width="14.7" height="1.9" fill="#fff600"/>
<rect y="605.6" width="14.7" height="7.0" fill="#fff000"/>
<rect y="612.6" width="14.7" height="1.9" fill="#ffea00"/>
<rect y="614.4" width="14.7" height="1.9" fill="#fff000"/>
<rect y="616.2" width="14.7" height="1.7" fill="#ffea00"/>
<rect y="617.8" width="14.7" height="2.2" fill="#ffe408"/>
<rect y="620.0" width="14.7" height="1.9" fill="#ffea00"/>
<rect y="621.8" width="14.7" height="2.0" fill="#fff000"/>
<rect y="623.8" width="14.7" height="2.0" fill="#ffe408"/>
<rect y="625.8" width="14.7" height="1.7" fill="#ffea00"/>
<rect y="627.4" width="14.7" height="1.9" fill="#fff000"/>
<rect y="629.2" width="14.7" height="2.2" fill="#ffea00"/>
<rect y="631.4" width="14.7" height="2.0" fill="#ffde08"/>
<rect y="633.4" width="14.7" height="2.0" fill="#ffae08"/>
<rect y="635.4" width="14.7" height="1.9" fill="#ffb408"/>
<rect y="637.2" width="14.7" height="1.7" fill="#ffc008"/>
<rect y="638.8" width="14.7" height="2.2" fill="#ffb408"/>
<rect y="641.0" width="14.7" height="2.2" fill="#ffae08"/>
<rect y="643.2" width="14.7" height="4.5" fill="#ffa808"/>
<rect y="647.6" width="14.7" height="0.4" fill="#ffae08"/>
</g>
<g transform="translate(449.75 0)">
<rect y="402.4" width="14.7" height="2.0" fill="#ff5a08"/>
<rect y="404.4" width="14.7" height="1.9" fill="#ff4e08"/>
<rect y="406.2" width="14.7" height="2.2" fill="#ff7208"/>
<rect y="408.4" width="14.7" height="1.7" fill="#ff4e08"/>
<rect y="410.0" width="14.7" height="5.2" fill="#ff5408"/>
<rect y="415.2" width="14.7" height="1.7" fill="#ff5a08"/>
<rect y="416.8" width="14.7" height="1.9" fill="#ff4208"/>
<rect y="418.6" width="14.7" height="1.7" fill="#ff4808"/>
<rect y="420.2" width="14.7" height="1.7" fill="#ff5a08"/>
<rect y="421.8" width="14.7" height="2.2" fill="#ff4e08"/>
<rect y="424.0" width="14.7" height="2.2" fill="#ff4808"/>
<rect y="426.2" width="14.7" height="1.7" fill="#ff5a08"/>
<rect y="427.8" width="14.7" height="3.5" fill="#ff5408"/>
<rect y="431.2" width="14.7" height="2.2" fill="#ff4208"/>
<rect y="433.4" width="14.7" height="1.7" fill="#ff4808"/>
<rect y="435.0" width="14.7" height="1.7" fill="#ff4208"/>
<rect y="436.6" width="14.7" height="1.9" fill="#ff4e08"/>
<rect y="438.4" width="14.7" height="1.7" fill="#ff4808"/>
<rect y="440.0" width="14.7" height="2.2" fill="#ff2a08"/>
<rect y="442.2" width="14.7" height="1.7" fill="#ff4208"/>
<rect y="443.8" width="14.7" height="3.5" fill="#ff3608"/>
<rect y="447.2" width="14.7" height="1.9" fill="#ff2a08"/>
<rect y="449.0" width="14.7" height="2.0" fill="#ff3608"/>
<rect y="451.0" width="14.7" height="2.2" fill="#ff4808"/>
<rect y="453.2" width="14.7" height="3.5" fill="#ff3608"/>
<rect y="456.6" width="14.7" height="3.8" fill="#ff3c08"/>
<rect y="460.4" width="14.7" height="1.7" fill="#ff3008"/>
<rect y="462.0" width="14.7" height="1.9" fill="#ff3c08"/>
<rect y="463.8" width="14.7" height="2.0" fill="#ff3008"/>
<rect y="465.8" width="14.7" height="1.7" fill="#ff2a08"/>
<rect y="467.4" width="14.7" height="1.7" fill="#ff3008"/>
<rect y="469.0" width="14.7" height="1.7" fill="#ff1e08"/>
<rect y="470.6" width="14.7" height="1.9" fill="#ff2408"/>
<rect y="472.4" width="14.7" height="2.2" fill="#ff1e08"/>
<rect y="474.6" width="14.7" height="2.2" fill="#ff1808"/>
<rect y="476.8" width="14.7" height="6.5" fill="#ff1e08"/>
<rect y="483.2" width="14.7" height="2.0" fill="#ff1808"/>
<rect y="485.2" width="14.7" height="2.0" fill="#ff1208"/>
<rect y="487.2" width="14.7" height="1.9" fill="#ff1e08"/>
<rect y="489.0" width="14.7" height="1.9" fill="#ff1208"/>
<rect y="490.8" width="14.7" height="3.5" fill="#ff0c08"/>
<rect y="494.2" width="14.7" height="2.0" fill="#ff1808"/>
<rect y="496.2" width="14.7" height="2.2" fill="#ff2408"/>
<rect y="498.4" width="14.7" height="2.0" fill="#ff2a08"/>
<rect y="500.4" width="14.7" height="2.2" fill="#ff1e08"/>
<rect y="502.6" width="14.7" height="5.2" fill="#ff2a08"/>
<rect y="507.8" width="14.7" height="2.2" fill="#ff3c08"/>
<rect y="510.0" width="14.7" height="1.9" fill="#ff2408"/>
<rect y="511.8" width="14.7" height="3.8" fill="#ff3008"/>
<rect y="515.6" width="14.7" height="2.2" fill="#ff2a08"/>
<rect y="517.8" width="14.7" height="2.2" fill="#ff1e08"/>
<rect y="520.0" width="14.7" height="1.7" fill="#ff3008"/>
<rect y="521.6" width="14.7" height="1.7" fill="#ff2408"/>
<rect y="523.2" width="14.7" height="2.0" fill="#ff3608"/>
<rect y="525.2" width="14.7" height="4.0" fill="#ff9008"/>
<rect y="529.2" width="14.7" height="2.2" fill="#ff9608"/>
<rect y="531.4" width="14.7" height="3.9" fill="#ff8a08"/>
<rect y="535.2" width="14.7" height="3.6" fill="#ff9608"/>
<rect y="538.8" width="14.7" height="2.2" fill="#ff9008"/>
<rect y="541.0" width="14.7" height="1.7" fill="#ff6608"/>
<rect y="542.6" width="14.7" height="1.7" fill="#ff6c08"/>
<rect y="544.2" width="14.7" height="2.0" fill="#ff6608"/>
<rect y="546.2" width="14.7" height="2.2" fill="#ff6c08"/>
<rect y="548.4" width="14.7" height="7.9" fill="#ff6008"/>
<rect y="556.2" width="14.7" height="2.2" fill="#ff4e08"/>
<rect y="558.4" width="14.7" height="2.0" fill="#ff6608"/>
<rect y="560.4" width="14.7" height="3.5" fill="#ff5a08"/>
<rect y="563.8" width="14.7" height="2.2" fill="#ff6008"/>
<rect y="566.0" width="14.7" height="1.7" fill="#ffae08"/>
<rect y="567.6" width="14.7" height="1.9" fill="#ffd808"/>
<rect y="569.4" width="14.7" height="3.8" fill="#ffde08"/>
<rect y="573.2" width="14.7" height="4.0" fill="#ffe408"/>
<rect y="577.2" width="14.7" height="2.2" fill="#ffea00"/>
<rect y="579.4" width="14.7" height="2.2" fill="#fff000"/>
<rect y="581.6" width="14.7" height="1.7" fill="#fff600"/>
<rect y="583.2" width="14.7" height="1.9" fill="#ffea00"/>
<rect y="585.0" width="14.7" height="2.2" fill="#fff000"/>
<rect y="587.2" width="14.7" height="2.2" fill="#ffea00"/>
<rect y="589.4" width="14.7" height="8.1" fill="#fff000"/>
<rect y="597.4" width="14.7" height="2.2" fill="#fff600"/>
<rect y="599.6" width="14.7" height="4.2" fill="#fff000"/>
<rect y="603.8" width="14.7" height="1.9" fill="#fff600"/>
<rect y="605.6" width="14.7" height="1.9" fill="#fff000"/>
<rect y="607.4" width="14.7" height="3.5" fill="#fff600"/>
<rect y="610.8" width="14.7" height="1.9" fill="#fff000"/>
<rect y="612.6" width="14.7" height="1.9" fill="#ffea00"/>
<rect y="614.4" width="14.7" height="3.5" fill="#fff000"/>
<rect y="617.8" width="14.7" height="4.0" fill="#ffea00"/>
<rect y="621.8" width="14.7" height="4.0" fill="#fff000"/>
<rect y="625.8" width="14.7" height="1.7" fill="#ffea00"/>
<rect y="627.4" width="14.7" height="1.9" fill="#fff000"/>
<rect y="629.2" width="14.7" height="2.2" fill="#ffea00"/>
<rect y="631.4" width="14.7" height="2.0" fill="#ffd808"/>
<rect y="633.4" width="14.7" height="2.0" fill="#ffae08"/>
<rect y="635.4" width="14.7" height="1.9" fill="#ffb408"/>
<rect y="637.2" width="14.7" height="1.7" fill="#ffc008"/>
<rect y="638.8" width="14.7" height="2.2" fill="#ffb408"/>
<rect y="641.0" width="14.7" height="2.2" fill="#ffa808"/>
<rect y="643.2" width="14.7" height="2.2" fill="#ffc008"/>
<rect y="645.4" width="14.7" height="2.6" fill="#ffb408"/>
</g>
<g transform="translate(464.40 0)">
<rect y="402.4" width="14.7" height="3.8" fill="#ff5408"/>
<rect y="406.2" width="14.7" height="2.2" fill="#ff6608"/>
<rect y="408.4" width="14.7" height="1.7" fill="#ff4e08"/>
<rect y="410.0" width="14.7" height="1.7" fill="#ff5408"/>
<rect y="411.6" width="14.7" height="1.7" fill="#ff4e08"/>
<rect y="413.2" width="14.7" height="2.0" fill="#ff5408"/>
<rect y="415.2" width="14.7" height="1.7" fill="#ff5a08"/>
<rect y="416.8" width="14.7" height="3.5" fill="#ff4808"/>
<rect y="420.2" width="14.7" height="1.7" fill="#ff6008"/>
<rect y="421.8" width="14.7" height="4.5" fill="#ff4e08"/>
<rect y="426.2" width="14.7" height="1.7" fill="#ff5a08"/>
<rect y="427.8" width="14.7" height="1.9" fill="#ff6008"/>
<rect y="429.6" width="14.7" height="1.7" fill="#ff5408"/>
<rect y="431.2" width="14.7" height="3.9" fill="#ff4208"/>
<rect y="435.0" width="14.7" height="1.7" fill="#ff4808"/>
<rect y="436.6" width="14.7" height="1.9" fill="#ff3c08"/>
<rect y="438.4" width="14.7" height="1.7" fill="#ff4e08"/>
<rect y="440.0" width="14.7" height="2.2" fill="#ff2a08"/>
<rect y="442.2" width="14.7" height="1.7" fill="#ff4808"/>
<rect y="443.8" width="14.7" height="1.9" fill="#ff2a08"/>
<rect y="445.6" width="14.7" height="1.7" fill="#ff3c08"/>
<rect y="447.2" width="14.7" height="1.9" fill="#ff3008"/>
<rect y="449.0" width="14.7" height="2.0" fill="#ff4208"/>
<rect y="451.0" width="14.7" height="4.0" fill="#ff3c08"/>
<rect y="455.0" width="14.7" height="1.7" fill="#ff3608"/>
<rect y="456.6" width="14.7" height="2.0" fill="#ff4208"/>
<rect y="458.6" width="14.7" height="1.9" fill="#ff3608"/>
<rect y="460.4" width="14.7" height="1.7" fill="#ff3008"/>
<rect y="462.0" width="14.7" height="3.8" fill="#ff3608"/>
<rect y="465.8" width="14.7" height="1.7" fill="#ff1e08"/>
<rect y="467.4" width="14.7" height="1.7" fill="#ff3608"/>
<rect y="469.0" width="14.7" height="1.7" fill="#ff2408"/>
<rect y="470.6" width="14.7" height="1.9" fill="#ff2a08"/>
<rect y="472.4" width="14.7" height="2.2" fill="#ff2408"/>
<rect y="474.6" width="14.7" height="2.2" fill="#ff1e08"/>
<rect y="476.8" width="14.7" height="2.0" fill="#ff2408"/>
<rect y="478.8" width="14.7" height="2.2" fill="#ff1808"/>
<rect y="481.0" width="14.7" height="2.2" fill="#ff2408"/>
<rect y="483.2" width="14.7" height="2.0" fill="#ff1208"/>
<rect y="485.2" width="14.7" height="2.0" fill="#ff0c08"/>
<rect y="487.2" width="14.7" height="3.6" fill="#ff1208"/>
<rect y="490.8" width="14.7" height="1.9" fill="#ff0c08"/>
<rect y="492.6" width="14.7" height="1.7" fill="#ff0008"/>
<rect y="494.2" width="14.7" height="2.0" fill="#ff2408"/>
<rect y="496.2" width="14.7" height="2.2" fill="#ff1e08"/>
<rect y="498.4" width="14.7" height="2.0" fill="#ff2a08"/>
<rect y="500.4" width="14.7" height="4.2" fill="#ff2408"/>
<rect y="504.6" width="14.7" height="1.7" fill="#ff1808"/>
<rect y="506.2" width="14.7" height="1.7" fill="#ff2a08"/>
<rect y="507.8" width="14.7" height="2.2" fill="#ff3608"/>
<rect y="510.0" width="14.7" height="3.8" fill="#ff2a08"/>
<rect y="513.8" width="14.7" height="1.9" fill="#ff3608"/>
<rect y="515.6" width="14.7" height="2.2" fill="#ff2a08"/>
<rect y="517.8" width="14.7" height="2.2" fill="#ff1e08"/>
<rect y="520.0" width="14.7" height="1.7" fill="#ff3008"/>
<rect y="521.6" width="14.7" height="1.7" fill="#ff2a08"/>
<rect y="523.2" width="14.7" height="2.0" fill="#ff3008"/>
<rect y="525.2" width="14.7" height="2.0" fill="#ff8408"/>
<rect y="527.2" width="14.7" height="2.0" fill="#ff8a08"/>
<rect y="529.2" width="14.7" height="2.2" fill="#ff9008"/>
<rect y="531.4" width="14.7" height="3.9" fill="#ff8a08"/>
<rect y="535.2" width="14.7" height="1.7" fill="#ff9c08"/>
<rect y="536.8" width="14.7" height="2.0" fill="#ff9008"/>
<rect y="538.8" width="14.7" height="2.2" fill="#ff8a08"/>
<rect y="541.0" width="14.7" height="1.7" fill="#ff6608"/>
<rect y="542.6" width="14.7" height="1.7" fill="#ff6c08"/>
<rect y="544.2" width="14.7" height="2.0" fill="#ff6608"/>
<rect y="546.2" width="14.7" height="2.2" fill="#ff6008"/>
<rect y="548.4" width="14.7" height="2.0" fill="#ff6608"/>
<rect y="550.4" width="14.7" height="4.2" fill="#ff5a08"/>
<rect y="554.6" width="14.7" height="1.7" fill="#ff6608"/>
<rect y="556.2" width="14.7" height="2.2" fill="#ff6008"/>
<rect y="558.4" width="14.7" height="3.8" fill="#ff6608"/>
<rect y="562.2" width="14.7" height="1.7" fill="#ff6008"/>
<rect y="563.8" width="14.7" height="2.2" fill="#ff6608"/>
<rect y="566.0" width="14.7" height="1.7" fill="#ffa208"/>
<rect y="567.6" width="14.7" height="1.9" fill="#ffd808"/>
<rect y="569.4" width="14.7" height="2.0" fill="#ffe408"/>
<rect y="571.4" width="14.7" height="1.9" fill="#ffd808"/>
<rect y="573.2" width="14.7" height="1.9" fill="#ffde08"/>
<rect y="575.0" width="14.7" height="2.2" fill="#ffe408"/>
<rect y="577.2" width="14.7" height="2.2" fill="#ffea00"/>
<rect y="579.4" width="14.7" height="2.2" fill="#fff000"/>
<rect y="581.6" width="14.7" height="1.7" fill="#fff600"/>
<rect y="583.2" width="14.7" height="6.2" fill="#fff000"/>
<rect y="589.4" width="14.7" height="2.0" fill="#fff600"/>
<rect y="591.4" width="14.7" height="4.0" fill="#fff000"/>
<rect y="595.4" width="14.7" height="4.2" fill="#fff600"/>
<rect y="599.6" width="14.7" height="2.0" fill="#ffea00"/>
<rect y="601.6" width="14.7" height="11.1" fill="#fff600"/>
<rect y="612.6" width="14.7" height="3.6" fill="#ffea00"/>
<rect y="616.2" width="14.7" height="1.7" fill="#fff600"/>
<rect y="617.8" width="14.7" height="4.0" fill="#ffea00"/>
<rect y="621.8" width="14.7" height="4.0" fill="#fff000"/>
<rect y="625.8" width="14.7" height="1.7" fill="#ffe408"/>
<rect y="627.4" width="14.7" height="1.9" fill="#fff000"/>
<rect y="629.2" width="14.7" height="2.2" fill="#ffea00"/>
<rect y="631.4" width="14.7" height="2.0" fill="#ffde08"/>
<rect y="633.4" width="14.7" height="2.0" fill="#ffa808"/>
<rect y="635.4" width="14.7" height="1.9" fill="#ffae08"/>
<rect y="637.2" width="14.7" height="6.0" fill="#ffb408"/>
<rect y="643.2" width="14.7" height="2.2" fill="#ffae08"/>
<rect y="645.4" width="14.7" height="2.2" fill="#ffa208"/>
<rect y="647.6" width="14.7" height="0.4" fill="#ffc008"/>
</g>
<g transform="translate(479.05 0)">
<rect y="402.4" width="14.7" height="2.0" fill="#ff6008"/>
<rect y="404.4" width="14.7" height="1.9" fill="#ff5408"/>
<rect y="406.2" width="14.7" height="2.2" fill="#ff6008"/>
<rect y="408.4" width="14.7" height="1.7" fill="#ff4e08"/>
<rect y="410.0" width="14.7" height="1.7" fill="#ff4808"/>
<rect y="411.6" width="14.7" height="1.7" fill="#ff5408"/>
<rect y="413.2" width="14.7" height="2.0" fill="#ff5a08"/>
<rect y="415.2" width="14.7" height="1.7" fill="#ff4e08"/>
<rect y="416.8" width="14.7" height="1.9" fill="#ff4208"/>
<rect y="418.6" width="14.7" height="1.7" fill="#ff4e08"/>
<rect y="420.2" width="14.7" height="1.7" fill="#ff5a08"/>
<rect y="421.8" width="14.7" height="2.2" fill="#ff4e08"/>
<rect y="424.0" width="14.7" height="2.2" fill="#ff5a08"/>
<rect y="426.2" width="14.7" height="1.7" fill="#ff5408"/>
<rect y="427.8" width="14.7" height="3.5" fill="#ff5a08"/>
<rect y="431.2" width="14.7" height="2.2" fill="#ff4208"/>
<rect y="433.4" width="14.7" height="1.7" fill="#ff4808"/>
<rect y="435.0" width="14.7" height="1.7" fill="#ff3c08"/>
<rect y="436.6" width="14.7" height="1.9" fill="#ff4e08"/>
<rect y="438.4" width="14.7" height="1.7" fill="#ff4208"/>
<rect y="440.0" width="14.7" height="2.2" fill="#ff2a08"/>
<rect y="442.2" width="14.7" height="1.7" fill="#ff4208"/>
<rect y="443.8" width="14.7" height="1.9" fill="#ff3008"/>
<rect y="445.6" width="14.7" height="1.7" fill="#ff3c08"/>
<rect y="447.2" width="14.7" height="1.9" fill="#ff3008"/>
<rect y="449.0" width="14.7" height="4.2" fill="#ff4208"/>
<rect y="453.2" width="14.7" height="1.9" fill="#ff3c08"/>
<rect y="455.0" width="14.7" height="1.7" fill="#ff3008"/>
<rect y="456.6" width="14.7" height="2.0" fill="#ff3608"/>
<rect y="458.6" width="14.7" height="1.9" fill="#ff3c08"/>
<rect y="460.4" width="14.7" height="3.5" fill="#ff3008"/>
<rect y="463.8" width="14.7" height="2.0" fill="#ff2a08"/>
<rect y="465.8" width="14.7" height="1.7" fill="#ff2408"/>
<rect y="467.4" width="14.7" height="1.7" fill="#ff2a08"/>
<rect y="469.0" width="14.7" height="1.7" fill="#ff1808"/>
<rect y="470.6" width="14.7" height="1.9" fill="#ff2a08"/>
<rect y="472.4" width="14.7" height="2.2" fill="#ff1808"/>
<rect y="474.6" width="14.7" height="2.2" fill="#ff2408"/>
<rect y="476.8" width="14.7" height="2.0" fill="#ff2a08"/>
<rect y="478.8" width="14.7" height="2.2" fill="#ff2408"/>
<rect y="481.0" width="14.7" height="2.2" fill="#ff1e08"/>
<rect y="483.2" width="14.7" height="2.0" fill="#ff1208"/>
<rect y="485.2" width="14.7" height="2.0" fill="#ff0c08"/>
<rect y="487.2" width="14.7" height="1.9" fill="#ff1808"/>
<rect y="489.0" width="14.7" height="1.9" fill="#ff0c08"/>
<rect y="490.8" width="14.7" height="1.9" fill="#ff0608"/>
<rect y="492.6" width="14.7" height="1.7" fill="#ff0c08"/>
<rect y="494.2" width="14.7" height="2.0" fill="#ff2a08"/>
<rect y="496.2" width="14.7" height="2.2" fill="#ff1e08"/>
<rect y="498.4" width="14.7" height="2.0" fill="#ff3008"/>
<rect y="500.4" width="14.7" height="2.2" fill="#ff2408"/>
<rect y="502.6" width="14.7" height="2.0" fill="#ff2a08"/>
<rect y="504.6" width="14.7" height="1.7" fill="#ff1e08"/>
<rect y="506.2" width="14.7" height="1.7" fill="#ff2a08"/>
<rect y="507.8" width="14.7" height="2.2" fill="#ff3608"/>
<rect y="510.0" width="14.7" height="1.9" fill="#ff2408"/>
<rect y="511.8" width="14.7" height="2.0" fill="#ff3608"/>
<rect y="513.8" width="14.7" height="4.0" fill="#ff2a08"/>
<rect y="517.8" width="14.7" height="2.2" fill="#ff2408"/>
<rect y="520.0" width="14.7" height="1.7" fill="#ff3008"/>
<rect y="521.6" width="14.7" height="1.7" fill="#ff2a08"/>
<rect y="523.2" width="14.7" height="2.0" fill="#ff3c08"/>
<rect y="525.2" width="14.7" height="2.0" fill="#ff8408"/>
<rect y="527.2" width="14.7" height="2.0" fill="#ff9008"/>
<rect y="529.2" width="14.7" height="2.2" fill="#ff8a08"/>
<rect y="531.4" width="14.7" height="2.2" fill="#ff7e08"/>
<rect y="533.6" width="14.7" height="1.7" fill="#ff9008"/>
<rect y="535.2" width="14.7" height="3.6" fill="#ff9608"/>
<rect y="538.8" width="14.7" height="2.2" fill="#ff8408"/>
<rect y="541.0" width="14.7" height="1.7" fill="#ff6008"/>
<rect y="542.6" width="14.7" height="3.6" fill="#ff6608"/>
<rect y="546.2" width="14.7" height="2.2" fill="#ff6008"/>
<rect y="548.4" width="14.7" height="2.0" fill="#ff6608"/>
<rect y="550.4" width="14.7" height="2.2" fill="#ff6c08"/>
<rect y="552.6" width="14.7" height="2.0" fill="#ff4e08"/>
<rect y="554.6" width="14.7" height="1.7" fill="#ff6008"/>
<rect y="556.2" width="14.7" height="2.2" fill="#ff5408"/>
<rect y="558.4" width="14.7" height="3.8" fill="#ff6008"/>
<rect y="562.2" width="14.7" height="1.7" fill="#ff5a08"/>
<rect y="563.8" width="14.7" height="2.2" fill="#ff6008"/>
<rect y="566.0" width="14.7" height="1.7" fill="#ff9c08"/>
<rect y="567.6" width="14.7" height="1.9" fill="#ffd808"/>
<rect y="569.4" width="14.7" height="2.0" fill="#ffe408"/>
<rect y="571.4" width="14.7" height="1.9" fill="#ffde08"/>
<rect y="573.2" width="14.7" height="1.9" fill="#ffe408"/>
<rect y="575.0" width="14.7" height="4.5" fill="#ffea00"/>
<rect y="579.4" width="14.7" height="3.9" fill="#fff000"/>
<rect y="583.2" width="14.7" height="1.9" fill="#ffea00"/>
<rect y="585.0" width="14.7" height="4.5" fill="#fff000"/>
<rect y="589.4" width="14.7" height="2.0" fill="#fff600"/>
<rect y="591.4" width="14.7" height="1.9" fill="#ffea00"/>
<rect y="593.2" width="14.7" height="10.7" fill="#fff000"/>
<rect y="603.8" width="14.7" height="1.9" fill="#fffc00"/>
<rect y="605.6" width="14.7" height="3.5" fill="#fff000"/>
<rect y="609.0" width="14.7" height="1.9" fill="#fff600"/>
<rect y="610.8" width="14.7" height="1.9" fill="#fff000"/>
<rect y="612.6" width="14.7" height="1.9" fill="#ffea00"/>
<rect y="614.4" width="14.7" height="1.9" fill="#fff000"/>
<rect y="616.2" width="14.7" height="1.7" fill="#fff600"/>
<rect y="617.8" width="14.7" height="2.2" fill="#ffe408"/>
<rect y="620.0" width="14.7" height="5.8" fill="#ffea00"/>
<rect y="625.8" width="14.7" height="5.7" fill="#fff000"/>
<rect y="631.4" width="14.7" height="2.0" fill="#ffde08"/>
<rect y="633.4" width="14.7" height="2.0" fill="#ffa208"/>
<rect y="635.4" width="14.7" height="1.9" fill="#ffb408"/>
<rect y="637.2" width="14.7" height="1.7" fill="#ffba08"/>
<rect y="638.8" width="14.7" height="4.5" fill="#ffae08"/>
<rect y="643.2" width="14.7" height="2.2" fill="#ffb408"/>
<rect y="645.4" width="14.7" height="2.2" fill="#ffae08"/>
<rect y="647.6" width="14.7" height="0.4" fill="#ffc008"/>
</g>
<g transform="translate(493.70 0)">
<rect y="402.4" width="14.7" height="2.0" fill="#ff5a08"/>
<rect y="404.4" width="14.7" height="1.9" fill="#ff4808"/>
<rect y="406.2" width="14.7" height="2.2" fill="#ff6608"/>
<rect y="408.4" width="14.7" height="1.7" fill="#ff5a08"/>
<rect y="410.0" width="14.7" height="3.2" fill="#ff4e08"/>
<rect y="413.2" width="14.7" height="2.0" fill="#ff5a08"/>
<rect y="415.2" width="14.7" height="1.7" fill="#ff4e08"/>
<rect y="416.8" width="14.7" height="1.9" fill="#ff4208"/>
<rect y="418.6" width="14.7" height="1.7" fill="#ff4808"/>
<rect y="420.2" width="14.7" height="1.7" fill="#ff5408"/>
<rect y="421.8" width="14.7" height="2.2" fill="#ff4208"/>
<rect y="424.0" width="14.7" height="2.2" fill="#ff5408"/>
<rect y="426.2" width="14.7" height="1.7" fill="#ff5a08"/>
<rect y="427.8" width="14.7" height="1.9" fill="#ff5408"/>
<rect y="429.6" width="14.7" height="1.7" fill="#ff4e08"/>
<rect y="431.2" width="14.7" height="2.2" fill="#ff4208"/>
<rect y="433.4" width="14.7" height="1.7" fill="#ff4808"/>
<rect y="435.0" width="14.7" height="1.7" fill="#ff3c08"/>
<rect y="436.6" width="14.7" height="3.5" fill="#ff4208"/>
<rect y="440.0" width="14.7" height="2.2" fill="#ff3008"/>
<rect y="442.2" width="14.7" height="1.7" fill="#ff4208"/>
<rect y="443.8" width="14.7" height="3.5" fill="#ff3608"/>
<rect y="447.2" width="14.7" height="1.9" fill="#ff2408"/>
<rect y="449.0" width="14.7" height="4.2" fill="#ff3c08"/>
<rect y="453.2" width="14.7" height="3.5" fill="#ff3608"/>
<rect y="456.6" width="14.7" height="2.0" fill="#ff3c08"/>
<rect y="458.6" width="14.7" height="1.9" fill="#ff3008"/>
<rect y="460.4" width="14.7" height="3.5" fill="#ff3608"/>
<rect y="463.8" width="14.7" height="2.0" fill="#ff3008"/>
<rect y="465.8" width="14.7" height="1.7" fill="#ff2408"/>
<rect y="467.4" width="14.7" height="1.7" fill="#ff3608"/>
<rect y="469.0" width="14.7" height="3.5" fill="#ff1e08"/>
<rect y="472.4" width="14.7" height="2.2" fill="#ff1808"/>
<rect y="474.6" width="14.7" height="2.2" fill="#ff2a08"/>
<rect y="476.8" width="14.7" height="6.5" fill="#ff2408"/>
<rect y="483.2" width="14.7" height="2.0" fill="#ff1208"/>
<rect y="485.2" width="14.7" height="2.0" fill="#ff0c08"/>
<rect y="487.2" width="14.7" height="1.9" fill="#ff1808"/>
<rect y="489.0" width="14.7" height="1.9" fill="#ff1208"/>
<rect y="490.8" width="14.7" height="3.5" fill="#ff0c08"/>
<rect y="494.2" width="14.7" height="2.0" fill="#ff1e08"/>
<rect y="496.2" width="14.7" height="2.2" fill="#ff2a08"/>
<rect y="498.4" width="14.7" height="2.0" fill="#ff3008"/>
<rect y="500.4" width="14.7" height="2.2" fill="#ff1808"/>
<rect y="502.6" width="14.7" height="2.0" fill="#ff3008"/>
<rect y="504.6" width="14.7" height="1.7" fill="#ff1e08"/>
<rect y="506.2" width="14.7" height="3.9" fill="#ff3008"/>
<rect y="510.0" width="14.7" height="1.9" fill="#ff1e08"/>
<rect y="511.8" width="14.7" height="2.0" fill="#ff3008"/>
<rect y="513.8" width="14.7" height="1.9" fill="#ff2a08"/>
<rect y="515.6" width="14.7" height="2.2" fill="#ff2408"/>
<rect y="517.8" width="14.7" height="2.2" fill="#ff1808"/>
<rect y="520.0" width="14.7" height="1.7" fill="#ff3008"/>
<rect y="521.6" width="14.7" height="1.7" fill="#ff2408"/>
<rect y="523.2" width="14.7" height="2.0" fill="#ff3008"/>
<rect y="525.2" width="14.7" height="2.0" fill="#ff8a08"/>
<rect y="527.2" width="14.7" height="2.0" fill="#ff9608"/>
<rect y="529.2" width="14.7" height="2.2" fill="#ff9c08"/>
<rect y="531.4" width="14.7" height="2.2" fill="#ff8408"/>
<rect y="533.6" width="14.7" height="1.7" fill="#ff9608"/>
<rect y="535.2" width="14.7" height="1.7" fill="#ff9008"/>
<rect y="536.8" width="14.7" height="2.0" fill="#ff9608"/>
<rect y="538.8" width="14.7" height="2.2" fill="#ff8a08"/>
<rect y="541.0" width="14.7" height="1.7" fill="#ff6008"/>
<rect y="542.6" width="14.7" height="1.7" fill="#ff6c08"/>
<rect y="544.2" width="14.7" height="2.0" fill="#ff5a08"/>
<rect y="546.2" width="14.7" height="4.2" fill="#ff6608"/>
<rect y="550.4" width="14.7" height="2.2" fill="#ff5a08"/>
<rect y="552.6" width="14.7" height="2.0" fill="#ff5408"/>
<rect y="554.6" width="14.7" height="1.7" fill="#ff6008"/>
<rect y="556.2" width="14.7" height="2.2" fill="#ff5408"/>
<rect y="558.4" width="14.7" height="3.8" fill="#ff6608"/>
<rect y="562.2" width="14.7" height="1.7" fill="#ff6008"/>
<rect y="563.8" width="14.7" height="2.2" fill="#ff5a08"/>
<rect y="566.0" width="14.7" height="1.7" fill="#ffa208"/>
<rect y="567.6" width="14.7" height="1.9" fill="#ffd808"/>
<rect y="569.4" width="14.7" height="2.0" fill="#ffe408"/>
<rect y="571.4" width="14.7" height="1.9" fill="#ffde08"/>
<rect y="573.2" width="14.7" height="4.0" fill="#ffe408"/>
<rect y="577.2" width="14.7" height="2.2" fill="#ffea00"/>
<rect y="579.4" width="14.7" height="2.2" fill="#fff000"/>
<rect y="581.6" width="14.7" height="1.7" fill="#fff600"/>
<rect y="583.2" width="14.7" height="1.9" fill="#fff000"/>
<rect y="585.0" width="14.7" height="4.5" fill="#ffea00"/>
<rect y="589.4" width="14.7" height="6.0" fill="#fff000"/>
<rect y="595.4" width="14.7" height="2.0" fill="#fff600"/>
<rect y="597.4" width="14.7" height="6.5" fill="#fff000"/>
<rect y="603.8" width="14.7" height="8.9" fill="#fff600"/>
<rect y="612.6" width="14.7" height="5.2" fill="#fff000"/>
<rect y="617.8" width="14.7" height="2.2" fill="#ffe408"/>
<rect y="620.0" width="14.7" height="3.8" fill="#fff000"/>
<rect y="623.8" width="14.7" height="3.6" fill="#ffea00"/>
<rect y="627.4" width="14.7" height="4.0" fill="#fff000"/>
<rect y="631.4" width="14.7" height="2.0" fill="#ffde08"/>
<rect y="633.4" width="14.7" height="2.0" fill="#ff9c08"/>
<rect y="635.4" width="14.7" height="1.9" fill="#ffb408"/>
<rect y="637.2" width="14.7" height="1.7" fill="#ffc008"/>
<rect y="638.8" width="14.7" height="2.2" fill="#ffae08"/>
<rect y="641.0" width="14.7" height="2.2" fill="#ffa808"/>
<rect y="643.2" width="14.7" height="2.2" fill="#ffb408"/>
<rect y="645.4" width="14.7" height="2.2" fill="#ffae08"/>
<rect y="647.6" width="14.7" height="0.4" fill="#ffb408"/>
</g>
<g transform="translate(508.35 0)">
<rect y="402.4" width="14.7" height="2.0" fill="#ff5408"/>
<rect y="404.4" width="14.7" height="1.9" fill="#ff4e08"/>
<rect y="406.2" width="14.7" height="2.2" fill="#ff6608"/>
<rect y="408.4" width="14.7" height="3.2" fill="#ff5a08"/>
<rect y="411.6" width="14.7" height="1.7" fill="#ff5408"/>
<rect y="413.2" width="14.7" height="2.0" fill="#ff4e08"/>
<rect y="415.2" width="14.7" height="3.5" fill="#ff4808"/>
<rect y="418.6" width="14.7" height="1.7" fill="#ff4e08"/>
<rect y="420.2" width="14.7" height="1.7" fill="#ff5a08"/>
<rect y="421.8" width="14.7" height="2.2" fill="#ff4808"/>
<rect y="424.0" width="14.7" height="2.2" fill="#ff5408"/>
<rect y="426.2" width="14.7" height="1.7" fill="#ff4e08"/>
<rect y="427.8" width="14.7" height="3.5" fill="#ff5a08"/>
<rect y="431.2" width="14.7" height="2.2" fill="#ff4208"/>
<rect y="433.4" width="14.7" height="1.7" fill="#ff4e08"/>
<rect y="435.0" width="14.7" height="1.7" fill="#ff4208"/>
<rect y="436.6" width="14.7" height="1.9" fill="#ff4808"/>
<rect y="438.4" width="14.7" height="1.7" fill="#ff4e08"/>
<rect y="440.0" width="14.7" height="2.2" fill="#ff2a08"/>
<rect y="442.2" width="14.7" height="1.7" fill="#ff4208"/>
<rect y="443.8" width="14.7" height="1.9" fill="#ff3608"/>
<rect y="445.6" width="14.7" height="1.7" fill="#ff4808"/>
<rect y="447.2" width="14.7" height="1.9" fill="#ff3008"/>
<rect y="449.0" width="14.7" height="4.2" fill="#ff4208"/>
<rect y="453.2" width="14.7" height="3.5" fill="#ff3008"/>
<rect y="456.6" width="14.7" height="3.8" fill="#ff3608"/>
<rect y="460.4" width="14.7" height="1.7" fill="#ff3008"/>
<rect y="462.0" width="14.7" height="1.9" fill="#ff3608"/>
<rect y="463.8" width="14.7" height="2.0" fill="#ff3008"/>
<rect y="465.8" width="14.7" height="1.7" fill="#ff1e08"/>
<rect y="467.4" width="14.7" height="1.7" fill="#ff3c08"/>
<rect y="469.0" width="14.7" height="1.7" fill="#ff1e08"/>
<rect y="470.6" width="14.7" height="1.9" fill="#ff2a08"/>
<rect y="472.4" width="14.7" height="2.2" fill="#ff2408"/>
<rect y="474.6" width="14.7" height="2.2" fill="#ff1e08"/>
<rect y="476.8" width="14.7" height="2.0" fill="#ff2408"/>
<rect y="478.8" width="14.7" height="4.5" fill="#ff1e08"/>
<rect y="483.2" width="14.7" height="4.0" fill="#ff1208"/>
<rect y="487.2" width="14.7" height="1.9" fill="#ff1808"/>
<rect y="489.0" width="14.7" height="1.9" fill="#ff0c08"/>
<rect y="490.8" width="14.7" height="3.5" fill="#ff0608"/>
<rect y="494.2" width="14.7" height="4.2" fill="#ff1808"/>
<rect y="498.4" width="14.7" height="2.0" fill="#ff3008"/>
<rect y="500.4" width="14.7" height="2.2" fill="#ff2a08"/>
<rect y="502.6" width="14.7" height="2.0" fill="#ff2408"/>
<rect y="504.6" width="14.7" height="1.7" fill="#ff1e08"/>
<rect y="506.2" width="14.7" height="1.7" fill="#ff3608"/>
<rect y="507.8" width="14.7" height="2.2" fill="#ff3c08"/>
<rect y="510.0" width="14.7" height="1.9" fill="#ff2408"/>
<rect y="511.8" width="14.7" height="3.8" fill="#ff3008"/>
<rect y="515.6" width="14.7" height="2.2" fill="#ff3608"/>
<rect y="517.8" width="14.7" height="2.2" fill="#ff1e08"/>
<rect y="520.0" width="14.7" height="1.7" fill="#ff3608"/>
<rect y="521.6" width="14.7" height="3.6" fill="#ff2a08"/>
<rect y="525.2" width="14.7" height="4.0" fill="#ff8408"/>
<rect y="529.2" width="14.7" height="2.2" fill="#ff9608"/>
<rect y="531.4" width="14.7" height="2.2" fill="#ff8408"/>
<rect y="533.6" width="14.7" height="1.7" fill="#ff9c08"/>
<rect y="535.2" width="14.7" height="3.6" fill="#ff9608"/>
<rect y="538.8" width="14.7" height="2.2" fill="#ff8a08"/>
<rect y="541.0" width="14.7" height="1.7" fill="#ff6608"/>
<rect y="542.6" width="14.7" height="1.7" fill="#ff7808"/>
<rect y="544.2" width="14.7" height="2.0" fill="#ff6608"/>
<rect y="546.2" width="14.7" height="2.2" fill="#ff6c08"/>
<rect y="548.4" width="14.7" height="2.0" fill="#ff7208"/>
<rect y="550.4" width="14.7" height="2.2" fill="#ff6008"/>
<rect y="552.6" width="14.7" height="2.0" fill="#ff5a08"/>
<rect y="554.6" width="14.7" height="1.7" fill="#ff6008"/>
<rect y="556.2" width="14.7" height="2.2" fill="#ff5a08"/>
<rect y="558.4" width="14.7" height="3.8" fill="#ff6608"/>
<rect y="562.2" width="14.7" height="1.7" fill="#ff5a08"/>
<rect y="563.8" width="14.7" height="2.2" fill="#ff6608"/>
<rect y="566.0" width="14.7" height="1.7" fill="#ffa208"/>
<rect y="567.6" width="14.7" height="1.9" fill="#ffd808"/>
<rect y="569.4" width="14.7" height="2.0" fill="#ffe408"/>
<rect y="571.4" width="14.7" height="1.9" fill="#ffde08"/>
<rect y="573.2" width="14.7" height="1.9" fill="#ffe408"/>
<rect y="575.0" width="14.7" height="2.2" fill="#ffea00"/>
<rect y="577.2" width="14.7" height="10.1" fill="#fff000"/>
<rect y="587.2" width="14.7" height="2.2" fill="#ffea00"/>
<rect y="589.4" width="14.7" height="2.0" fill="#fff600"/>
<rect y="591.4" width="14.7" height="1.9" fill="#ffea00"/>
<rect y="593.2" width="14.7" height="8.5" fill="#fff000"/>
<rect y="601.6" width="14.7" height="4.0" fill="#fff600"/>
<rect y="605.6" width="14.7" height="1.9" fill="#fff000"/>
<rect y="607.4" width="14.7" height="3.5" fill="#fff600"/>
<rect y="610.8" width="14.7" height="5.5" fill="#fff000"/>
<rect y="616.2" width="14.7" height="1.7" fill="#ffea00"/>
<rect y="617.8" width="14.7" height="2.2" fill="#ffe408"/>
<rect y="620.0" width="14.7" height="1.9" fill="#ffea00"/>
<rect y="621.8" width="14.7" height="4.0" fill="#fff000"/>
<rect y="625.8" width="14.7" height="1.7" fill="#ffea00"/>
<rect y="627.4" width="14.7" height="4.0" fill="#fff000"/>
<rect y="631.4" width="14.7" height="2.0" fill="#ffd808"/>
<rect y="633.4" width="14.7" height="2.0" fill="#ffae08"/>
<rect y="635.4" width="14.7" height="1.9" fill="#ffb408"/>
<rect y="637.2" width="14.7" height="1.7" fill="#ffba08"/>
<rect y="638.8" width="14.7" height="2.2" fill="#ffa808"/>
<rect y="641.0" width="14.7" height="2.2" fill="#ffb408"/>
<rect y="643.2" width="14.7" height="4.5" fill="#ffae08"/>
<rect y="647.6" width="14.7" height="0.4" fill="#ffba08"/>
</g>
</g>
<path d="M127.5 402.4V648 M142.1 402.4V648 M156.8 402.4V648 M171.4 402.4V648 M186.1 402.4V648 M200.7 402.4V648 M215.3 402.4V648 M230.0 402.4V648 M244.6 402.4V648 M259.3 402.4V648 M273.9 402.4V648 M288.6 402.4V648 M303.2 402.4V648 M317.9 402.4V648 M332.6 402.4V648 M347.2 402.4V648 M361.9 402.4V648 M376.5 402.4V648 M391.2 402.4V648 M405.8 402.4V648 M420.5 402.4V648 M435.1 402.4V648 M449.8 402.4V648 M464.4 402.4V648 M479.1 402.4V648 M493.7 402.4V648 M508.4 402.4V648" stroke="#fff" stroke-opacity="0.08" stroke-width="0.6"/>
<path d="M61.3 505.6L61.3 618.6 M61.3 505.6L82.7 505.6 M61.3 618.6L91.1 618.6 M82.7 465.5L82.7 545.2 M82.7 465.5L96.3 465.5 M82.7 545.2L98.4 545.2 M96.3 435.6L96.3 494.8 M96.3 435.6L103.3 435.6 M96.3 494.8L104.6 494.8 M103.3 418.4L103.3 452.2 M103.3 418.4L108 418.4 M103.3 452.2L108 452.2 M104.6 484.6L104.6 505 M104.6 484.6L108 484.6 M104.6 505L108 505 M98.4 533.2L98.4 557.5 M98.4 533.2L106 533.2 M98.4 557.5L105 557.5 M91.1 596.1L91.1 641.1 M91.1 596.1L101.3 596.1 M91.1 641.1L103.3 641.1 M101.3 574.3L101.3 617.3 M101.3 574.3L106 574.3 M101.3 617.3L107 617.3" stroke="#777" stroke-width="1" fill="none" stroke-linecap="butt"/>
<rect x="109.5" y="402.4" width="3.5" height="245.6" fill="#606060"/>
<path d="M112.5 403.0C107.3 403.8 107.3 409.9 112.5 410.6 M112.5 407.0C107.5 407.8 107.5 414.0 112.5 414.8 M112.5 410.5C107.5 411.0 107.5 415.4 112.5 416.0 M112.5 413.0C108.7 414.0 108.7 422.3 112.5 423.3 M112.5 416.9C106.6 417.4 106.6 421.1 112.5 421.6 M112.5 419.1C106.1 419.6 106.1 423.0 112.5 423.5 M112.5 421.5C107.2 422.4 107.2 429.8 112.5 430.7 M112.5 424.6C107.4 425.0 107.4 428.3 112.5 428.7 M112.5 425.9C108.3 426.5 108.3 430.9 112.5 431.4 M112.5 427.6C107.7 428.4 107.7 434.5 112.5 435.3 M112.5 431.5C107.1 432.4 107.1 438.9 112.5 439.7 M112.5 435.0C107.6 435.9 107.6 443.4 112.5 444.3 M112.5 438.4C106.0 439.6 106.0 449.2 112.5 450.4 M112.5 444.6C108.1 445.5 108.1 453.2 112.5 454.2 M112.5 448.0C108.8 448.6 108.8 453.7 112.5 454.3 M112.5 451.1C106.5 451.8 106.5 457.6 112.5 458.3 M112.5 454.0C106.5 455.1 106.5 464.5 112.5 465.6 M112.5 457.5C106.3 458.0 106.3 462.6 112.5 463.1 M112.5 459.8C107.8 461.0 107.8 470.5 112.5 471.7 M112.5 463.6C106.7 464.5 106.7 471.7 112.5 472.6 M112.5 466.9C108.0 467.4 108.0 471.2 112.5 471.6 M112.5 469.5C108.6 470.5 108.6 478.5 112.5 479.5 M112.5 473.1C108.8 473.6 108.8 477.4 112.5 477.9 M112.5 475.5C107.3 476.0 107.3 480.4 112.5 480.9 M112.5 477.7C106.8 478.3 106.8 482.7 112.5 483.3 M112.5 479.6C108.7 480.5 108.7 487.8 112.5 488.7 M112.5 483.3C108.2 483.9 108.2 488.4 112.5 489.0 M112.5 486.4C108.1 487.4 108.1 495.8 112.5 496.8 M112.5 491.8C107.8 492.4 107.8 496.9 112.5 497.5 M112.5 494.7C108.7 495.6 108.7 503.0 112.5 503.9 M112.5 499.7C108.2 500.3 108.2 504.9 112.5 505.4 M112.5 502.6C108.1 503.2 108.1 508.5 112.5 509.2 M112.5 504.7C107.3 505.1 107.3 508.9 112.5 509.4 M112.5 506.4C107.9 507.2 107.9 514.3 112.5 515.2 M112.5 510.0C107.5 511.2 107.5 520.5 112.5 521.7 M112.5 515.2C108.5 516.3 108.5 525.0 112.5 526.1 M112.5 518.9C106.5 520.0 106.5 529.0 112.5 530.2 M112.5 523.0C106.8 523.5 106.8 527.9 112.5 528.5 M112.5 525.9C106.1 526.5 106.1 530.9 112.5 531.5 M112.5 528.8C107.7 529.7 107.7 536.8 112.5 537.7 M112.5 531.7C106.1 532.1 106.1 535.6 112.5 536.0 M112.5 533.2C108.2 534.2 108.2 541.9 112.5 542.9 M112.5 538.1C108.1 539.0 108.1 546.0 112.5 546.9 M112.5 541.1C108.8 542.1 108.8 549.9 112.5 550.9 M112.5 544.6C106.4 545.5 106.4 552.3 112.5 553.1 M112.5 548.5C106.2 549.1 106.2 554.1 112.5 554.7 M112.5 550.7C108.2 551.1 108.2 554.4 112.5 554.8 M112.5 552.4C108.5 552.8 108.5 556.4 112.5 556.8 M112.5 554.1C108.6 555.0 108.6 561.8 112.5 562.7 M112.5 557.5C106.1 558.6 106.1 567.5 112.5 568.6 M112.5 562.6C107.2 563.6 107.2 571.2 112.5 572.2 M112.5 565.8C108.9 566.3 108.9 569.7 112.5 570.1 M112.5 568.1C106.1 569.0 106.1 576.7 112.5 577.7 M112.5 571.0C107.6 571.9 107.6 579.2 112.5 580.1 M112.5 575.4C106.0 576.1 106.0 581.3 112.5 582.0 M112.5 577.5C106.8 578.3 106.8 585.0 112.5 585.9 M112.5 581.9C106.9 582.9 106.9 590.8 112.5 591.8 M112.5 586.8C107.9 588.0 107.9 597.0 112.5 598.1 M112.5 592.2C106.4 593.3 106.4 602.2 112.5 603.4 M112.5 596.7C106.4 597.7 106.4 606.0 112.5 607.0 M112.5 601.3C107.9 602.2 107.9 609.4 112.5 610.3 M112.5 605.3C108.8 606.2 108.8 613.3 112.5 614.1 M112.5 609.4C106.4 610.5 106.4 620.1 112.5 621.3 M112.5 615.1C106.8 615.8 106.8 621.5 112.5 622.2 M112.5 618.3C106.5 619.0 106.5 625.0 112.5 625.8 M112.5 620.7C108.9 621.7 108.9 629.7 112.5 630.7 M112.5 625.2C108.3 626.0 108.3 632.3 112.5 633.0 M112.5 628.9C107.2 629.7 107.2 636.1 112.5 636.9 M112.5 633.2C109.0 633.8 109.0 638.6 112.5 639.2 M112.5 635.4C108.4 636.4 108.4 643.9 112.5 644.8 M112.5 638.6C107.0 639.8 107.0 648.8 112.5 649.9 M112.5 643.3C108.0 644.4 108.0 653.3 112.5 654.4" stroke="#111" stroke-width="0.75" fill="none"/>
<path d="M110 403L109.7 405.6L112.1 409.4L109.4 413.4L109.1 416.7L110.0 419.2L111.7 423.1L112.3 426.7L108.3 429.5L108.9 432.6L109.6 435.2L110.0 438.6L111.7 441.5L109.8 445.6L107.7 448.0L107.7 451.9L110.4 455.5L111.5 458.4L108.2 460.6L107.6 463.7L108.7 467.6L107.7 470.1L109.7 473.5L110.8 477.0L112.3 480.8L108.5 484.4L108.4 487.5L109.9 489.7L108.4 493.4L109.2 496.1L110.1 499.7L111.3 503.1L111.5 506.1L107.9 510.1L111.1 514.2L109.8 516.6L112.0 520.1L110.3 523.1L111.5 527.0L109.8 531.1L108.5 534.6L111.6 538.2L111.1 541.7L112.0 544.4L112.4 548.5L111.5 551.8L112.0 554.6L109.2 558.5L109.7 560.9L111.3 564.2L107.6 567.4L107.8 571.2L108.4 575.0L111.4 577.9L108.2 580.4L111.1 583.6L110.9 587.5L110.0 591.6L107.9 595.7L110.1 598.3L111.1 601.1L110.1 604.6L110.3 608.4L109.4 611.3L112.0 615.2L111.8 617.8L110.1 621.9L108.5 625.3L110.0 628.5L107.6 631.9L110.1 636.1L111.5 639.1L110.0 642.4L107.8 646.0L109.6 647.5" stroke="#000" stroke-width="0.6" fill="none"/>
<text transform="matrix(0.78 -1.2 1.13 0 123.7 401.9)" font-size="10" stroke="#000" stroke-width="0.5">RS1-1</text>
<text transform="matrix(0.78 -1.2 1.13 0 138.4 401.9)" font-size="10" stroke="#000" stroke-width="0.5">RS1-2</text>
<text transform="matrix(0.78 -1.2 1.13 0 153.0 401.9)" font-size="10" stroke="#000" stroke-width="0.5">RS1-3</text>
<text transform="matrix(0.78 -1.2 1.13 0 167.7 401.9)" font-size="10" stroke="#000" stroke-width="0.5">RS1-4</text>
<text transform="matrix(0.78 -1.2 1.13 0 182.3 401.9)" font-size="10" stroke="#000" stroke-width="0.5">RS1-5</text>
<text transform="matrix(0.78 -1.2 1.13 0 197.0 401.9)" font-size="10" stroke="#000" stroke-width="0.5">RS2-1</text>
<text transform="matrix(0.78 -1.2 1.13 0 211.6 401.9)" font-size="10" stroke="#000" stroke-width="0.5">RS2-2</text>
<text transform="matrix(0.78 -1.2 1.13 0 226.3 401.9)" font-size="10" stroke="#000" stroke-width="0.5">RS2-3</text>
<text transform="matrix(0.78 -1.2 1.13 0 240.9 401.9)" font-size="10" stroke="#000" stroke-width="0.5">RS3-1</text>
<text transform="matrix(0.78 -1.2 1.13 0 255.6 401.9)" font-size="10" stroke="#000" stroke-width="0.5">RS3-2</text>
<text transform="matrix(0.78 -1.2 1.13 0 270.2 401.9)" font-size="10" stroke="#000" stroke-width="0.5">RS3-3</text>
<text transform="matrix(0.78 -1.2 1.13 0 284.9 401.9)" font-size="10" stroke="#000" stroke-width="0.5">RS4</text>
<text transform="matrix(0.78 -1.2 1.13 0 299.5 401.9)" font-size="10" stroke="#000" stroke-width="0.5">TA1</text>
<text transform="matrix(0.78 -1.2 1.13 0 314.2 401.9)" font-size="10" stroke="#000" stroke-width="0.5">TA2</text>
<text transform="matrix(0.78 -1.2 1.13 0 328.8 401.9)" font-size="10" stroke="#000" stroke-width="0.5">TA3</text>
<text transform="matrix(0.78 -1.2 1.13 0 343.5 401.9)" font-size="10" stroke="#000" stroke-width="0.5">TA4</text>
<text transform="matrix(0.78 -1.2 1.13 0 358.1 401.9)" font-size="10" stroke="#000" stroke-width="0.5">TA5</text>
<text transform="matrix(0.78 -1.2 1.13 0 372.8 401.9)" font-size="10" stroke="#000" stroke-width="0.5">XC1</text>
<text transform="matrix(0.78 -1.2 1.13 0 387.4 401.9)" font-size="10" stroke="#000" stroke-width="0.5">XC4</text>
<text transform="matrix(0.78 -1.2 1.13 0 402.1 401.9)" font-size="10" stroke="#000" stroke-width="0.5">XC5</text>
<text transform="matrix(0.78 -1.2 1.13 0 416.7 401.9)" font-size="10" stroke="#000" stroke-width="0.5">225</text>
<text transform="matrix(0.78 -1.2 1.13 0 431.4 401.9)" font-size="10" stroke="#000" stroke-width="0.5">235</text>
<text transform="matrix(0.78 -1.2 1.13 0 446.0 401.9)" font-size="10" stroke="#000" stroke-width="0.5">243</text>
<text transform="matrix(0.78 -1.2 1.13 0 460.7 401.9)" font-size="10" stroke="#000" stroke-width="0.5">SE51</text>
<text transform="matrix(0.78 -1.2 1.13 0 475.3 401.9)" font-size="10" stroke="#000" stroke-width="0.5">SE61</text>
<text transform="matrix(0.78 -1.2 1.13 0 490.0 401.9)" font-size="10" stroke="#000" stroke-width="0.5">SE81</text>
<text transform="matrix(0.78 -1.2 1.13 0 504.6 401.9)" font-size="10" stroke="#000" stroke-width="0.5">SF01</text>
<text transform="matrix(0.78 -1.2 1.13 0 519.3 401.9)" font-size="10" stroke="#000" stroke-width="0.5">SF91</text>
<text x="531" y="418" font-size="13.2" font-weight="bold" fill="#000" textLength="83" lengthAdjust="spacingAndGlyphs">Methylation</text>
<text x="555.4" y="436.3" font-size="13.2" font-weight="bold" fill="#000" textLength="36.6" lengthAdjust="spacingAndGlyphs">Level</text>
<defs><linearGradient id="cb" x1="0" y1="0" x2="0" y2="1"><stop offset="0" stop-color="#ff1400"/><stop offset="0.5" stop-color="#ff8a00"/><stop offset="1" stop-color="#ffff00"/></linearGradient></defs>
<rect x="564" y="449.3" width="16.5" height="104.2" fill="url(#cb)"/>
<text x="585.3" y="463.7" font-size="17" font-weight="bold" fill="#000">1</text>
<text x="584.8" y="554" font-size="18" font-weight="bold" fill="#000">0</text>
<defs>
<g id="chb">
<path d="M0 37.5V22H7.6V37.5Q7.6 39 3.8 39Q0 39 0 37.5Z" fill="#c8c8c8"/>
<path d="M0 3.9V2.6Q0 0 3.8 0Q7.6 0 7.6 2.6V3.9Z" fill="#000"/>
<rect x="0" y="7.3" width="7.6" height="2.4" fill="#000"/>
<rect x="0" y="12" width="7.6" height="2.4" fill="#000"/>
<rect x="0" y="18" width="7.6" height="4.2" fill="#000"/>
<path d="M0.3 3.9V18M7.3 3.9V18" stroke="#ddd" stroke-width="0.6"/>
<path d="M7.6 4H11.4M7.6 8.6H11.4M7.6 13.2H11.4M7.6 18.3H11.4M7.6 22.4H11.4" stroke="#000" stroke-width="0.8"/>
</g>
<circle id="lf" r="1.65" fill="#000"/>
<circle id="lo" r="1.4" fill="#fff" stroke="#222" stroke-width="0.6"/>
</defs>
<g transform="translate(211.4 661.0)"><use href="#chb"/><use href="#lf" x="13" y="4"/><use href="#lo" x="13" y="8.6"/><use href="#lf" x="13" y="13.2"/><use href="#lo" x="13" y="18.3"/><use href="#lf" x="13" y="22.4"/></g>
<g transform="translate(302.1 723.6)"><use href="#chb"/><use href="#lf" x="13" y="4"/><use href="#lo" x="13" y="8.6"/><use href="#lf" x="13" y="13.2"/><use href="#lo" x="13" y="18.3"/><use href="#lf" x="13" y="22.4"/></g>
<g transform="translate(404.8 782.9)"><use href="#chb"/><use href="#lf" x="13" y="4"/><use href="#lo" x="13" y="8.6"/><use href="#lf" x="13" y="13.2"/><use href="#lo" x="13" y="18.3"/><use href="#lf" x="13" y="22.4"/></g>
<g transform="translate(133.7 880.5)"><use href="#chb"/><use href="#lf" x="13" y="4"/><use href="#lo" x="13" y="8.6"/><use href="#lf" x="13" y="13.2"/><use href="#lo" x="13" y="18.3"/><use href="#lo" x="13" y="22.4"/></g>
<text transform="matrix(0.85 -1.23 1.42 0 142.0 923)" font-size="10" stroke="#000" stroke-width="0.4" text-anchor="end">E1b1a1</text>
<g transform="translate(177.5 880.5)"><use href="#chb"/><use href="#lf" x="13" y="4"/><use href="#lo" x="13" y="8.6"/><use href="#lf" x="13" y="13.2"/><use href="#lo" x="13" y="18.3"/><use href="#lf" x="13" y="22.4"/></g>
<text transform="matrix(0.85 -1.23 1.42 0 185.8 923)" font-size="10" stroke="#000" stroke-width="0.4" text-anchor="end">O1a1</text>
<g transform="translate(216.5 880.5)"><use href="#chb"/><use href="#lf" x="13" y="4"/><use href="#lo" x="13" y="8.6"/><use href="#lf" x="13" y="13.2"/><use href="#lo" x="13" y="18.3"/><use href="#lf" x="13" y="22.4"/></g>
<text transform="matrix(0.85 -1.23 1.42 0 224.8 923)" font-size="10" stroke="#000" stroke-width="0.4" text-anchor="end">O2*</text>
<g transform="translate(258.9 880.5)"><use href="#chb"/><use href="#lf" x="13" y="4"/><use href="#lo" x="13" y="8.6"/><use href="#lf" x="13" y="13.2"/><use href="#lo" x="13" y="18.3"/><use href="#lf" x="13" y="22.4"/></g>
<text transform="matrix(0.85 -1.23 1.42 0 267.2 923)" font-size="10" stroke="#000" stroke-width="0.4" text-anchor="end">O3a1c*</text>
<g transform="translate(294.5 880.5)"><use href="#chb"/><use href="#lf" x="13" y="4"/><use href="#lo" x="13" y="8.6"/><use href="#lf" x="13" y="13.2"/><use href="#lo" x="13" y="18.3"/><use href="#lf" x="13" y="22.4"/></g>
<text transform="matrix(0.85 -1.23 1.42 0 302.8 923)" font-size="10" stroke="#000" stroke-width="0.4" text-anchor="end">O3a1c1*</text>
<g transform="translate(334.5 880.5)"><use href="#chb"/><use href="#lf" x="13" y="4"/><use href="#lo" x="13" y="8.6"/><use href="#lf" x="13" y="13.2"/><use href="#lo" x="13" y="18.3"/><use href="#lf" x="13" y="22.4"/></g>
<text transform="matrix(0.85 -1.23 1.42 0 342.8 923)" font-size="10" stroke="#000" stroke-width="0.4" text-anchor="end">O3a1c1a</text>
<g transform="translate(373.8 880.5)"><use href="#chb"/><use href="#lf" x="13" y="4"/><use href="#lo" x="13" y="8.6"/><use href="#lf" x="13" y="13.2"/><use href="#lo" x="13" y="18.3"/><use href="#lf" x="13" y="22.4"/></g>
<text transform="matrix(0.85 -1.23 1.42 0 382.1 923)" font-size="10" stroke="#000" stroke-width="0.4" text-anchor="end">O3a1c2a*</text>
<g transform="translate(413.8 880.5)"><use href="#chb"/><use href="#lf" x="13" y="4"/><use href="#lo" x="13" y="8.6"/><use href="#lf" x="13" y="13.2"/><use href="#lo" x="13" y="18.3"/><use href="#lf" x="13" y="22.4"/></g>
<text transform="matrix(0.85 -1.23 1.42 0 422.1 923)" font-size="10" stroke="#000" stroke-width="0.4" text-anchor="end">O3a1c2a3</text>
<g transform="translate(460.0 880.5)"><use href="#chb"/><use href="#lf" x="13" y="4"/><use href="#lo" x="13" y="8.6"/><use href="#lo" x="13" y="13.2"/><use href="#lo" x="13" y="18.3"/><use href="#lf" x="13" y="22.4"/></g>
<text transform="matrix(0.85 -1.23 1.42 0 468.3 923)" font-size="10" stroke="#000" stroke-width="0.4" text-anchor="end">O3a2b</text>
<g transform="translate(501.9 880.5)"><use href="#chb"/><use href="#lf" x="13" y="4"/><use href="#lo" x="13" y="8.6"/><use href="#lf" x="13" y="13.2"/><use href="#lo" x="13" y="18.3"/><use href="#lf" x="13" y="22.4"/></g>
<text transform="matrix(0.85 -1.23 1.42 0 510.2 923)" font-size="10" stroke="#000" stroke-width="0.4" text-anchor="end">O3a2c*</text>
<g transform="translate(539.2 880.5)"><use href="#chb"/><use href="#lf" x="13" y="4"/><use href="#lo" x="13" y="8.6"/><use href="#lf" x="13" y="13.2"/><use href="#lo" x="13" y="18.3"/><use href="#lf" x="13" y="22.4"/></g>
<text transform="matrix(0.85 -1.23 1.42 0 547.5 923)" font-size="10" stroke="#000" stroke-width="0.4" text-anchor="end">O3a2c1*</text>
<g transform="translate(580.8 880.5)"><use href="#chb"/><use href="#lf" x="13" y="4"/><use href="#lo" x="13" y="8.6"/><use href="#lf" x="13" y="13.2"/><use href="#lo" x="13" y="18.3"/><use href="#lf" x="13" y="22.4"/></g>
<text transform="matrix(0.85 -1.23 1.42 0 589.1 923)" font-size="10" stroke="#000" stroke-width="0.4" text-anchor="end">O3a2c1a</text>
<path d="M215.2 702L215.2 712.7 M137.5 712.7L305.7 712.7 M137.5 712.7L137.5 873 M305.7 712.7L305.7 721 M305.9 762L305.9 772.4 M202 772.4L408.6 772.4 M202 772.4L202 780.3 M181.3 780.3L220.3 780.3 M181.3 780.3L181.3 873 M220.3 780.3L220.3 873 M408.6 772.4L408.6 781 M408.6 822.9L408.6 832 M314.4 832L501 832 M314.4 832L314.4 842 M262.7 842L368.4 842 M262.7 842L262.7 873 M368.4 842L368.4 849.3 M318.9 849.3L397.6 849.3 M318.9 849.3L318.9 859.4 M298.3 859.4L338.3 859.4 M298.3 859.4L298.3 873 M338.3 859.4L338.3 873 M397.6 849.3L397.6 865.8 M377.6 865.8L417.6 865.8 M377.6 865.8L377.6 873 M417.6 865.8L417.6 873 M501 832L501 844.6 M463.8 844.6L534.3 844.6 M463.8 844.6L463.8 873 M534.3 844.6L534.3 856.4 M505.7 856.4L561 856.4 M505.7 856.4L505.7 873 M561 856.4L561 866.7 M543 866.7L584.6 866.7 M543 866.7L543 873 M584.6 866.7L584.6 873" stroke="#000" stroke-width="2" fill="none" stroke-linecap="square"/>
<line x1="225.2" y1="705.7" x2="243.6" y2="690.7" stroke="#e80010" stroke-width="2.2"/>
<line x1="505.7" y1="840.8" x2="524.8" y2="826.7" stroke="#e80010" stroke-width="2.2"/>
<text x="283.4" y="672.1" font-size="11.5" font-weight="bold" fill="#e80010" text-anchor="middle" textLength="27.4" lengthAdjust="spacingAndGlyphs">54.1</text>
<text x="284" y="685.7" font-size="11.5" font-weight="bold" fill="#e80010" text-anchor="middle" textLength="72.1" lengthAdjust="spacingAndGlyphs">(50.6-58.2)</text>
<text x="564.7" y="807.6" font-size="11.5" font-weight="bold" fill="#e80010" text-anchor="middle" textLength="27.2" lengthAdjust="spacingAndGlyphs">18.1</text>
<text x="565.3" y="821" font-size="11.5" font-weight="bold" fill="#e80010" text-anchor="middle" textLength="73.5" lengthAdjust="spacingAndGlyphs">(16.6-19.6)</text>
<polygon points="154.30,896.60 155.51,899.84 158.96,899.99 156.26,902.14 157.18,905.46 154.30,903.56 151.42,905.46 152.34,902.14 149.64,899.99 153.09,899.84" fill="#c00000"/>
<polygon points="479.50,886.30 480.71,889.54 484.16,889.69 481.46,891.84 482.38,895.16 479.50,893.26 476.62,895.16 477.54,891.84 474.84,889.69 478.29,889.54" fill="#c00000"/>
<line x1="448.4" y1="722.8" x2="464.4" y2="722.8" stroke="#000" stroke-width="1.3"/>
<circle cx="468.4" cy="722.8" r="3.6" fill="#fff" stroke="#000" stroke-width="1.4"/>
<line x1="448.4" y1="738.3" x2="464.4" y2="738.3" stroke="#000" stroke-width="1.3"/>
<circle cx="468.4" cy="738.3" r="4.2" fill="#000"/>
<text x="480" y="727" font-size="11.5" font-weight="bold" fill="#000" textLength="89.3" lengthAdjust="spacingAndGlyphs">Unmethylated</text>
<text x="480" y="742.5" font-size="11.5" font-weight="bold" fill="#000" textLength="70" lengthAdjust="spacingAndGlyphs">Methylated</text>
<text x="116.8" y="91.9" font-size="6.8" font-weight="bold" fill="#1e1e1e" textLength="29.3" lengthAdjust="spacingAndGlyphs">General</text>
<text x="116.8" y="100.7" font-size="6.8" font-weight="bold" fill="#1e1e1e" textLength="17" lengthAdjust="spacingAndGlyphs">CAO</text>
<text x="116.8" y="109.4" font-size="6.8" font-weight="bold" fill="#1e1e1e" textLength="42.8" lengthAdjust="spacingAndGlyphs">Quanzheng</text>
<text x="116.8" y="117.7" font-size="6.8" font-weight="bold" fill="#1e1e1e" textLength="33.5" lengthAdjust="spacingAndGlyphs">819~880</text>
<text x="150.5" y="117.7" font-size="4.9" font-weight="bold" fill="#1e1e1e" textLength="7.5" lengthAdjust="spacingAndGlyphs">AD</text>
<text x="188" y="95.5" font-size="6.8" font-weight="bold" fill="#1e1e1e" textLength="32.7" lengthAdjust="spacingAndGlyphs">Emperor</text>
<text x="188" y="103.8" font-size="6.8" font-weight="bold" fill="#1e1e1e" textLength="34.9" lengthAdjust="spacingAndGlyphs">CAO Cao</text>
<text x="188.3" y="112.7" font-size="6.8" font-weight="normal" fill="#1e1e1e" textLength="32.2" lengthAdjust="spacingAndGlyphs">155~220</text>
<text x="220.7" y="112.7" font-size="4.9" font-weight="normal" fill="#1e1e1e" textLength="7.3" lengthAdjust="spacingAndGlyphs">AD</text>
<text x="271.2" y="91.5" font-size="6.8" font-weight="bold" fill="#1e1e1e" textLength="30.9" lengthAdjust="spacingAndGlyphs">Marquis</text>
<text x="271.2" y="100.7" font-size="6.8" font-weight="bold" fill="#1e1e1e" textLength="36.1" lengthAdjust="spacingAndGlyphs">CAO Can</text>
<text x="271.4" y="109.4" font-size="6.8" font-weight="normal" fill="#1e1e1e" textLength="23.4" lengthAdjust="spacingAndGlyphs">?~190</text>
<text x="295.0" y="109.4" font-size="4.9" font-weight="normal" fill="#1e1e1e" textLength="7.8" lengthAdjust="spacingAndGlyphs">BC</text>
<text x="386.8" y="91.9" font-size="6.8" font-weight="bold" fill="#1e1e1e" textLength="32.1" lengthAdjust="spacingAndGlyphs">Emperor</text>
<text x="386.8" y="101.1" font-size="6.8" font-weight="bold" fill="#1e1e1e" textLength="38.9" lengthAdjust="spacingAndGlyphs">CAO Fang</text>
<text x="386.8" y="109.6" font-size="6.8" font-weight="normal" fill="#1e1e1e" textLength="32.2" lengthAdjust="spacingAndGlyphs">232~274</text>
<text x="419.2" y="109.6" font-size="4.9" font-weight="normal" fill="#1e1e1e" textLength="7.2" lengthAdjust="spacingAndGlyphs">AD</text>
<text x="519.4" y="91.2" font-size="6.8" font-weight="bold" fill="#1e1e1e" textLength="44.5" lengthAdjust="spacingAndGlyphs">CAO Comte</text>
<text x="519.4" y="100.7" font-size="6.8" font-weight="bold" fill="#1e1e1e" textLength="62.8" lengthAdjust="spacingAndGlyphs">ZHENG Kunwan</text>
<text x="519.6" y="109" font-size="6.8" font-weight="normal" fill="#1e1e1e" textLength="23.6" lengthAdjust="spacingAndGlyphs">?~560</text>
<text x="543.4" y="109" font-size="4.9" font-weight="normal" fill="#1e1e1e" textLength="7.6" lengthAdjust="spacingAndGlyphs">BC</text>
<g><path d="M89.4 94Q90 91.5 93 91Q95 88.6 98.5 89Q101.5 90 101.5 92.5Q105.5 93 108.6 96.5L107.5 98Q103 95.8 98 96.6Q94 97.2 92 99.5L90.5 99Z" fill="#111"/><path d="M90.5 97Q87 101 84.5 104.5Q83 106.5 82.5 108.5Q85.5 106 88 103.5Q87 107 86.5 112.5Q88.5 108 90 104Q91 101 92.5 99Z" fill="#111"/><path d="M96.5 99Q95.8 104 96.5 109Q98 114 103 116.3Q108 117 111 114Q113 110 112.5 104Q112 99.5 108.5 97" stroke="#3a3a3a" stroke-width="0.7" fill="none" stroke-linecap="round" stroke-linejoin="round"/><path d="M99 102.6Q101.5 101.8 104.6 102.8Q103 105 100.5 105.2Q99 104.5 99 102.6Z" fill="#888"/><path d="M108 102.4Q110 101.8 111.6 102.8Q110.5 104.6 108.6 104.4Z" fill="#999"/><path d="M97.5 111.5Q103 109.5 111 110.5M99 113.5Q103 112.5 108 113.5" stroke="#3a3a3a" stroke-width="0.7" fill="none" stroke-linecap="round" stroke-linejoin="round"/><path d="M104 105Q103 108 105 109" stroke="#777" stroke-width="0.5" fill="none" stroke-linecap="round" stroke-linejoin="round"/><path d="M88.4 117.6L92.3 115.2L106.6 127.1L102.8 129.3Z" fill="#111"/><path d="M111.9 115.7L115.3 119.5Q106 131 97 140.5L90.4 138.6Q102 129 111.9 115.7Z" fill="#111"/><path d="M78 122.4Q83 118 88.5 115.7M115.1 118.6Q124 126 131.3 138.6M79 129Q81 135 83 141M81 132Q85 137 87 140M84 140.5Q96 142.5 112 141M121 129Q123 134 121 140.5M113 132Q116 136 114 141" stroke="#1e1e1e" stroke-width="0.75" fill="none" stroke-linecap="round" stroke-linejoin="round"/><path d="M107 130Q110 135 108 141" stroke="#666" stroke-width="0.5" fill="none" stroke-linecap="round" stroke-linejoin="round"/><path d="M157.6 96Q158.5 91 162 89.5Q167 87.5 172 88Q177.5 87.3 180 90Q182 94 181.7 101Q177 99.5 172 100Q167 100.5 163.5 102Q160 100 157.6 96Z" fill="#2e2e2e"/><path d="M158.5 93L163 88.8M161.5 94L167 88.2M165 95L171 88.2M169 96L175 88.4M173 98L178.5 89.5M177 99L181 93" stroke="#bbb" stroke-width="0.7" fill="none" stroke-linecap="round" stroke-linejoin="round"/><path d="M162.7 101Q162 109 163.5 115Q166 118 169 117.7L169.5 110Q168 104 167 101Z" fill="#555"/><path d="M169 100.5Q168.5 108 170 113Q174 117.7 180 117Q184 113 184 105Q184 101 181.5 100" stroke="#1e1e1e" stroke-width="0.75" fill="none" stroke-linecap="round" stroke-linejoin="round"/><path d="M171 103.7Q174 103 177.3 104Q176 106.9 173 106.9Q171.5 106 171 103.7Z" fill="#333"/><path d="M180 104Q182 103.3 183.7 104.3Q182.5 106.5 180.5 106Z" fill="#333"/><path d="M172.5 112.6Q177 110.5 184 112Q186 118 184.9 124Q182 129.7 178 129.7Q174 127 172.5 120Z" fill="#333"/><path d="M174 113Q178 116 183 114" stroke="#ddd" stroke-width="0.7" fill="none" stroke-linecap="round" stroke-linejoin="round"/><path d="M160.5 117.8L164.5 116.3L181.5 130.5L178.5 134.5Z" fill="#111"/><path d="M146 137Q150 126 160.5 117.5M183 118Q192 124 199 135M146.5 141.5Q170 143 199.5 142M151 131Q155 137 157 142M189 128Q191 135 189.5 142M194 132Q196 137 195 142" stroke="#1e1e1e" stroke-width="0.75" fill="none" stroke-linecap="round" stroke-linejoin="round"/><path d="M165 126Q169 132 167 140M170 134Q174 138 172 142M157 139Q160 141 163 140M182 137Q185 140 188 139" stroke="#3a3a3a" stroke-width="0.7" fill="none" stroke-linecap="round" stroke-linejoin="round"/><path d="M243.4 92Q243 88.5 247 87.8Q252 87 256.5 87.5Q259 88.5 258.7 91.5Q257 94.5 251 94.6Q245.5 94.6 243.4 92Z" fill="#6a6a6a"/><path d="M245.5 90.5h1.2M249 89.5h1.5M253 89.8h1.2M247 92.5h1.3M251.5 92.3h1.4M255 91.8h1" stroke="#ddd" stroke-width="0.8" fill="none" stroke-linecap="round" stroke-linejoin="round"/><path d="M246.9 95.5Q246 101 247.3 107L250.3 107Q249.5 101 250.8 95.2Z" fill="#333"/><path d="M250.8 95.2Q256 94 259 95Q265 97 266.4 101.5Q266.5 107 265.7 112" stroke="#2e2e2e" stroke-width="0.7" fill="none" stroke-linecap="round" stroke-linejoin="round"/><path d="M253.8 102.9Q256.5 102 259.4 103.2Q258 104.6 255 104.4Z" fill="#333"/><path d="M262.9 103Q264.5 102.4 265.7 103.3Q264.6 104.6 263.2 104.3Z" fill="#333"/><path d="M255.5 110.5Q259 109 262 110Q264.5 109.5 265.5 111.5Q263.5 113.5 260 113Q257 113.5 255.5 112Z" fill="#222"/><path d="M256.5 113Q260 112.5 263.8 113.5Q264 119 262 124Q260.5 127 259.5 127.5Q257.5 121 256.5 113Z" fill="#2b2b2b"/><path d="M248.4 108Q248 113 249.5 118.2L252.4 118Q251.5 113 252 108.5Z" fill="#333"/><path d="M230 143.6Q231 132 236.2 124.3Q239 119 243.3 115.1L247.3 109" stroke="#1a1a1a" stroke-width="0.75" fill="none" stroke-linecap="round" stroke-linejoin="round"/><path d="M244.3 116.2Q248 121 252.4 126.3Q256 131 258.5 135.5M247.3 112Q251 118 254.5 123Q257.5 127.5 259.5 131.5" stroke="#1a1a1a" stroke-width="0.75" fill="none" stroke-linecap="round" stroke-linejoin="round"/><path d="M265.6 114.2Q262 121 259.5 126Q256 131 252.4 135.5" stroke="#1a1a1a" stroke-width="0.75" fill="none" stroke-linecap="round" stroke-linejoin="round"/><path d="M265.6 116.2Q272 118.5 276.8 122.3Q281.5 126 283.9 131.4Q286 137 286 143.6" stroke="#1a1a1a" stroke-width="0.75" fill="none" stroke-linecap="round" stroke-linejoin="round"/><path d="M241.2 136.5Q249 133.5 256.5 133.4Q263 133 268.7 135.5" stroke="#1a1a1a" stroke-width="0.75" fill="none" stroke-linecap="round" stroke-linejoin="round"/><path d="M265.6 136.5L268.7 144.6M269.7 135.5L273.8 144.6M273.8 135.5L278.8 144.6M276.8 130.5L283 144" stroke="#1e1e1e" stroke-width="0.75" fill="none" stroke-linecap="round" stroke-linejoin="round"/><path d="M239.2 128.4Q240 133 241.2 136.5M244.3 126.3Q245.5 132 246.3 138.5M234 135Q236 139 237 144" stroke="#2e2e2e" stroke-width="0.7" fill="none" stroke-linecap="round" stroke-linejoin="round"/><path d="M270 124Q271.5 128 271 132M274.5 125Q276 129 275.5 133" stroke="#666" stroke-width="0.5" fill="none" stroke-linecap="round" stroke-linejoin="round"/><path d="M435 88H458V100H435Z" fill="#7d7d7d"/><path d="M436 91H457M436 94H457M437 97H456" stroke="#666" stroke-width="0.6" fill="none" stroke-linecap="round" stroke-linejoin="round"/><path d="M433 98H460V106H433Z" fill="#8c8c8c"/><path d="M446 99a1.2 1.2 0 1 0 0.1 0Z" fill="#e06040"/><path d="M433 106Q430 115 432 124M460 106Q463 115 461 124" stroke="#777" stroke-width="0.6" fill="none" stroke-linecap="round" stroke-linejoin="round"/><path d="M438 106H456V118Q452 122 447 122Q441 122 438 118Z" fill="#ffffff"/><path d="M440 110Q442 109 444 110M449 110Q451 109 453 110" stroke="#2e2e2e" stroke-width="0.7" fill="none" stroke-linecap="round" stroke-linejoin="round"/><path d="M444 116.5Q447 118.5 450 116.5Q447 118 444 116.5Z" fill="#a02010"/><path d="M420 130Q425 125 432 124L434 143H420Z" fill="#f0a070"/><path d="M457 124Q465 126 470 132L469 143H457Z" fill="#f0a070"/><path d="M428 122Q447 126 464 122L466 145H427Z" fill="#7c7c7c"/><path d="M436 122L446 134L457 122L453 122L446 129L440 122Z" fill="#e4e4e4"/><path d="M430 128l2 3M433 135l3 2M438 139l2 3M452 138l3 -2M458 131l2 3M444 140l2 -2M449 133l2 2M428 140l3 1M460 140l2 -3" stroke="#d8d8d8" stroke-width="0.9" fill="none" stroke-linecap="round" stroke-linejoin="round"/><path d="M431 103Q428 112 430 121M434 106Q432 114 433 122M459 104Q462 112 461 121M462 106Q465 114 463 122" stroke="#888" stroke-width="0.6" fill="none" stroke-linecap="round" stroke-linejoin="round"/><path d="M430 126Q440 130 448 128M432 132Q445 137 462 130M430 138Q446 142 464 136M436 124L440 145M452 124L450 145M458 126L460 145" stroke="#bbb" stroke-width="0.7" fill="none" stroke-linecap="round" stroke-linejoin="round"/><path d="M491.4 94Q492 91.5 495 91.5Q497 90.5 500 90.9Q504 91 504.9 94Q505 97 503 97.9Q498 98.4 493.5 97.9Q491.2 96.5 491.4 94Z" fill="#5a5a5a"/><path d="M494 94.5l1.5 -1M497 93.5h2.5M501 94.5l1.5 1" stroke="#e0e0e0" stroke-width="0.9" fill="none" stroke-linecap="round" stroke-linejoin="round"/><path d="M493.5 98Q491.2 102 491.6 107Q492 110 493.5 111.4L495.2 110Q494 105 495.4 99Z" fill="#151515"/><path d="M495 98.4Q501 97.4 506.5 97.5Q511 99 514 103.3Q513.5 109 513 113Q512 116 510 118Q505 119.5 500 118.5Q496.5 116.5 495 113" stroke="#1a1a1a" stroke-width="0.75" fill="none" stroke-linecap="round" stroke-linejoin="round"/><path d="M500 104.4H506M500.8 106.5Q503 105.8 505 106.6M509.7 107.3Q511.5 106.5 513.5 107.5" stroke="#1a1a1a" stroke-width="0.75" fill="none" stroke-linecap="round" stroke-linejoin="round"/><path d="M499.5 111.5Q502 113 504 112.5" stroke="#444" stroke-width="0.6" fill="none" stroke-linecap="round" stroke-linejoin="round"/><path d="M503.8 113.4Q507.5 112 511.9 112.6Q512.5 114.4 511 115.1Q507.5 114.2 504.5 115Z" fill="#161616"/><path d="M505.5 118.3Q508 117.6 510 118.5Q510.2 123 508.8 129.7Q506.8 125 505.5 118.3Z" fill="#222"/><path d="M474 132Q480 121 490 115M490 115Q494 124 500 130Q504 136 503 145M494 117Q500 126 506 132Q509 138 508.5 145M512 118Q521 122 527 132Q529 138 528 145M480 136Q482 140 481 145M486 130Q490 137 488 145M516 128Q520 134 519 145M498 132Q499 139 497 145" stroke="#1a1a1a" stroke-width="0.75" fill="none" stroke-linecap="round" stroke-linejoin="round"/></g>
</svg></body></html>
